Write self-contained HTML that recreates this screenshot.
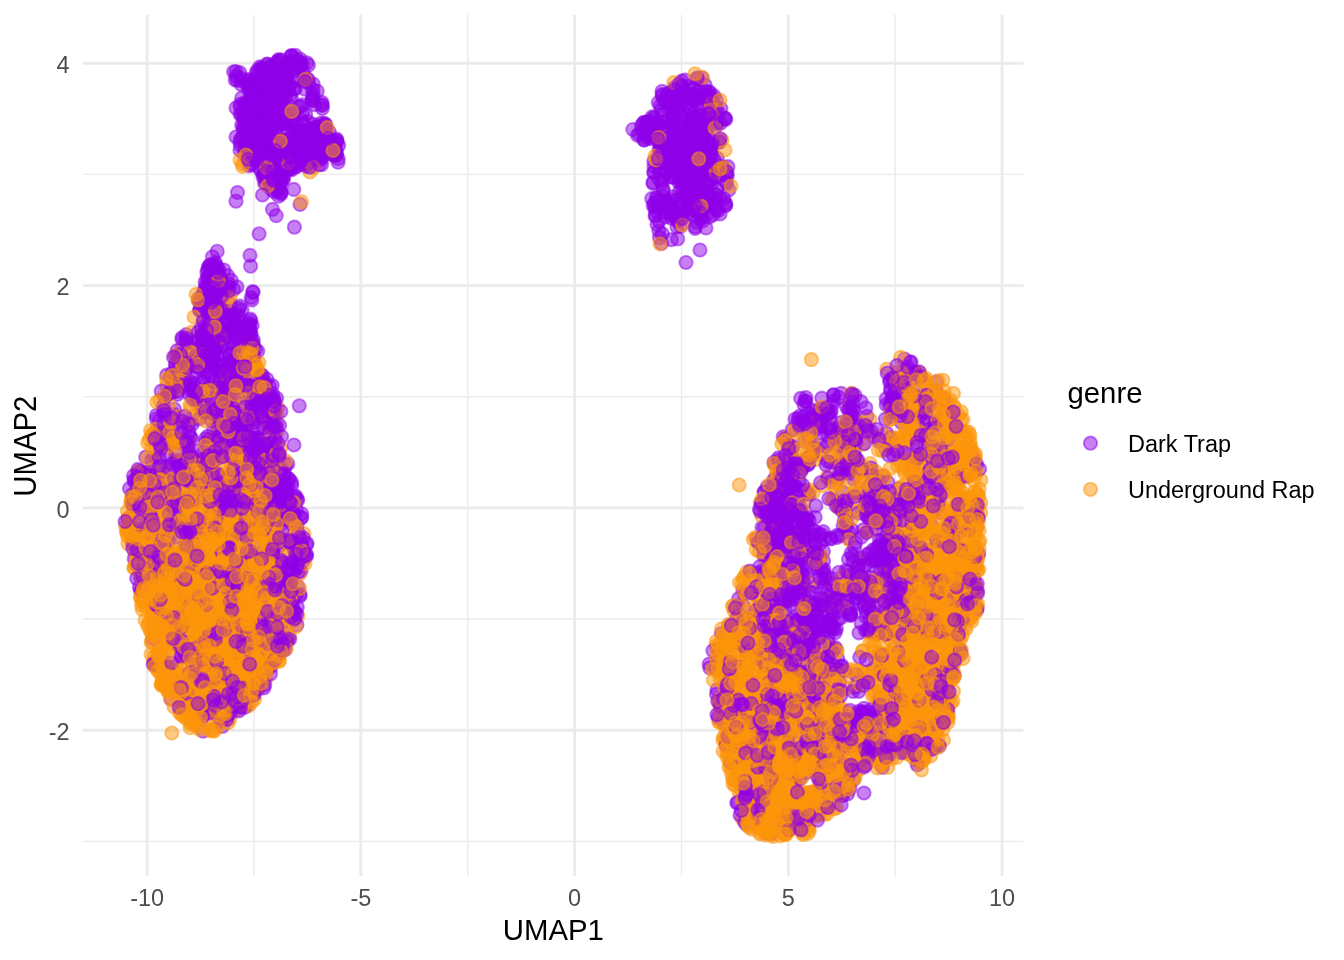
<!DOCTYPE html>
<html lang="en"><head><meta charset="utf-8"><title>UMAP genre</title>
<style>
html,body{margin:0;padding:0;background:#fff;}
body{width:1344px;height:960px;overflow:hidden;}
svg{display:block;}
text{font-family:"Liberation Sans",sans-serif;}
.tk{font-size:23.47px;fill:#4d4d4d;}
.tt{font-size:29.33px;fill:#000;}
.lg{font-size:23.47px;fill:#000;}
.mj{stroke:#ebebeb;stroke-width:2.85;}
.mn{stroke:#ebebeb;stroke-width:1.42;}
circle{stroke-width:1.9px;fill-opacity:.5;stroke-opacity:.5;}
#p{fill:#9000ea;stroke:#9000ea;}
#o{fill:#fe9609;stroke:#fe9609;}
</style></head><body>
<svg width="1344" height="960" viewBox="0 0 1344 960">
<defs><circle id="p" r="6.65"/><circle id="o" r="6.65"/></defs>
<rect width="1344" height="960" fill="#fff"/>
<g class="mn">
<line x1="83.1" x2="1023.45" y1="841.41" y2="841.41"/>
<line x1="83.1" x2="1023.45" y1="619.07" y2="619.07"/>
<line x1="83.1" x2="1023.45" y1="396.73" y2="396.73"/>
<line x1="83.1" x2="1023.45" y1="174.39" y2="174.39"/>
<line y1="14.85" y2="875.9" x1="253.98" x2="253.98"/>
<line y1="14.85" y2="875.9" x1="467.73" x2="467.73"/>
<line y1="14.85" y2="875.9" x1="681.48" x2="681.48"/>
<line y1="14.85" y2="875.9" x1="895.23" x2="895.23"/>
</g>
<g class="mj">
<line x1="83.1" x2="1023.45" y1="730.24" y2="730.24"/>
<line x1="83.1" x2="1023.45" y1="507.90" y2="507.90"/>
<line x1="83.1" x2="1023.45" y1="285.56" y2="285.56"/>
<line x1="83.1" x2="1023.45" y1="63.22" y2="63.22"/>
<line y1="14.85" y2="875.9" x1="147.10" x2="147.10"/>
<line y1="14.85" y2="875.9" x1="360.85" x2="360.85"/>
<line y1="14.85" y2="875.9" x1="574.60" x2="574.60"/>
<line y1="14.85" y2="875.9" x1="788.35" x2="788.35"/>
<line y1="14.85" y2="875.9" x1="1002.10" x2="1002.10"/>
</g>
<g id="pts">
<use href="#p" x="207.7" y="312.7"/><use href="#p" x="226.7" y="672.5"/><use href="#p" x="252.9" y="432.2"/><use href="#p" x="214.9" y="497.4"/><use href="#o" x="296.9" y="554.5"/><use href="#p" x="253.9" y="106.8"/><use href="#o" x="217.6" y="551.6"/><use href="#o" x="771.2" y="803.9"/>
<use href="#p" x="297.1" y="131.6"/><use href="#p" x="314.7" y="133.5"/><use href="#p" x="211.6" y="308.7"/><use href="#o" x="952.8" y="461.4"/><use href="#p" x="869.6" y="602.9"/><use href="#o" x="769.6" y="673.3"/><use href="#o" x="216.7" y="528.7"/><use href="#o" x="812.1" y="806.4"/>
<use href="#p" x="180.9" y="604.6"/><use href="#o" x="933.6" y="578.1"/><use href="#p" x="864.0" y="713.6"/><use href="#o" x="803.2" y="727.4"/><use href="#o" x="199.5" y="416.7"/><use href="#p" x="258.3" y="95.2"/><use href="#o" x="220.8" y="534.4"/><use href="#p" x="237.8" y="654.1"/>
<use href="#o" x="148.1" y="581.6"/><use href="#o" x="198.7" y="481.7"/><use href="#o" x="737.4" y="605.5"/><use href="#o" x="198.8" y="527.4"/><use href="#o" x="200.4" y="644.4"/><use href="#o" x="837.8" y="763.2"/><use href="#p" x="853.3" y="779.7"/><use href="#p" x="297.7" y="500.3"/>
<use href="#o" x="212.9" y="540.1"/><use href="#o" x="237.8" y="690.3"/><use href="#p" x="748.0" y="709.4"/><use href="#p" x="867.9" y="755.4"/><use href="#p" x="296.1" y="166.1"/><use href="#p" x="920.2" y="415.4"/><use href="#p" x="325.0" y="128.1"/><use href="#p" x="828.6" y="623.0"/>
<use href="#o" x="810.9" y="758.2"/><use href="#o" x="163.1" y="645.7"/><use href="#o" x="206.7" y="608.4"/><use href="#o" x="217.6" y="616.1"/><use href="#o" x="960.2" y="448.6"/><use href="#p" x="229.0" y="641.7"/><use href="#p" x="263.9" y="624.4"/><use href="#o" x="282.9" y="576.2"/>
<use href="#o" x="974.8" y="552.3"/><use href="#p" x="936.0" y="424.4"/><use href="#o" x="164.5" y="582.8"/><use href="#o" x="891.0" y="628.5"/><use href="#p" x="803.2" y="528.1"/><use href="#o" x="726.7" y="750.8"/><use href="#o" x="937.0" y="725.1"/><use href="#o" x="839.2" y="437.3"/>
<use href="#p" x="719.4" y="142.1"/><use href="#p" x="872.3" y="613.0"/><use href="#p" x="282.0" y="622.0"/><use href="#p" x="241.9" y="375.4"/><use href="#p" x="728.8" y="189.9"/><use href="#o" x="269.3" y="585.7"/><use href="#o" x="932.6" y="506.2"/><use href="#o" x="955.2" y="466.9"/>
<use href="#p" x="255.9" y="114.1"/><use href="#p" x="783.2" y="436.9"/><use href="#p" x="257.9" y="470.0"/><use href="#o" x="151.1" y="654.2"/><use href="#p" x="209.3" y="439.9"/><use href="#o" x="277.4" y="563.7"/><use href="#o" x="973.5" y="558.2"/><use href="#o" x="183.2" y="693.3"/>
<use href="#p" x="232.4" y="458.3"/><use href="#p" x="950.5" y="593.2"/><use href="#o" x="267.3" y="666.5"/><use href="#p" x="756.5" y="538.8"/><use href="#o" x="735.1" y="690.3"/><use href="#o" x="906.5" y="656.7"/><use href="#o" x="910.2" y="715.5"/><use href="#p" x="772.2" y="624.4"/>
<use href="#o" x="817.1" y="669.5"/><use href="#p" x="794.2" y="506.7"/><use href="#o" x="911.8" y="569.4"/><use href="#p" x="797.1" y="731.5"/><use href="#o" x="963.3" y="452.4"/><use href="#p" x="793.1" y="491.2"/><use href="#p" x="290.1" y="615.1"/><use href="#p" x="255.1" y="123.2"/>
<use href="#p" x="297.7" y="66.7"/><use href="#p" x="677.0" y="227.0"/><use href="#p" x="214.9" y="685.5"/><use href="#p" x="701.7" y="173.9"/><use href="#o" x="194.7" y="652.9"/><use href="#p" x="771.9" y="486.5"/><use href="#o" x="940.1" y="500.5"/><use href="#p" x="203.1" y="731.1"/>
<use href="#p" x="736.6" y="618.2"/><use href="#o" x="176.8" y="438.2"/><use href="#p" x="912.8" y="466.3"/><use href="#o" x="920.0" y="563.9"/><use href="#o" x="854.6" y="511.1"/><use href="#p" x="764.8" y="620.9"/><use href="#p" x="332.0" y="140.7"/><use href="#p" x="940.5" y="458.1"/>
<use href="#p" x="812.5" y="726.2"/><use href="#o" x="808.4" y="751.9"/><use href="#o" x="923.5" y="419.2"/><use href="#o" x="215.5" y="713.6"/><use href="#p" x="727.5" y="663.1"/><use href="#p" x="856.1" y="442.6"/><use href="#p" x="289.5" y="479.5"/><use href="#p" x="290.2" y="94.7"/>
<use href="#p" x="671.7" y="218.3"/><use href="#p" x="269.3" y="462.5"/><use href="#p" x="863.1" y="529.9"/><use href="#o" x="855.9" y="476.3"/><use href="#p" x="918.0" y="396.5"/><use href="#o" x="931.8" y="687.2"/><use href="#p" x="761.9" y="698.9"/><use href="#p" x="196.9" y="355.2"/>
<use href="#o" x="929.4" y="658.7"/><use href="#p" x="215.9" y="670.0"/><use href="#p" x="309.5" y="129.2"/><use href="#p" x="262.3" y="71.4"/><use href="#o" x="131.7" y="499.9"/><use href="#o" x="893.3" y="585.2"/><use href="#p" x="746.7" y="709.7"/><use href="#o" x="241.2" y="567.3"/>
<use href="#o" x="754.1" y="663.1"/><use href="#o" x="245.9" y="620.0"/><use href="#o" x="912.4" y="525.2"/><use href="#o" x="196.0" y="669.9"/><use href="#p" x="251.6" y="150.8"/><use href="#o" x="951.4" y="418.5"/><use href="#p" x="295.8" y="143.6"/><use href="#p" x="282.3" y="564.2"/>
<use href="#o" x="240.6" y="457.4"/><use href="#o" x="153.5" y="661.6"/><use href="#p" x="838.7" y="763.2"/><use href="#p" x="691.4" y="125.3"/><use href="#o" x="886.3" y="662.6"/><use href="#o" x="207.5" y="680.0"/><use href="#o" x="824.0" y="679.2"/><use href="#o" x="268.3" y="639.8"/>
<use href="#o" x="936.1" y="488.8"/><use href="#p" x="895.9" y="703.2"/><use href="#p" x="742.9" y="590.1"/><use href="#o" x="781.2" y="797.9"/><use href="#o" x="138.5" y="471.4"/><use href="#o" x="912.3" y="703.8"/><use href="#p" x="167.6" y="480.3"/><use href="#o" x="766.1" y="555.4"/>
<use href="#p" x="872.5" y="669.5"/><use href="#p" x="823.6" y="803.0"/><use href="#o" x="913.2" y="413.4"/><use href="#o" x="887.2" y="519.8"/><use href="#p" x="249.6" y="444.2"/><use href="#p" x="679.1" y="159.1"/><use href="#p" x="175.3" y="461.0"/><use href="#o" x="782.6" y="712.1"/>
<use href="#o" x="777.4" y="756.8"/><use href="#o" x="955.2" y="431.2"/><use href="#o" x="908.7" y="751.3"/><use href="#o" x="296.3" y="594.4"/><use href="#p" x="278.2" y="60.6"/><use href="#p" x="771.4" y="605.5"/><use href="#p" x="165.0" y="466.7"/><use href="#p" x="172.4" y="383.7"/>
<use href="#p" x="885.5" y="710.6"/><use href="#p" x="224.0" y="370.6"/><use href="#o" x="815.7" y="770.5"/><use href="#o" x="963.7" y="505.0"/><use href="#o" x="769.2" y="785.8"/><use href="#p" x="649.2" y="131.4"/><use href="#p" x="195.1" y="684.5"/><use href="#o" x="129.4" y="527.8"/>
<use href="#p" x="936.6" y="457.2"/><use href="#o" x="198.8" y="560.3"/><use href="#p" x="252.8" y="110.3"/><use href="#p" x="934.1" y="683.5"/><use href="#p" x="641.4" y="125.6"/><use href="#o" x="974.8" y="460.3"/><use href="#p" x="252.6" y="484.6"/><use href="#p" x="843.9" y="740.3"/>
<use href="#p" x="775.3" y="547.3"/><use href="#p" x="777.7" y="594.8"/><use href="#p" x="272.7" y="581.2"/><use href="#p" x="862.0" y="711.5"/><use href="#p" x="747.9" y="736.4"/><use href="#p" x="864.4" y="604.3"/><use href="#p" x="841.1" y="762.7"/><use href="#p" x="302.9" y="136.5"/>
<use href="#o" x="825.9" y="762.2"/><use href="#p" x="945.0" y="412.3"/><use href="#p" x="766.6" y="720.3"/><use href="#p" x="273.7" y="398.9"/><use href="#p" x="913.7" y="618.0"/><use href="#o" x="261.3" y="668.3"/><use href="#p" x="707.2" y="135.3"/><use href="#p" x="217.9" y="458.7"/>
<use href="#p" x="725.7" y="119.5"/><use href="#o" x="265.6" y="678.8"/><use href="#p" x="255.1" y="460.0"/><use href="#p" x="797.1" y="615.4"/><use href="#o" x="758.0" y="822.5"/><use href="#o" x="734.0" y="781.0"/><use href="#p" x="801.3" y="829.8"/><use href="#o" x="936.8" y="616.4"/>
<use href="#o" x="241.7" y="419.8"/><use href="#o" x="192.9" y="637.2"/><use href="#p" x="937.1" y="674.8"/><use href="#o" x="192.1" y="540.7"/><use href="#o" x="955.1" y="489.0"/><use href="#o" x="291.8" y="614.3"/><use href="#p" x="174.6" y="537.4"/><use href="#p" x="329.4" y="132.2"/>
<use href="#o" x="187.4" y="587.5"/><use href="#p" x="675.0" y="93.1"/><use href="#o" x="222.3" y="465.3"/><use href="#o" x="223.6" y="626.6"/><use href="#p" x="229.8" y="572.7"/><use href="#o" x="980.7" y="512.8"/><use href="#o" x="134.7" y="552.6"/><use href="#p" x="260.3" y="145.7"/>
<use href="#o" x="180.0" y="605.4"/><use href="#o" x="800.7" y="811.0"/><use href="#p" x="205.4" y="438.9"/><use href="#p" x="942.2" y="474.1"/><use href="#o" x="774.4" y="465.0"/><use href="#p" x="203.6" y="335.5"/><use href="#p" x="309.4" y="134.9"/><use href="#o" x="906.3" y="738.8"/>
<use href="#o" x="223.7" y="496.6"/><use href="#o" x="246.5" y="639.5"/><use href="#o" x="953.4" y="638.9"/><use href="#o" x="245.4" y="674.2"/><use href="#o" x="826.8" y="690.2"/><use href="#p" x="777.3" y="629.5"/><use href="#p" x="913.4" y="576.5"/><use href="#p" x="938.4" y="420.1"/>
<use href="#p" x="860.2" y="743.4"/><use href="#p" x="216.8" y="274.6"/><use href="#p" x="272.5" y="402.9"/><use href="#o" x="955.1" y="458.4"/><use href="#p" x="293.9" y="513.1"/><use href="#o" x="918.3" y="762.4"/><use href="#p" x="840.6" y="429.1"/><use href="#p" x="287.7" y="105.7"/>
<use href="#o" x="858.1" y="751.0"/><use href="#p" x="698.7" y="95.7"/><use href="#o" x="185.8" y="541.8"/><use href="#o" x="725.9" y="636.3"/><use href="#p" x="246.5" y="351.5"/><use href="#p" x="712.8" y="144.0"/><use href="#o" x="933.4" y="578.3"/><use href="#o" x="733.1" y="738.5"/>
<use href="#p" x="215.5" y="274.5"/><use href="#o" x="966.7" y="595.1"/><use href="#p" x="280.9" y="472.5"/><use href="#p" x="145.4" y="590.1"/><use href="#o" x="798.3" y="799.7"/><use href="#p" x="901.4" y="559.5"/><use href="#o" x="271.9" y="616.1"/><use href="#o" x="766.1" y="766.5"/>
<use href="#p" x="264.6" y="69.9"/><use href="#p" x="165.2" y="682.0"/><use href="#o" x="948.8" y="470.6"/><use href="#o" x="758.2" y="677.4"/><use href="#p" x="778.7" y="459.8"/><use href="#o" x="917.3" y="459.5"/><use href="#p" x="761.1" y="571.3"/><use href="#p" x="793.5" y="486.6"/>
<use href="#o" x="829.5" y="808.2"/><use href="#p" x="898.1" y="638.4"/><use href="#o" x="904.6" y="658.5"/><use href="#p" x="177.8" y="357.0"/><use href="#o" x="153.9" y="580.4"/><use href="#p" x="146.7" y="472.4"/><use href="#o" x="273.8" y="582.8"/><use href="#o" x="907.8" y="677.9"/>
<use href="#o" x="163.6" y="478.6"/><use href="#p" x="211.1" y="292.4"/><use href="#p" x="219.9" y="556.8"/><use href="#o" x="750.9" y="623.8"/><use href="#p" x="245.2" y="623.1"/><use href="#o" x="245.7" y="529.7"/><use href="#o" x="918.2" y="415.8"/><use href="#p" x="906.0" y="739.4"/>
<use href="#o" x="233.4" y="586.2"/><use href="#p" x="332.6" y="142.5"/><use href="#p" x="938.2" y="503.0"/><use href="#o" x="249.4" y="653.0"/><use href="#o" x="240.3" y="652.8"/><use href="#o" x="881.3" y="620.2"/><use href="#o" x="790.2" y="789.1"/><use href="#p" x="724.4" y="118.4"/>
<use href="#p" x="292.3" y="606.2"/><use href="#p" x="908.9" y="566.8"/><use href="#o" x="770.2" y="795.5"/><use href="#o" x="199.9" y="550.3"/><use href="#o" x="182.0" y="440.3"/><use href="#o" x="934.1" y="510.3"/><use href="#o" x="728.9" y="732.5"/><use href="#p" x="894.4" y="682.3"/>
<use href="#o" x="219.4" y="637.9"/><use href="#p" x="777.9" y="618.5"/><use href="#p" x="846.6" y="407.0"/><use href="#p" x="231.4" y="314.2"/><use href="#o" x="769.6" y="775.1"/><use href="#p" x="232.1" y="387.1"/><use href="#p" x="269.0" y="144.5"/><use href="#p" x="787.7" y="516.9"/>
<use href="#o" x="892.3" y="745.8"/><use href="#p" x="155.4" y="638.0"/><use href="#p" x="850.0" y="612.9"/><use href="#p" x="797.9" y="564.7"/><use href="#o" x="276.3" y="594.9"/><use href="#p" x="710.4" y="170.4"/><use href="#p" x="974.2" y="548.3"/><use href="#p" x="294.7" y="496.8"/>
<use href="#p" x="844.9" y="724.6"/><use href="#o" x="959.2" y="498.2"/><use href="#p" x="855.7" y="721.3"/><use href="#p" x="213.7" y="368.3"/><use href="#o" x="294.6" y="528.2"/><use href="#p" x="283.5" y="114.3"/><use href="#o" x="270.8" y="529.6"/><use href="#o" x="756.5" y="778.1"/>
<use href="#p" x="172.3" y="373.0"/><use href="#o" x="245.5" y="609.4"/><use href="#o" x="970.1" y="583.1"/><use href="#o" x="787.1" y="798.7"/><use href="#p" x="200.2" y="486.3"/><use href="#p" x="336.5" y="139.2"/><use href="#p" x="831.5" y="601.0"/><use href="#p" x="667.2" y="94.1"/>
<use href="#p" x="780.0" y="570.4"/><use href="#o" x="732.5" y="606.3"/><use href="#p" x="670.1" y="199.6"/><use href="#o" x="747.0" y="662.9"/><use href="#p" x="289.9" y="138.6"/><use href="#p" x="199.2" y="418.9"/><use href="#p" x="211.0" y="287.2"/><use href="#o" x="219.2" y="655.8"/>
<use href="#o" x="181.1" y="631.2"/><use href="#p" x="785.0" y="524.8"/><use href="#p" x="216.7" y="356.2"/><use href="#p" x="176.5" y="690.8"/><use href="#p" x="174.4" y="409.1"/><use href="#p" x="874.5" y="596.2"/><use href="#o" x="239.9" y="656.8"/><use href="#o" x="758.7" y="740.2"/>
<use href="#o" x="789.3" y="599.3"/><use href="#p" x="684.3" y="94.9"/><use href="#p" x="668.3" y="158.2"/><use href="#o" x="956.4" y="496.9"/><use href="#o" x="835.5" y="746.6"/><use href="#p" x="855.1" y="574.2"/><use href="#p" x="259.5" y="126.3"/><use href="#p" x="891.9" y="416.3"/>
<use href="#p" x="780.8" y="631.1"/><use href="#p" x="318.1" y="136.2"/><use href="#o" x="184.5" y="595.7"/><use href="#p" x="808.1" y="413.3"/><use href="#p" x="286.6" y="80.9"/><use href="#p" x="655.7" y="210.6"/><use href="#o" x="954.4" y="602.1"/><use href="#p" x="238.2" y="370.8"/>
<use href="#o" x="761.7" y="766.2"/><use href="#o" x="204.1" y="347.1"/><use href="#p" x="891.5" y="599.7"/><use href="#o" x="918.2" y="634.8"/><use href="#p" x="322.1" y="104.8"/><use href="#p" x="196.1" y="467.1"/><use href="#o" x="797.3" y="796.0"/><use href="#p" x="716.5" y="694.2"/>
<use href="#p" x="743.7" y="745.4"/><use href="#o" x="258.8" y="556.8"/><use href="#o" x="948.4" y="609.1"/><use href="#p" x="649.8" y="132.6"/><use href="#o" x="922.7" y="656.7"/><use href="#p" x="230.0" y="314.3"/><use href="#o" x="215.2" y="577.3"/><use href="#o" x="149.4" y="529.6"/>
<use href="#o" x="156.2" y="622.9"/><use href="#p" x="914.4" y="550.8"/><use href="#o" x="947.9" y="583.8"/><use href="#p" x="689.6" y="86.0"/><use href="#p" x="268.4" y="443.5"/><use href="#p" x="205.0" y="399.0"/><use href="#o" x="253.8" y="581.9"/><use href="#p" x="931.8" y="699.0"/>
<use href="#o" x="767.2" y="823.3"/><use href="#p" x="174.1" y="414.5"/><use href="#o" x="756.2" y="704.6"/><use href="#p" x="170.8" y="698.8"/><use href="#o" x="767.9" y="644.8"/><use href="#p" x="168.2" y="597.1"/><use href="#o" x="132.0" y="537.1"/><use href="#p" x="218.1" y="699.9"/>
<use href="#p" x="800.1" y="510.0"/><use href="#p" x="270.7" y="165.1"/><use href="#o" x="841.7" y="714.4"/><use href="#o" x="794.7" y="782.5"/><use href="#o" x="775.0" y="777.8"/><use href="#o" x="764.8" y="558.5"/><use href="#p" x="177.9" y="441.7"/><use href="#p" x="297.2" y="498.8"/>
<use href="#o" x="917.4" y="583.1"/><use href="#o" x="256.8" y="589.9"/><use href="#o" x="799.1" y="816.4"/><use href="#p" x="288.3" y="144.3"/><use href="#o" x="184.7" y="504.7"/><use href="#p" x="944.6" y="410.5"/><use href="#o" x="242.1" y="483.5"/><use href="#p" x="938.9" y="395.7"/>
<use href="#p" x="940.2" y="593.7"/><use href="#p" x="287.8" y="463.9"/><use href="#o" x="156.1" y="510.7"/><use href="#p" x="321.9" y="158.3"/><use href="#o" x="959.3" y="589.1"/><use href="#p" x="269.0" y="164.6"/><use href="#o" x="235.8" y="639.2"/><use href="#p" x="896.5" y="595.7"/>
<use href="#o" x="794.5" y="759.2"/><use href="#o" x="949.6" y="458.1"/><use href="#p" x="851.6" y="433.5"/><use href="#o" x="724.4" y="724.9"/><use href="#p" x="675.7" y="173.9"/><use href="#o" x="780.7" y="742.5"/><use href="#p" x="753.8" y="809.2"/><use href="#p" x="256.8" y="97.0"/>
<use href="#o" x="273.6" y="546.4"/><use href="#p" x="905.9" y="593.8"/><use href="#o" x="170.8" y="699.4"/><use href="#p" x="257.1" y="161.0"/><use href="#p" x="213.7" y="709.5"/><use href="#p" x="926.4" y="735.9"/><use href="#p" x="828.4" y="635.0"/><use href="#p" x="251.3" y="93.1"/>
<use href="#o" x="258.6" y="642.7"/><use href="#p" x="278.5" y="459.8"/><use href="#p" x="786.1" y="662.9"/><use href="#o" x="959.3" y="582.5"/><use href="#o" x="200.7" y="461.7"/><use href="#o" x="968.7" y="432.0"/><use href="#p" x="940.0" y="491.9"/><use href="#p" x="291.8" y="122.0"/>
<use href="#o" x="805.6" y="549.8"/><use href="#o" x="925.8" y="411.6"/><use href="#p" x="258.7" y="73.1"/><use href="#o" x="830.3" y="696.1"/><use href="#o" x="782.2" y="660.9"/><use href="#o" x="220.3" y="383.2"/><use href="#p" x="226.4" y="586.7"/><use href="#o" x="782.8" y="652.2"/>
<use href="#o" x="193.9" y="390.8"/><use href="#p" x="849.3" y="609.1"/><use href="#o" x="159.7" y="578.0"/><use href="#o" x="161.6" y="440.1"/><use href="#o" x="854.9" y="418.5"/><use href="#o" x="251.7" y="529.2"/><use href="#p" x="206.0" y="363.2"/><use href="#p" x="231.4" y="329.9"/>
<use href="#p" x="230.0" y="319.1"/><use href="#o" x="204.9" y="458.7"/><use href="#p" x="212.4" y="273.6"/><use href="#p" x="155.0" y="436.4"/><use href="#p" x="956.6" y="525.7"/><use href="#o" x="871.8" y="471.5"/><use href="#p" x="915.5" y="674.6"/><use href="#p" x="976.8" y="526.3"/>
<use href="#p" x="955.8" y="534.8"/><use href="#o" x="266.1" y="659.9"/><use href="#o" x="777.3" y="806.8"/><use href="#o" x="763.1" y="796.2"/><use href="#p" x="686.8" y="182.1"/><use href="#o" x="945.5" y="598.3"/><use href="#o" x="238.4" y="478.2"/><use href="#p" x="657.5" y="123.8"/>
<use href="#o" x="231.9" y="553.1"/><use href="#p" x="893.8" y="397.2"/><use href="#p" x="753.4" y="616.3"/><use href="#p" x="266.9" y="463.4"/><use href="#o" x="259.3" y="452.1"/><use href="#p" x="247.0" y="509.2"/><use href="#o" x="216.8" y="456.8"/><use href="#p" x="261.7" y="153.1"/>
<use href="#o" x="813.4" y="796.3"/><use href="#p" x="913.7" y="412.1"/><use href="#p" x="658.8" y="169.2"/><use href="#o" x="892.1" y="688.9"/><use href="#p" x="727.2" y="664.7"/><use href="#p" x="904.5" y="359.0"/><use href="#o" x="974.3" y="537.3"/><use href="#p" x="800.7" y="398.3"/>
<use href="#o" x="739.6" y="744.8"/><use href="#o" x="166.0" y="524.1"/><use href="#o" x="881.2" y="748.9"/><use href="#p" x="292.1" y="514.4"/><use href="#p" x="283.0" y="72.5"/><use href="#p" x="771.6" y="510.7"/><use href="#o" x="286.9" y="587.5"/><use href="#o" x="863.6" y="734.5"/>
<use href="#o" x="175.7" y="557.1"/><use href="#p" x="837.8" y="619.1"/><use href="#o" x="972.9" y="473.6"/><use href="#p" x="235.2" y="79.9"/><use href="#o" x="811.2" y="770.0"/><use href="#p" x="654.5" y="122.3"/><use href="#o" x="218.9" y="564.9"/><use href="#p" x="797.0" y="620.9"/>
<use href="#o" x="785.6" y="438.0"/><use href="#p" x="768.3" y="635.5"/><use href="#p" x="266.1" y="178.8"/><use href="#o" x="827.7" y="425.5"/><use href="#p" x="283.4" y="541.7"/><use href="#p" x="249.2" y="149.2"/><use href="#p" x="311.9" y="100.9"/><use href="#o" x="794.3" y="754.8"/>
<use href="#p" x="821.1" y="581.8"/><use href="#p" x="161.9" y="493.4"/><use href="#o" x="923.0" y="604.7"/><use href="#o" x="766.9" y="543.0"/><use href="#o" x="836.5" y="677.8"/><use href="#p" x="263.3" y="174.5"/><use href="#o" x="948.0" y="475.8"/><use href="#p" x="703.4" y="168.4"/>
<use href="#p" x="692.0" y="168.9"/><use href="#o" x="915.9" y="489.4"/><use href="#p" x="192.2" y="702.3"/><use href="#p" x="247.0" y="84.5"/><use href="#p" x="287.3" y="123.1"/><use href="#p" x="940.0" y="494.1"/><use href="#p" x="192.1" y="661.8"/><use href="#p" x="210.2" y="356.4"/>
<use href="#p" x="136.3" y="564.8"/><use href="#p" x="175.5" y="378.2"/><use href="#o" x="741.3" y="790.7"/><use href="#p" x="811.9" y="545.8"/><use href="#p" x="245.0" y="109.8"/><use href="#p" x="219.8" y="669.2"/><use href="#p" x="890.6" y="534.0"/><use href="#p" x="927.7" y="726.7"/>
<use href="#p" x="716.2" y="668.3"/><use href="#o" x="905.6" y="663.5"/><use href="#p" x="250.2" y="411.6"/><use href="#p" x="187.3" y="422.9"/><use href="#p" x="214.6" y="294.0"/><use href="#p" x="183.1" y="688.8"/><use href="#o" x="230.7" y="464.6"/><use href="#p" x="178.5" y="562.3"/>
<use href="#p" x="793.3" y="484.9"/><use href="#p" x="264.8" y="613.5"/><use href="#o" x="949.7" y="622.5"/><use href="#p" x="146.0" y="597.9"/><use href="#o" x="777.3" y="609.7"/><use href="#o" x="182.9" y="588.5"/><use href="#o" x="177.4" y="630.8"/><use href="#o" x="943.5" y="722.7"/>
<use href="#o" x="253.3" y="630.2"/><use href="#p" x="236.7" y="705.1"/><use href="#p" x="290.5" y="169.2"/><use href="#o" x="897.1" y="575.6"/><use href="#p" x="819.3" y="762.4"/><use href="#o" x="814.4" y="796.6"/><use href="#o" x="246.6" y="585.1"/><use href="#o" x="150.9" y="496.0"/>
<use href="#o" x="269.3" y="452.8"/><use href="#p" x="801.0" y="512.0"/><use href="#p" x="787.0" y="622.2"/><use href="#p" x="247.5" y="446.9"/><use href="#p" x="785.2" y="601.9"/><use href="#p" x="890.6" y="596.7"/><use href="#p" x="787.8" y="742.3"/><use href="#o" x="239.8" y="608.2"/>
<use href="#o" x="765.5" y="586.2"/><use href="#p" x="285.4" y="113.4"/><use href="#o" x="785.8" y="773.5"/><use href="#p" x="791.1" y="480.5"/><use href="#o" x="953.6" y="565.6"/><use href="#o" x="763.1" y="729.9"/><use href="#p" x="161.1" y="491.8"/><use href="#o" x="907.9" y="706.5"/>
<use href="#o" x="158.7" y="671.0"/><use href="#p" x="255.1" y="459.7"/><use href="#p" x="781.0" y="775.5"/><use href="#p" x="317.1" y="135.1"/><use href="#o" x="821.0" y="451.7"/><use href="#o" x="217.6" y="518.3"/><use href="#o" x="193.0" y="713.3"/><use href="#p" x="912.4" y="474.1"/>
<use href="#p" x="838.9" y="670.1"/><use href="#o" x="211.4" y="568.9"/><use href="#o" x="975.5" y="454.1"/><use href="#o" x="745.9" y="741.7"/><use href="#p" x="929.2" y="505.8"/><use href="#p" x="265.6" y="153.0"/><use href="#p" x="789.4" y="745.4"/><use href="#p" x="674.8" y="177.5"/>
<use href="#o" x="147.0" y="581.3"/><use href="#o" x="971.0" y="495.9"/><use href="#o" x="291.0" y="595.7"/><use href="#o" x="801.2" y="744.1"/><use href="#o" x="244.2" y="676.9"/><use href="#o" x="234.2" y="642.6"/><use href="#p" x="762.0" y="527.4"/><use href="#p" x="942.3" y="567.9"/>
<use href="#o" x="758.2" y="664.1"/><use href="#p" x="267.2" y="504.3"/><use href="#o" x="859.5" y="761.2"/><use href="#o" x="906.9" y="711.1"/><use href="#p" x="271.1" y="173.6"/><use href="#p" x="185.8" y="608.7"/><use href="#p" x="300.0" y="107.0"/><use href="#o" x="273.4" y="600.1"/>
<use href="#o" x="209.4" y="526.7"/><use href="#p" x="276.4" y="466.2"/><use href="#p" x="232.3" y="576.5"/><use href="#p" x="977.3" y="590.7"/><use href="#p" x="939.3" y="491.7"/><use href="#o" x="222.3" y="707.7"/><use href="#p" x="717.1" y="689.7"/><use href="#p" x="776.6" y="551.1"/>
<use href="#o" x="914.8" y="638.0"/><use href="#o" x="277.4" y="510.8"/><use href="#o" x="197.1" y="564.1"/><use href="#p" x="154.8" y="432.8"/><use href="#p" x="729.3" y="678.4"/><use href="#o" x="953.6" y="445.7"/><use href="#p" x="850.0" y="788.7"/><use href="#o" x="913.4" y="734.7"/>
<use href="#o" x="888.3" y="676.7"/><use href="#o" x="763.9" y="751.7"/><use href="#p" x="936.4" y="391.2"/><use href="#p" x="224.3" y="336.7"/><use href="#p" x="192.3" y="384.6"/><use href="#p" x="843.1" y="525.9"/><use href="#o" x="895.3" y="441.7"/><use href="#p" x="775.4" y="507.4"/>
<use href="#p" x="186.3" y="334.7"/><use href="#o" x="855.0" y="751.4"/><use href="#o" x="184.9" y="681.8"/><use href="#o" x="237.5" y="429.0"/><use href="#o" x="902.0" y="437.9"/><use href="#o" x="852.0" y="738.6"/><use href="#p" x="858.9" y="492.6"/><use href="#o" x="881.2" y="663.5"/>
<use href="#o" x="732.4" y="625.9"/><use href="#o" x="252.4" y="597.8"/><use href="#o" x="233.1" y="577.4"/><use href="#o" x="938.3" y="664.4"/><use href="#o" x="217.1" y="503.1"/><use href="#p" x="307.2" y="140.0"/><use href="#p" x="770.5" y="630.5"/><use href="#p" x="128.3" y="519.1"/>
<use href="#o" x="956.3" y="592.5"/><use href="#p" x="239.3" y="437.4"/><use href="#o" x="980.8" y="502.7"/><use href="#p" x="786.0" y="657.4"/><use href="#o" x="889.9" y="633.8"/><use href="#p" x="813.7" y="613.7"/><use href="#p" x="222.2" y="337.4"/><use href="#o" x="190.2" y="549.1"/>
<use href="#p" x="278.0" y="70.9"/><use href="#o" x="798.1" y="775.2"/><use href="#o" x="229.0" y="685.9"/><use href="#o" x="247.3" y="413.7"/><use href="#p" x="940.8" y="537.6"/><use href="#o" x="215.7" y="693.2"/><use href="#o" x="769.6" y="526.2"/><use href="#o" x="166.3" y="638.4"/>
<use href="#o" x="918.3" y="527.1"/><use href="#o" x="203.5" y="468.3"/><use href="#p" x="198.8" y="301.2"/><use href="#o" x="940.5" y="661.5"/><use href="#o" x="910.6" y="429.6"/><use href="#o" x="194.7" y="682.5"/><use href="#o" x="973.4" y="542.9"/><use href="#o" x="948.5" y="568.8"/>
<use href="#p" x="688.5" y="152.3"/><use href="#o" x="936.5" y="682.4"/><use href="#p" x="261.4" y="677.8"/><use href="#o" x="939.8" y="680.6"/><use href="#p" x="155.1" y="600.9"/><use href="#o" x="751.3" y="712.5"/><use href="#p" x="783.9" y="476.9"/><use href="#p" x="840.1" y="475.6"/>
<use href="#p" x="296.5" y="166.7"/><use href="#p" x="755.4" y="785.1"/><use href="#o" x="239.6" y="575.8"/><use href="#o" x="956.4" y="615.6"/><use href="#o" x="182.3" y="521.3"/><use href="#p" x="225.6" y="707.8"/><use href="#p" x="230.1" y="512.2"/><use href="#p" x="850.7" y="731.6"/>
<use href="#p" x="228.0" y="330.3"/><use href="#p" x="150.3" y="493.6"/><use href="#o" x="747.8" y="780.7"/><use href="#o" x="174.7" y="570.3"/><use href="#o" x="921.5" y="586.8"/><use href="#p" x="776.8" y="704.5"/><use href="#o" x="158.1" y="595.5"/><use href="#o" x="762.8" y="820.2"/>
<use href="#o" x="212.7" y="411.2"/><use href="#p" x="267.0" y="152.2"/><use href="#p" x="704.2" y="207.8"/><use href="#p" x="719.3" y="141.9"/><use href="#o" x="179.8" y="360.2"/><use href="#p" x="277.3" y="585.0"/><use href="#p" x="199.1" y="491.0"/><use href="#o" x="964.7" y="504.7"/>
<use href="#p" x="674.5" y="102.1"/><use href="#o" x="953.2" y="586.7"/><use href="#p" x="893.9" y="741.4"/><use href="#o" x="886.8" y="369.0"/><use href="#p" x="838.7" y="725.7"/><use href="#o" x="275.8" y="555.7"/><use href="#o" x="733.9" y="640.6"/><use href="#p" x="254.5" y="542.8"/>
<use href="#o" x="834.9" y="666.5"/><use href="#p" x="923.6" y="411.4"/><use href="#p" x="237.4" y="393.1"/><use href="#p" x="790.7" y="533.2"/><use href="#o" x="889.5" y="638.4"/><use href="#p" x="193.2" y="349.2"/><use href="#o" x="142.4" y="540.9"/><use href="#p" x="752.2" y="815.7"/>
<use href="#o" x="145.5" y="496.9"/><use href="#o" x="211.1" y="664.1"/><use href="#o" x="957.5" y="620.0"/><use href="#p" x="801.6" y="582.5"/><use href="#o" x="752.8" y="717.0"/><use href="#p" x="198.9" y="366.7"/><use href="#p" x="893.9" y="616.7"/><use href="#p" x="244.8" y="150.0"/>
<use href="#o" x="263.3" y="660.3"/><use href="#o" x="978.6" y="541.8"/><use href="#p" x="237.5" y="705.8"/><use href="#o" x="882.6" y="717.8"/><use href="#p" x="689.3" y="197.0"/><use href="#o" x="940.1" y="456.9"/><use href="#p" x="282.9" y="72.6"/><use href="#o" x="953.5" y="405.9"/>
<use href="#o" x="954.7" y="466.3"/><use href="#p" x="806.8" y="519.1"/><use href="#o" x="904.2" y="731.9"/><use href="#p" x="279.7" y="484.9"/><use href="#o" x="910.5" y="636.7"/><use href="#p" x="270.9" y="185.6"/><use href="#p" x="787.1" y="723.4"/><use href="#o" x="730.8" y="664.3"/>
<use href="#o" x="195.5" y="703.8"/><use href="#p" x="694.0" y="148.0"/><use href="#p" x="682.1" y="91.0"/><use href="#o" x="760.3" y="502.3"/><use href="#p" x="871.9" y="709.1"/><use href="#o" x="904.7" y="644.5"/><use href="#p" x="651.7" y="137.3"/><use href="#o" x="780.2" y="835.8"/>
<use href="#o" x="831.0" y="582.6"/><use href="#p" x="867.1" y="426.8"/><use href="#p" x="756.8" y="682.8"/><use href="#o" x="250.1" y="681.0"/><use href="#p" x="250.3" y="148.4"/><use href="#p" x="682.2" y="213.8"/><use href="#o" x="926.4" y="550.4"/><use href="#o" x="953.0" y="700.9"/>
<use href="#p" x="292.8" y="56.7"/><use href="#o" x="252.3" y="343.7"/><use href="#p" x="292.5" y="546.2"/><use href="#p" x="215.9" y="265.0"/><use href="#p" x="248.6" y="421.5"/><use href="#p" x="268.9" y="101.2"/><use href="#p" x="882.2" y="763.9"/><use href="#o" x="738.9" y="765.7"/>
<use href="#p" x="902.8" y="614.5"/><use href="#p" x="252.6" y="136.2"/><use href="#p" x="254.5" y="149.3"/><use href="#o" x="185.9" y="446.6"/><use href="#p" x="271.6" y="81.1"/><use href="#p" x="798.6" y="524.9"/><use href="#p" x="247.9" y="418.0"/><use href="#p" x="890.0" y="380.1"/>
<use href="#p" x="247.9" y="648.3"/><use href="#p" x="249.4" y="671.2"/><use href="#o" x="954.9" y="479.1"/><use href="#o" x="158.7" y="659.1"/><use href="#o" x="952.0" y="560.9"/><use href="#o" x="757.6" y="824.2"/><use href="#p" x="680.5" y="113.4"/><use href="#p" x="762.7" y="574.0"/>
<use href="#o" x="720.6" y="674.5"/><use href="#p" x="287.8" y="600.3"/><use href="#o" x="223.7" y="582.8"/><use href="#p" x="182.1" y="337.7"/><use href="#o" x="210.4" y="644.7"/><use href="#p" x="961.2" y="653.6"/><use href="#o" x="794.6" y="676.7"/><use href="#o" x="935.5" y="676.7"/>
<use href="#o" x="735.2" y="663.3"/><use href="#o" x="796.4" y="780.0"/><use href="#p" x="785.2" y="719.3"/><use href="#p" x="186.7" y="601.8"/><use href="#p" x="249.8" y="328.7"/><use href="#p" x="820.0" y="690.2"/><use href="#o" x="910.9" y="629.4"/><use href="#p" x="773.5" y="778.1"/>
<use href="#p" x="321.9" y="145.4"/><use href="#o" x="140.8" y="597.6"/><use href="#p" x="643.9" y="122.5"/><use href="#o" x="277.9" y="598.8"/><use href="#o" x="255.7" y="494.8"/><use href="#p" x="815.5" y="632.0"/><use href="#p" x="271.4" y="166.3"/><use href="#o" x="240.6" y="653.1"/>
<use href="#o" x="198.2" y="707.7"/><use href="#o" x="956.0" y="613.8"/><use href="#o" x="201.4" y="598.6"/><use href="#o" x="197.5" y="670.3"/><use href="#o" x="160.2" y="647.7"/><use href="#o" x="152.7" y="488.5"/><use href="#p" x="285.5" y="582.4"/><use href="#o" x="961.1" y="495.9"/>
<use href="#p" x="762.2" y="630.7"/><use href="#p" x="157.3" y="488.4"/><use href="#p" x="761.0" y="811.4"/><use href="#o" x="185.2" y="557.8"/><use href="#o" x="760.8" y="719.1"/><use href="#p" x="789.0" y="495.3"/><use href="#p" x="935.1" y="423.8"/><use href="#p" x="262.3" y="93.8"/>
<use href="#p" x="871.6" y="558.9"/><use href="#o" x="783.3" y="812.4"/><use href="#p" x="245.9" y="107.3"/><use href="#p" x="204.9" y="676.0"/><use href="#o" x="791.8" y="458.6"/><use href="#o" x="230.8" y="691.5"/><use href="#p" x="218.3" y="388.2"/><use href="#p" x="264.4" y="421.2"/>
<use href="#o" x="725.8" y="729.4"/><use href="#o" x="868.7" y="432.8"/><use href="#o" x="919.7" y="467.3"/><use href="#p" x="848.8" y="532.0"/><use href="#o" x="868.2" y="762.0"/><use href="#o" x="262.4" y="680.8"/><use href="#o" x="250.9" y="608.3"/><use href="#o" x="181.3" y="387.0"/>
<use href="#o" x="903.6" y="412.6"/><use href="#p" x="778.1" y="585.3"/><use href="#p" x="801.0" y="599.2"/><use href="#p" x="270.9" y="416.7"/><use href="#p" x="318.6" y="126.9"/><use href="#p" x="203.0" y="668.3"/><use href="#p" x="134.3" y="558.9"/><use href="#p" x="881.8" y="552.9"/>
<use href="#p" x="134.4" y="509.7"/><use href="#p" x="194.4" y="654.8"/><use href="#p" x="149.1" y="474.2"/><use href="#o" x="797.2" y="713.1"/><use href="#o" x="267.8" y="426.3"/><use href="#p" x="856.7" y="720.6"/><use href="#p" x="271.7" y="427.8"/><use href="#o" x="243.9" y="592.0"/>
<use href="#o" x="182.3" y="583.4"/><use href="#o" x="764.4" y="682.7"/><use href="#o" x="235.0" y="406.4"/><use href="#o" x="774.2" y="814.4"/><use href="#o" x="218.3" y="700.6"/><use href="#o" x="927.6" y="498.5"/><use href="#p" x="276.4" y="156.7"/><use href="#o" x="757.6" y="595.3"/>
<use href="#p" x="904.3" y="386.6"/><use href="#o" x="780.4" y="786.7"/><use href="#p" x="255.2" y="110.5"/><use href="#p" x="780.6" y="820.5"/><use href="#o" x="260.8" y="387.8"/><use href="#p" x="312.6" y="136.2"/><use href="#o" x="215.8" y="677.1"/><use href="#p" x="771.3" y="704.8"/>
<use href="#p" x="264.5" y="82.0"/><use href="#o" x="224.9" y="506.9"/><use href="#p" x="872.0" y="741.8"/><use href="#p" x="807.4" y="633.0"/><use href="#p" x="851.2" y="553.2"/><use href="#p" x="683.2" y="101.4"/><use href="#o" x="872.2" y="640.0"/><use href="#o" x="862.0" y="559.4"/>
<use href="#p" x="917.9" y="608.7"/><use href="#p" x="238.6" y="486.8"/><use href="#o" x="243.4" y="588.1"/><use href="#p" x="901.5" y="422.6"/><use href="#p" x="951.3" y="640.6"/><use href="#o" x="886.8" y="634.7"/><use href="#o" x="958.4" y="611.2"/><use href="#o" x="275.2" y="431.1"/>
<use href="#p" x="660.6" y="162.1"/><use href="#p" x="301.7" y="144.9"/><use href="#o" x="212.8" y="650.8"/><use href="#o" x="192.7" y="500.7"/><use href="#p" x="921.5" y="505.1"/><use href="#o" x="301.5" y="539.8"/><use href="#p" x="246.3" y="385.8"/><use href="#o" x="243.1" y="597.7"/>
<use href="#o" x="243.0" y="671.6"/><use href="#p" x="898.8" y="488.7"/><use href="#o" x="769.0" y="739.3"/><use href="#o" x="737.7" y="765.9"/><use href="#p" x="221.9" y="690.7"/><use href="#o" x="244.8" y="689.8"/><use href="#p" x="239.8" y="141.4"/><use href="#o" x="831.7" y="714.4"/>
<use href="#o" x="141.3" y="548.4"/><use href="#p" x="169.3" y="540.6"/><use href="#p" x="746.0" y="797.0"/><use href="#o" x="182.8" y="703.8"/><use href="#p" x="249.7" y="488.5"/><use href="#o" x="729.0" y="743.4"/><use href="#o" x="923.6" y="594.4"/><use href="#p" x="312.1" y="157.7"/>
<use href="#o" x="917.7" y="406.8"/><use href="#p" x="186.7" y="557.0"/><use href="#o" x="958.3" y="636.6"/><use href="#o" x="182.8" y="504.4"/><use href="#o" x="837.9" y="463.4"/><use href="#o" x="253.1" y="693.1"/><use href="#p" x="278.0" y="169.4"/><use href="#o" x="231.4" y="473.4"/>
<use href="#p" x="872.3" y="718.7"/><use href="#p" x="914.4" y="602.6"/><use href="#p" x="272.1" y="97.5"/><use href="#o" x="196.4" y="567.2"/><use href="#o" x="188.6" y="441.3"/><use href="#p" x="686.1" y="188.5"/><use href="#p" x="632.9" y="129.5"/><use href="#p" x="229.2" y="440.7"/>
<use href="#o" x="216.7" y="563.1"/><use href="#o" x="206.4" y="585.5"/><use href="#o" x="236.3" y="654.3"/><use href="#o" x="911.7" y="662.1"/><use href="#o" x="228.6" y="486.8"/><use href="#o" x="948.0" y="722.3"/><use href="#p" x="243.4" y="481.9"/><use href="#p" x="298.0" y="586.6"/>
<use href="#o" x="918.9" y="713.1"/><use href="#o" x="848.4" y="764.7"/><use href="#o" x="964.2" y="475.1"/><use href="#p" x="214.8" y="322.7"/><use href="#o" x="845.8" y="452.7"/><use href="#o" x="152.3" y="437.3"/><use href="#p" x="767.6" y="732.8"/><use href="#p" x="284.7" y="74.3"/>
<use href="#p" x="257.6" y="152.6"/><use href="#o" x="918.4" y="718.1"/><use href="#o" x="752.2" y="626.9"/><use href="#o" x="148.7" y="605.3"/><use href="#o" x="789.9" y="445.5"/><use href="#o" x="758.5" y="599.5"/><use href="#o" x="849.2" y="773.0"/><use href="#p" x="808.5" y="747.8"/>
<use href="#o" x="962.4" y="635.4"/><use href="#o" x="783.1" y="806.5"/><use href="#p" x="937.8" y="744.3"/><use href="#p" x="161.0" y="530.6"/><use href="#o" x="255.3" y="527.3"/><use href="#o" x="920.1" y="454.0"/><use href="#o" x="896.8" y="548.2"/><use href="#p" x="287.7" y="638.6"/>
<use href="#p" x="776.1" y="793.7"/><use href="#p" x="815.9" y="421.5"/><use href="#o" x="211.0" y="517.3"/><use href="#o" x="719.0" y="722.2"/><use href="#p" x="842.4" y="741.6"/><use href="#o" x="795.4" y="783.4"/><use href="#p" x="900.0" y="512.6"/><use href="#o" x="193.7" y="713.4"/>
<use href="#p" x="889.7" y="553.7"/><use href="#p" x="935.8" y="692.6"/><use href="#o" x="159.7" y="400.6"/><use href="#o" x="213.1" y="719.1"/><use href="#o" x="231.3" y="458.6"/><use href="#o" x="202.4" y="552.9"/><use href="#p" x="252.0" y="400.2"/><use href="#o" x="934.8" y="678.2"/>
<use href="#p" x="801.2" y="751.8"/><use href="#o" x="954.9" y="605.6"/><use href="#o" x="736.8" y="763.4"/><use href="#p" x="270.1" y="459.3"/><use href="#p" x="698.4" y="202.8"/><use href="#o" x="230.0" y="536.8"/><use href="#o" x="202.4" y="626.0"/><use href="#p" x="215.0" y="273.2"/>
<use href="#p" x="660.4" y="147.3"/><use href="#p" x="781.8" y="522.7"/><use href="#p" x="171.9" y="392.9"/><use href="#p" x="291.5" y="482.1"/><use href="#p" x="738.7" y="598.7"/><use href="#p" x="226.5" y="493.8"/><use href="#o" x="793.2" y="758.9"/><use href="#p" x="284.4" y="84.5"/>
<use href="#o" x="928.6" y="668.3"/><use href="#p" x="751.6" y="799.3"/><use href="#p" x="644.4" y="140.1"/><use href="#o" x="755.3" y="630.0"/><use href="#o" x="767.0" y="603.2"/><use href="#p" x="709.7" y="165.4"/><use href="#p" x="805.5" y="490.4"/><use href="#p" x="163.9" y="472.8"/>
<use href="#o" x="912.1" y="701.7"/><use href="#p" x="254.0" y="115.2"/><use href="#p" x="255.5" y="97.1"/><use href="#o" x="806.1" y="805.3"/><use href="#o" x="716.0" y="661.4"/><use href="#p" x="208.6" y="471.0"/><use href="#o" x="757.3" y="713.2"/><use href="#o" x="242.1" y="570.4"/>
<use href="#o" x="747.4" y="717.8"/><use href="#p" x="282.8" y="630.8"/><use href="#o" x="884.6" y="610.9"/><use href="#o" x="260.5" y="612.9"/><use href="#p" x="926.2" y="529.2"/><use href="#o" x="288.4" y="554.7"/><use href="#p" x="846.0" y="749.0"/><use href="#o" x="808.8" y="754.2"/>
<use href="#p" x="233.6" y="289.5"/><use href="#p" x="318.5" y="128.4"/><use href="#o" x="808.3" y="825.6"/><use href="#p" x="677.8" y="220.8"/><use href="#p" x="179.9" y="463.5"/><use href="#p" x="838.0" y="758.3"/><use href="#p" x="877.1" y="501.9"/><use href="#p" x="890.9" y="672.0"/>
<use href="#p" x="882.6" y="628.0"/><use href="#o" x="272.6" y="654.7"/><use href="#o" x="276.7" y="540.6"/><use href="#o" x="848.8" y="444.8"/><use href="#p" x="743.0" y="750.7"/><use href="#p" x="238.8" y="353.9"/><use href="#o" x="951.4" y="480.8"/><use href="#p" x="209.2" y="662.5"/>
<use href="#o" x="949.1" y="647.3"/><use href="#p" x="797.4" y="592.5"/><use href="#o" x="130.6" y="502.8"/><use href="#p" x="222.2" y="296.4"/><use href="#p" x="255.7" y="79.4"/><use href="#p" x="749.6" y="804.9"/><use href="#o" x="203.6" y="559.7"/><use href="#p" x="146.9" y="578.6"/>
<use href="#o" x="889.6" y="633.7"/><use href="#o" x="209.2" y="562.1"/><use href="#o" x="820.0" y="814.3"/><use href="#o" x="788.6" y="759.0"/><use href="#p" x="812.4" y="647.5"/><use href="#p" x="786.2" y="804.1"/><use href="#p" x="262.6" y="402.6"/><use href="#o" x="977.7" y="603.9"/>
<use href="#p" x="317.3" y="144.3"/><use href="#p" x="302.6" y="157.3"/><use href="#o" x="226.3" y="537.9"/><use href="#p" x="931.5" y="404.9"/><use href="#o" x="202.7" y="588.2"/><use href="#p" x="792.9" y="477.1"/><use href="#o" x="872.5" y="695.8"/><use href="#p" x="682.5" y="188.1"/>
<use href="#p" x="232.0" y="415.8"/><use href="#o" x="785.2" y="729.4"/><use href="#o" x="959.0" y="580.4"/><use href="#p" x="755.7" y="698.1"/><use href="#p" x="250.9" y="86.9"/><use href="#p" x="817.9" y="793.5"/><use href="#o" x="807.6" y="536.5"/><use href="#o" x="149.5" y="549.8"/>
<use href="#o" x="740.6" y="662.9"/><use href="#o" x="186.1" y="690.4"/><use href="#p" x="654.1" y="117.3"/><use href="#o" x="168.9" y="684.5"/><use href="#o" x="243.4" y="327.8"/><use href="#p" x="850.0" y="575.2"/><use href="#p" x="263.3" y="121.4"/><use href="#o" x="196.5" y="534.5"/>
<use href="#p" x="209.9" y="290.9"/><use href="#o" x="895.3" y="701.2"/><use href="#o" x="877.2" y="617.3"/><use href="#o" x="786.0" y="541.1"/><use href="#o" x="151.9" y="595.8"/><use href="#p" x="268.8" y="418.7"/><use href="#p" x="746.7" y="763.1"/><use href="#p" x="845.7" y="429.8"/>
<use href="#o" x="262.1" y="574.0"/><use href="#o" x="961.3" y="477.3"/><use href="#p" x="868.3" y="505.7"/><use href="#o" x="219.5" y="536.1"/><use href="#o" x="732.9" y="783.8"/><use href="#o" x="949.4" y="507.3"/><use href="#o" x="833.3" y="500.0"/><use href="#o" x="949.7" y="454.6"/>
<use href="#p" x="695.1" y="228.3"/><use href="#p" x="872.9" y="737.5"/><use href="#p" x="205.2" y="297.1"/><use href="#o" x="764.5" y="540.3"/><use href="#o" x="209.7" y="417.9"/><use href="#p" x="304.1" y="163.7"/><use href="#p" x="293.0" y="112.6"/><use href="#p" x="239.3" y="495.6"/>
<use href="#o" x="246.0" y="688.3"/><use href="#p" x="226.9" y="331.8"/><use href="#p" x="685.3" y="152.0"/><use href="#o" x="208.2" y="533.8"/><use href="#p" x="829.7" y="620.3"/><use href="#p" x="266.6" y="410.1"/><use href="#o" x="232.4" y="531.8"/><use href="#p" x="659.2" y="149.6"/>
<use href="#o" x="170.6" y="584.0"/><use href="#p" x="960.2" y="603.0"/><use href="#o" x="908.4" y="389.9"/><use href="#o" x="256.8" y="639.8"/><use href="#o" x="782.8" y="772.5"/><use href="#p" x="284.3" y="475.7"/><use href="#o" x="227.5" y="647.3"/><use href="#o" x="918.8" y="497.1"/>
<use href="#o" x="954.6" y="662.7"/><use href="#o" x="912.9" y="397.6"/><use href="#o" x="935.9" y="578.7"/><use href="#p" x="282.5" y="152.2"/><use href="#o" x="759.9" y="729.9"/><use href="#o" x="906.0" y="685.7"/><use href="#p" x="937.8" y="601.7"/><use href="#p" x="281.3" y="192.4"/>
<use href="#p" x="746.8" y="824.7"/><use href="#o" x="804.2" y="761.6"/><use href="#p" x="287.3" y="540.0"/><use href="#o" x="817.8" y="776.2"/><use href="#o" x="252.1" y="379.4"/><use href="#p" x="839.7" y="682.5"/><use href="#o" x="879.4" y="675.0"/><use href="#o" x="169.4" y="648.2"/>
<use href="#p" x="281.5" y="513.9"/><use href="#o" x="242.2" y="668.4"/><use href="#o" x="289.6" y="635.9"/><use href="#p" x="280.0" y="590.5"/><use href="#o" x="930.6" y="679.7"/><use href="#o" x="799.3" y="768.7"/><use href="#p" x="249.6" y="394.2"/><use href="#o" x="905.9" y="727.0"/>
<use href="#p" x="894.0" y="537.3"/><use href="#o" x="947.1" y="647.2"/><use href="#p" x="688.7" y="155.2"/><use href="#o" x="205.9" y="485.2"/><use href="#p" x="770.1" y="736.9"/><use href="#o" x="754.8" y="807.5"/><use href="#o" x="181.8" y="605.4"/><use href="#o" x="948.4" y="715.0"/>
<use href="#p" x="278.9" y="500.5"/><use href="#p" x="196.3" y="357.8"/><use href="#p" x="213.7" y="500.7"/><use href="#p" x="257.8" y="351.1"/><use href="#p" x="264.7" y="603.0"/><use href="#p" x="236.4" y="359.6"/><use href="#o" x="221.9" y="280.3"/><use href="#o" x="900.4" y="680.2"/>
<use href="#o" x="945.4" y="594.8"/><use href="#o" x="137.5" y="555.1"/><use href="#o" x="250.4" y="579.7"/><use href="#o" x="254.5" y="677.6"/><use href="#o" x="928.8" y="569.7"/><use href="#o" x="236.6" y="562.8"/><use href="#p" x="267.7" y="136.5"/><use href="#p" x="780.1" y="583.6"/>
<use href="#p" x="195.1" y="501.0"/><use href="#o" x="830.5" y="760.0"/><use href="#p" x="278.9" y="545.7"/><use href="#o" x="945.9" y="529.6"/><use href="#o" x="831.8" y="499.2"/><use href="#o" x="927.0" y="529.9"/><use href="#o" x="808.7" y="603.5"/><use href="#o" x="200.1" y="460.0"/>
<use href="#p" x="776.1" y="699.7"/><use href="#o" x="929.0" y="562.6"/><use href="#o" x="813.5" y="743.6"/><use href="#p" x="918.5" y="426.3"/><use href="#o" x="210.9" y="590.2"/><use href="#p" x="234.3" y="372.4"/><use href="#o" x="866.8" y="678.3"/><use href="#p" x="718.8" y="648.5"/>
<use href="#p" x="157.0" y="472.6"/><use href="#o" x="925.2" y="594.5"/><use href="#p" x="840.8" y="422.5"/><use href="#o" x="838.1" y="604.7"/><use href="#p" x="200.6" y="481.0"/><use href="#p" x="814.4" y="553.9"/><use href="#o" x="843.2" y="780.1"/><use href="#p" x="827.8" y="436.4"/>
<use href="#p" x="216.0" y="408.5"/><use href="#p" x="760.1" y="544.0"/><use href="#p" x="263.9" y="173.9"/><use href="#p" x="299.0" y="159.4"/><use href="#p" x="721.3" y="633.6"/><use href="#p" x="229.6" y="382.9"/><use href="#o" x="248.1" y="631.6"/><use href="#p" x="275.1" y="407.9"/>
<use href="#o" x="153.0" y="470.3"/><use href="#p" x="265.9" y="160.0"/><use href="#p" x="665.8" y="202.2"/><use href="#o" x="226.4" y="565.5"/><use href="#p" x="858.5" y="726.8"/><use href="#o" x="867.6" y="495.7"/><use href="#p" x="240.4" y="107.0"/><use href="#p" x="235.8" y="359.2"/>
<use href="#p" x="718.5" y="210.5"/><use href="#o" x="874.1" y="437.0"/><use href="#p" x="817.2" y="611.5"/><use href="#p" x="769.1" y="627.1"/><use href="#o" x="235.1" y="484.1"/><use href="#o" x="869.0" y="604.2"/><use href="#p" x="144.9" y="571.2"/><use href="#p" x="249.0" y="584.4"/>
<use href="#o" x="940.8" y="693.9"/><use href="#p" x="203.0" y="486.0"/><use href="#o" x="147.8" y="625.9"/><use href="#p" x="270.1" y="463.9"/><use href="#o" x="929.9" y="614.1"/><use href="#p" x="246.8" y="549.2"/><use href="#p" x="291.3" y="61.5"/><use href="#p" x="271.1" y="566.9"/>
<use href="#p" x="290.9" y="503.1"/><use href="#o" x="828.1" y="768.4"/><use href="#p" x="880.2" y="567.8"/><use href="#p" x="255.4" y="117.1"/><use href="#o" x="961.4" y="592.5"/><use href="#o" x="141.5" y="605.1"/><use href="#o" x="744.8" y="648.6"/><use href="#p" x="785.2" y="438.5"/>
<use href="#p" x="141.1" y="471.2"/><use href="#o" x="223.4" y="407.8"/><use href="#p" x="245.5" y="114.7"/><use href="#o" x="216.7" y="433.8"/><use href="#o" x="948.8" y="459.2"/><use href="#p" x="178.4" y="495.9"/><use href="#p" x="699.4" y="124.6"/><use href="#p" x="227.8" y="371.5"/>
<use href="#o" x="181.2" y="690.7"/><use href="#p" x="239.3" y="418.3"/><use href="#p" x="817.4" y="702.2"/><use href="#p" x="677.9" y="220.8"/><use href="#p" x="164.0" y="567.3"/><use href="#o" x="156.8" y="547.4"/><use href="#o" x="850.0" y="405.4"/><use href="#p" x="272.8" y="552.9"/>
<use href="#o" x="769.6" y="827.3"/><use href="#p" x="864.0" y="708.3"/><use href="#p" x="867.0" y="416.4"/><use href="#o" x="730.3" y="629.5"/><use href="#o" x="224.0" y="392.2"/><use href="#o" x="226.1" y="626.6"/><use href="#o" x="148.6" y="493.1"/><use href="#p" x="308.1" y="143.2"/>
<use href="#o" x="241.1" y="608.7"/><use href="#p" x="245.3" y="144.3"/><use href="#p" x="935.1" y="578.8"/><use href="#o" x="910.5" y="408.4"/><use href="#o" x="906.1" y="550.6"/><use href="#p" x="928.6" y="442.3"/><use href="#o" x="954.6" y="407.7"/><use href="#o" x="753.3" y="539.5"/>
<use href="#p" x="178.8" y="583.9"/><use href="#o" x="938.3" y="636.1"/><use href="#o" x="941.4" y="571.1"/><use href="#p" x="332.1" y="149.5"/><use href="#p" x="254.8" y="125.6"/><use href="#o" x="853.3" y="732.3"/><use href="#p" x="213.1" y="307.4"/><use href="#o" x="961.1" y="467.1"/>
<use href="#o" x="152.2" y="596.0"/><use href="#p" x="967.5" y="576.2"/><use href="#p" x="671.4" y="239.7"/><use href="#p" x="817.8" y="603.8"/><use href="#p" x="897.3" y="498.3"/><use href="#p" x="726.7" y="183.6"/><use href="#o" x="183.1" y="611.5"/><use href="#o" x="838.8" y="709.0"/>
<use href="#p" x="247.7" y="147.0"/><use href="#o" x="161.3" y="685.3"/><use href="#p" x="219.1" y="498.9"/><use href="#o" x="881.9" y="653.7"/><use href="#p" x="856.3" y="591.7"/><use href="#p" x="798.3" y="537.3"/><use href="#o" x="927.1" y="454.8"/><use href="#o" x="727.6" y="697.1"/>
<use href="#o" x="948.4" y="673.9"/><use href="#o" x="773.9" y="733.3"/><use href="#p" x="224.4" y="445.8"/><use href="#o" x="948.7" y="701.1"/><use href="#o" x="766.1" y="761.3"/><use href="#p" x="893.5" y="394.7"/><use href="#o" x="156.5" y="565.9"/><use href="#o" x="191.0" y="407.6"/>
<use href="#o" x="945.5" y="558.1"/><use href="#o" x="224.2" y="546.6"/><use href="#p" x="767.1" y="614.2"/><use href="#o" x="790.5" y="665.5"/><use href="#p" x="285.1" y="170.8"/><use href="#p" x="767.8" y="595.9"/><use href="#p" x="815.9" y="429.2"/><use href="#p" x="971.3" y="568.1"/>
<use href="#p" x="658.9" y="230.8"/><use href="#p" x="261.4" y="413.8"/><use href="#o" x="215.9" y="507.3"/><use href="#p" x="869.6" y="598.7"/><use href="#p" x="262.8" y="131.7"/><use href="#p" x="693.0" y="139.6"/><use href="#p" x="694.8" y="185.1"/><use href="#o" x="216.1" y="686.1"/>
<use href="#o" x="865.5" y="738.0"/><use href="#p" x="912.0" y="746.5"/><use href="#o" x="180.0" y="691.8"/><use href="#p" x="178.7" y="460.2"/><use href="#o" x="230.0" y="502.7"/><use href="#o" x="174.2" y="593.3"/><use href="#p" x="851.3" y="413.3"/><use href="#p" x="278.8" y="196.1"/>
<use href="#p" x="702.8" y="220.8"/><use href="#p" x="325.3" y="123.8"/><use href="#o" x="181.6" y="602.9"/><use href="#o" x="942.2" y="681.7"/><use href="#o" x="205.1" y="601.3"/><use href="#p" x="694.8" y="195.3"/><use href="#p" x="759.6" y="606.6"/><use href="#o" x="938.7" y="659.1"/>
<use href="#o" x="835.3" y="439.3"/><use href="#p" x="254.7" y="86.3"/><use href="#p" x="259.8" y="636.1"/><use href="#o" x="772.1" y="760.6"/><use href="#p" x="175.8" y="424.2"/><use href="#o" x="735.3" y="688.1"/><use href="#o" x="249.0" y="495.5"/><use href="#p" x="163.4" y="406.0"/>
<use href="#p" x="752.0" y="645.2"/><use href="#p" x="747.2" y="817.4"/><use href="#o" x="909.6" y="534.4"/><use href="#o" x="206.5" y="389.7"/><use href="#p" x="890.6" y="388.7"/><use href="#o" x="763.0" y="672.5"/><use href="#o" x="912.4" y="521.9"/><use href="#p" x="261.1" y="473.1"/>
<use href="#p" x="854.0" y="452.1"/><use href="#p" x="885.2" y="506.8"/><use href="#o" x="872.2" y="585.4"/><use href="#p" x="707.8" y="100.2"/><use href="#p" x="870.3" y="598.4"/><use href="#p" x="813.4" y="645.0"/><use href="#o" x="813.8" y="804.9"/><use href="#o" x="794.0" y="676.3"/>
<use href="#p" x="675.7" y="213.0"/><use href="#o" x="792.7" y="676.6"/><use href="#o" x="233.1" y="606.4"/><use href="#o" x="194.0" y="644.8"/><use href="#p" x="867.9" y="754.9"/><use href="#o" x="812.2" y="689.7"/><use href="#o" x="209.7" y="729.8"/><use href="#o" x="248.8" y="464.8"/>
<use href="#o" x="795.3" y="686.8"/><use href="#o" x="947.3" y="489.7"/><use href="#o" x="199.1" y="584.3"/><use href="#p" x="697.3" y="202.3"/><use href="#p" x="228.6" y="311.3"/><use href="#o" x="957.3" y="463.1"/><use href="#o" x="800.5" y="753.0"/><use href="#o" x="160.5" y="569.0"/>
<use href="#p" x="242.1" y="367.9"/><use href="#o" x="767.7" y="778.5"/><use href="#o" x="228.9" y="604.6"/><use href="#p" x="863.1" y="744.5"/><use href="#o" x="151.0" y="563.3"/><use href="#o" x="297.9" y="616.1"/><use href="#o" x="933.3" y="723.3"/><use href="#p" x="255.3" y="80.2"/>
<use href="#o" x="784.1" y="716.6"/><use href="#o" x="884.1" y="672.1"/><use href="#o" x="821.1" y="696.5"/><use href="#o" x="186.1" y="386.3"/><use href="#p" x="154.7" y="474.8"/><use href="#p" x="257.9" y="139.7"/><use href="#o" x="268.7" y="535.0"/><use href="#p" x="834.9" y="751.1"/>
<use href="#p" x="850.0" y="615.4"/><use href="#p" x="786.6" y="501.3"/><use href="#p" x="699.6" y="197.5"/><use href="#p" x="263.0" y="176.8"/><use href="#p" x="266.4" y="625.4"/><use href="#o" x="742.2" y="583.0"/><use href="#o" x="174.6" y="523.5"/><use href="#p" x="861.3" y="728.2"/>
<use href="#o" x="717.8" y="671.5"/><use href="#o" x="170.9" y="579.5"/><use href="#p" x="243.5" y="115.1"/><use href="#o" x="165.7" y="581.0"/><use href="#p" x="837.7" y="658.4"/><use href="#p" x="210.6" y="268.0"/><use href="#p" x="688.8" y="94.5"/><use href="#o" x="948.1" y="403.0"/>
<use href="#o" x="736.5" y="679.1"/><use href="#o" x="210.9" y="699.8"/><use href="#o" x="947.3" y="630.6"/><use href="#p" x="214.3" y="312.8"/><use href="#o" x="781.1" y="589.3"/><use href="#p" x="200.6" y="404.9"/><use href="#p" x="969.0" y="560.9"/><use href="#o" x="890.4" y="653.4"/>
<use href="#p" x="954.0" y="623.3"/><use href="#p" x="301.1" y="151.9"/><use href="#o" x="246.5" y="577.2"/><use href="#o" x="276.9" y="431.8"/><use href="#o" x="756.3" y="549.6"/><use href="#p" x="281.0" y="91.4"/><use href="#p" x="271.1" y="653.0"/><use href="#p" x="845.3" y="433.7"/>
<use href="#p" x="851.2" y="408.4"/><use href="#o" x="937.4" y="586.5"/><use href="#p" x="649.5" y="121.4"/><use href="#p" x="673.3" y="118.4"/><use href="#p" x="175.7" y="501.1"/><use href="#p" x="898.1" y="631.3"/><use href="#p" x="854.7" y="687.2"/><use href="#p" x="260.4" y="145.3"/>
<use href="#o" x="150.5" y="594.4"/><use href="#p" x="270.6" y="134.4"/><use href="#o" x="743.5" y="676.1"/><use href="#p" x="800.4" y="548.5"/><use href="#o" x="903.1" y="726.2"/><use href="#o" x="756.5" y="804.5"/><use href="#p" x="820.9" y="652.8"/><use href="#o" x="951.2" y="703.0"/>
<use href="#o" x="810.2" y="749.5"/><use href="#o" x="916.0" y="608.8"/><use href="#p" x="313.7" y="148.7"/><use href="#o" x="252.2" y="638.1"/><use href="#p" x="151.9" y="460.0"/><use href="#o" x="159.8" y="659.7"/><use href="#o" x="266.9" y="666.7"/><use href="#o" x="883.6" y="721.0"/>
<use href="#p" x="787.7" y="546.5"/><use href="#o" x="918.3" y="720.9"/><use href="#o" x="143.7" y="602.7"/><use href="#p" x="823.4" y="551.4"/><use href="#p" x="261.1" y="68.1"/><use href="#p" x="258.5" y="578.5"/><use href="#p" x="932.4" y="443.4"/><use href="#o" x="777.8" y="760.4"/>
<use href="#o" x="143.5" y="493.3"/><use href="#p" x="754.6" y="823.8"/><use href="#p" x="240.6" y="534.0"/><use href="#o" x="718.5" y="651.5"/><use href="#o" x="904.5" y="511.2"/><use href="#p" x="273.0" y="426.5"/><use href="#o" x="886.8" y="495.6"/><use href="#p" x="291.4" y="139.3"/>
<use href="#p" x="866.3" y="611.6"/><use href="#p" x="700.4" y="219.2"/><use href="#p" x="784.7" y="462.3"/><use href="#p" x="320.5" y="141.7"/><use href="#p" x="803.8" y="522.9"/><use href="#p" x="219.0" y="291.9"/><use href="#p" x="693.4" y="115.0"/><use href="#p" x="270.5" y="120.8"/>
<use href="#o" x="862.6" y="444.5"/><use href="#o" x="754.3" y="759.3"/><use href="#p" x="283.5" y="118.9"/><use href="#p" x="698.9" y="192.2"/><use href="#p" x="278.0" y="120.2"/><use href="#o" x="192.2" y="516.0"/><use href="#p" x="166.1" y="548.1"/><use href="#p" x="847.8" y="606.9"/>
<use href="#o" x="235.6" y="562.2"/><use href="#o" x="237.0" y="680.9"/><use href="#o" x="145.2" y="571.6"/><use href="#o" x="286.2" y="612.9"/><use href="#p" x="157.0" y="434.3"/><use href="#o" x="923.0" y="738.1"/><use href="#o" x="800.9" y="460.4"/><use href="#p" x="249.3" y="99.8"/>
<use href="#p" x="157.8" y="478.9"/><use href="#o" x="873.8" y="693.8"/><use href="#o" x="862.3" y="651.4"/><use href="#o" x="249.8" y="672.3"/><use href="#p" x="930.0" y="456.1"/><use href="#p" x="809.4" y="439.3"/><use href="#p" x="721.1" y="170.4"/><use href="#p" x="768.6" y="714.7"/>
<use href="#o" x="833.7" y="446.7"/><use href="#o" x="262.4" y="448.1"/><use href="#p" x="900.2" y="546.4"/><use href="#o" x="184.0" y="577.9"/><use href="#p" x="283.5" y="143.2"/><use href="#o" x="854.5" y="779.0"/><use href="#p" x="215.3" y="262.4"/><use href="#p" x="723.9" y="198.7"/>
<use href="#p" x="807.5" y="458.3"/><use href="#o" x="161.4" y="563.5"/><use href="#o" x="251.7" y="590.8"/><use href="#p" x="229.1" y="671.4"/><use href="#o" x="862.0" y="422.5"/><use href="#p" x="277.5" y="509.8"/><use href="#o" x="976.0" y="474.3"/><use href="#o" x="744.5" y="576.5"/>
<use href="#p" x="272.0" y="499.3"/><use href="#o" x="253.3" y="688.4"/><use href="#o" x="837.7" y="702.6"/><use href="#o" x="129.7" y="524.2"/><use href="#p" x="907.5" y="591.5"/><use href="#p" x="768.3" y="514.9"/><use href="#p" x="253.1" y="354.8"/><use href="#p" x="693.8" y="177.2"/>
<use href="#p" x="770.6" y="610.4"/><use href="#o" x="973.7" y="588.6"/><use href="#p" x="731.0" y="717.2"/><use href="#o" x="772.7" y="561.3"/><use href="#p" x="152.6" y="638.9"/><use href="#p" x="765.6" y="573.2"/><use href="#o" x="150.2" y="630.5"/><use href="#p" x="703.9" y="148.3"/>
<use href="#p" x="215.3" y="497.6"/><use href="#p" x="256.3" y="153.3"/><use href="#p" x="720.9" y="706.4"/><use href="#p" x="276.6" y="128.3"/><use href="#o" x="976.7" y="568.5"/><use href="#o" x="955.2" y="552.8"/><use href="#p" x="242.0" y="310.1"/><use href="#p" x="683.0" y="200.5"/>
<use href="#o" x="834.6" y="767.6"/><use href="#o" x="923.2" y="583.2"/><use href="#o" x="828.3" y="723.3"/><use href="#p" x="168.3" y="623.0"/><use href="#o" x="928.9" y="576.5"/><use href="#o" x="764.2" y="822.5"/><use href="#o" x="740.9" y="745.2"/><use href="#p" x="936.4" y="731.9"/>
<use href="#o" x="229.8" y="424.8"/><use href="#p" x="704.8" y="141.8"/><use href="#o" x="940.1" y="647.2"/><use href="#o" x="205.5" y="606.3"/><use href="#o" x="204.6" y="349.6"/><use href="#o" x="268.9" y="546.7"/><use href="#p" x="255.6" y="135.1"/><use href="#p" x="699.6" y="213.5"/>
<use href="#o" x="720.1" y="678.5"/><use href="#o" x="200.8" y="704.0"/><use href="#o" x="802.5" y="695.6"/><use href="#p" x="899.1" y="599.3"/><use href="#o" x="892.9" y="549.1"/><use href="#p" x="876.2" y="557.9"/><use href="#o" x="195.0" y="577.1"/><use href="#p" x="939.7" y="684.6"/>
<use href="#p" x="668.3" y="138.2"/><use href="#o" x="136.3" y="542.9"/><use href="#o" x="222.9" y="525.0"/><use href="#o" x="843.8" y="454.5"/><use href="#p" x="259.9" y="133.6"/><use href="#p" x="718.4" y="112.9"/><use href="#o" x="804.8" y="818.8"/><use href="#o" x="795.0" y="749.5"/>
<use href="#o" x="937.3" y="505.3"/><use href="#p" x="918.6" y="591.9"/><use href="#o" x="953.8" y="476.6"/><use href="#p" x="800.6" y="506.9"/><use href="#o" x="959.5" y="656.2"/><use href="#o" x="831.0" y="647.1"/><use href="#p" x="296.3" y="509.6"/><use href="#p" x="230.5" y="304.3"/>
<use href="#p" x="936.4" y="381.9"/><use href="#p" x="799.5" y="496.5"/><use href="#o" x="136.9" y="555.4"/><use href="#p" x="711.7" y="154.5"/><use href="#p" x="281.3" y="582.0"/><use href="#o" x="873.2" y="651.8"/><use href="#o" x="973.7" y="480.8"/><use href="#p" x="269.5" y="142.0"/>
<use href="#o" x="918.2" y="602.3"/><use href="#p" x="838.8" y="428.0"/><use href="#o" x="210.1" y="356.7"/><use href="#o" x="918.5" y="467.6"/><use href="#o" x="264.6" y="588.5"/><use href="#o" x="956.6" y="432.1"/><use href="#p" x="294.3" y="611.8"/><use href="#o" x="202.4" y="529.6"/>
<use href="#p" x="232.2" y="569.0"/><use href="#p" x="755.8" y="689.8"/><use href="#o" x="768.7" y="826.7"/><use href="#o" x="939.6" y="405.2"/><use href="#o" x="878.8" y="652.3"/><use href="#p" x="825.5" y="578.6"/><use href="#p" x="715.4" y="177.1"/><use href="#o" x="819.5" y="454.1"/>
<use href="#p" x="702.0" y="77.9"/><use href="#p" x="810.7" y="742.7"/><use href="#p" x="300.9" y="571.2"/><use href="#p" x="235.4" y="631.5"/><use href="#o" x="898.6" y="531.9"/><use href="#p" x="185.9" y="690.3"/><use href="#o" x="910.3" y="428.1"/><use href="#o" x="980.9" y="480.2"/>
<use href="#p" x="674.3" y="130.6"/><use href="#p" x="815.9" y="411.4"/><use href="#o" x="884.2" y="689.3"/><use href="#p" x="767.8" y="577.0"/><use href="#p" x="689.1" y="203.0"/><use href="#o" x="145.0" y="478.0"/><use href="#o" x="753.4" y="759.0"/><use href="#p" x="173.4" y="483.1"/>
<use href="#o" x="221.7" y="675.2"/><use href="#p" x="226.6" y="550.7"/><use href="#p" x="829.7" y="619.1"/><use href="#o" x="809.2" y="816.9"/><use href="#p" x="663.7" y="196.6"/><use href="#o" x="752.5" y="809.0"/><use href="#p" x="833.5" y="401.0"/><use href="#p" x="880.1" y="698.1"/>
<use href="#p" x="821.4" y="715.3"/><use href="#o" x="947.1" y="682.7"/><use href="#p" x="764.2" y="726.7"/><use href="#p" x="789.6" y="734.5"/><use href="#o" x="751.6" y="622.7"/><use href="#o" x="755.3" y="785.0"/><use href="#p" x="817.6" y="676.6"/><use href="#o" x="238.6" y="519.8"/>
<use href="#p" x="664.3" y="150.3"/><use href="#p" x="136.2" y="564.6"/><use href="#p" x="257.0" y="378.6"/><use href="#p" x="128.1" y="519.1"/><use href="#o" x="916.7" y="559.9"/><use href="#o" x="827.3" y="476.7"/><use href="#p" x="188.0" y="587.5"/><use href="#p" x="178.0" y="461.8"/>
<use href="#o" x="897.5" y="696.2"/><use href="#p" x="919.2" y="417.2"/><use href="#o" x="229.8" y="719.3"/><use href="#o" x="955.5" y="565.1"/><use href="#o" x="943.5" y="740.0"/><use href="#o" x="838.3" y="765.1"/><use href="#p" x="243.7" y="372.4"/><use href="#p" x="796.9" y="564.0"/>
<use href="#o" x="749.4" y="749.9"/><use href="#o" x="916.4" y="714.0"/><use href="#p" x="294.9" y="551.5"/><use href="#p" x="282.7" y="89.1"/><use href="#o" x="229.4" y="476.9"/><use href="#p" x="294.0" y="618.1"/><use href="#o" x="184.6" y="685.8"/><use href="#p" x="332.2" y="143.7"/>
<use href="#o" x="230.4" y="390.0"/><use href="#p" x="831.7" y="578.5"/><use href="#o" x="734.8" y="733.5"/><use href="#o" x="200.1" y="556.2"/><use href="#o" x="198.8" y="514.2"/><use href="#o" x="812.1" y="635.6"/><use href="#p" x="936.5" y="678.9"/><use href="#o" x="950.6" y="532.8"/>
<use href="#o" x="930.7" y="494.3"/><use href="#p" x="281.5" y="109.1"/><use href="#p" x="686.4" y="162.2"/><use href="#o" x="945.1" y="422.7"/><use href="#p" x="201.0" y="460.8"/><use href="#p" x="237.2" y="376.2"/><use href="#p" x="665.8" y="161.1"/><use href="#p" x="170.7" y="506.7"/>
<use href="#p" x="207.4" y="456.5"/><use href="#p" x="666.0" y="132.0"/><use href="#p" x="678.4" y="172.3"/><use href="#o" x="859.8" y="760.6"/><use href="#o" x="789.0" y="823.0"/><use href="#o" x="920.3" y="571.9"/><use href="#p" x="656.6" y="197.3"/><use href="#p" x="809.7" y="694.3"/>
<use href="#o" x="796.4" y="758.1"/><use href="#o" x="944.3" y="451.6"/><use href="#o" x="827.8" y="605.3"/><use href="#o" x="181.9" y="587.4"/><use href="#p" x="946.8" y="687.8"/><use href="#o" x="740.4" y="675.2"/><use href="#o" x="758.4" y="633.4"/><use href="#p" x="214.4" y="341.5"/>
<use href="#p" x="945.7" y="686.8"/><use href="#o" x="730.3" y="655.9"/><use href="#p" x="770.1" y="507.6"/><use href="#p" x="240.1" y="114.3"/><use href="#o" x="779.9" y="796.3"/><use href="#p" x="799.1" y="634.8"/><use href="#o" x="279.7" y="584.6"/><use href="#p" x="654.2" y="203.3"/>
<use href="#p" x="684.4" y="128.8"/><use href="#p" x="302.4" y="104.8"/><use href="#o" x="933.8" y="629.7"/><use href="#o" x="750.5" y="822.6"/><use href="#p" x="810.4" y="735.6"/><use href="#p" x="313.3" y="124.3"/><use href="#o" x="784.8" y="643.9"/><use href="#p" x="300.0" y="596.2"/>
<use href="#p" x="854.3" y="460.3"/><use href="#o" x="807.4" y="812.5"/><use href="#p" x="190.7" y="365.9"/><use href="#o" x="948.2" y="472.8"/><use href="#p" x="791.6" y="457.0"/><use href="#o" x="193.4" y="616.7"/><use href="#o" x="212.8" y="511.1"/><use href="#p" x="925.6" y="435.4"/>
<use href="#o" x="931.2" y="393.1"/><use href="#p" x="846.3" y="431.1"/><use href="#p" x="279.9" y="495.1"/><use href="#p" x="767.2" y="705.4"/><use href="#p" x="338.1" y="162.2"/><use href="#p" x="173.3" y="638.6"/><use href="#o" x="201.2" y="710.0"/><use href="#p" x="259.6" y="391.7"/>
<use href="#p" x="286.1" y="506.8"/><use href="#p" x="710.3" y="181.2"/><use href="#p" x="271.9" y="189.9"/><use href="#o" x="150.5" y="430.6"/><use href="#o" x="236.1" y="710.2"/><use href="#o" x="218.7" y="645.5"/><use href="#o" x="168.8" y="606.8"/><use href="#o" x="860.9" y="739.7"/>
<use href="#p" x="267.9" y="140.3"/><use href="#p" x="848.1" y="726.8"/><use href="#p" x="325.6" y="131.5"/><use href="#p" x="668.4" y="146.4"/><use href="#o" x="891.9" y="748.4"/><use href="#o" x="253.4" y="533.6"/><use href="#p" x="186.3" y="516.8"/><use href="#p" x="852.2" y="394.9"/>
<use href="#p" x="859.8" y="657.2"/><use href="#o" x="957.1" y="596.2"/><use href="#o" x="958.9" y="414.9"/><use href="#p" x="976.5" y="609.9"/><use href="#o" x="949.6" y="426.3"/><use href="#o" x="900.6" y="657.0"/><use href="#o" x="871.5" y="530.4"/><use href="#o" x="182.6" y="503.2"/>
<use href="#o" x="147.4" y="550.1"/><use href="#o" x="192.2" y="689.3"/><use href="#p" x="695.6" y="87.0"/><use href="#p" x="192.6" y="499.9"/><use href="#p" x="286.9" y="596.3"/><use href="#o" x="914.8" y="698.1"/><use href="#o" x="752.7" y="739.1"/><use href="#p" x="891.6" y="399.6"/>
<use href="#p" x="231.9" y="449.0"/><use href="#o" x="845.2" y="740.8"/><use href="#o" x="795.0" y="657.2"/><use href="#o" x="774.4" y="711.5"/><use href="#p" x="321.6" y="164.6"/><use href="#p" x="905.6" y="383.3"/><use href="#p" x="156.4" y="415.4"/><use href="#o" x="847.7" y="676.5"/>
<use href="#o" x="859.2" y="463.3"/><use href="#p" x="170.7" y="416.1"/><use href="#o" x="912.8" y="735.4"/><use href="#o" x="953.8" y="568.0"/><use href="#o" x="919.7" y="603.6"/><use href="#p" x="819.1" y="627.0"/><use href="#o" x="823.0" y="724.4"/><use href="#p" x="843.1" y="790.5"/>
<use href="#p" x="793.1" y="719.3"/><use href="#o" x="967.7" y="477.2"/><use href="#o" x="743.0" y="679.9"/><use href="#p" x="218.7" y="596.7"/><use href="#o" x="165.1" y="507.1"/><use href="#p" x="889.7" y="381.7"/><use href="#o" x="189.1" y="563.8"/><use href="#p" x="211.0" y="296.2"/>
<use href="#p" x="841.2" y="605.1"/><use href="#o" x="800.2" y="806.9"/><use href="#o" x="816.3" y="723.4"/><use href="#p" x="228.3" y="363.1"/><use href="#o" x="926.7" y="582.3"/><use href="#o" x="252.9" y="363.0"/><use href="#p" x="696.7" y="180.4"/><use href="#p" x="193.2" y="341.8"/>
<use href="#o" x="888.7" y="620.2"/><use href="#o" x="803.4" y="794.0"/><use href="#o" x="904.9" y="435.0"/><use href="#p" x="672.5" y="166.2"/><use href="#p" x="254.2" y="142.9"/><use href="#p" x="682.7" y="146.0"/><use href="#o" x="219.0" y="633.1"/><use href="#p" x="235.4" y="703.8"/>
<use href="#p" x="315.7" y="130.0"/><use href="#p" x="268.8" y="171.7"/><use href="#p" x="258.8" y="637.3"/><use href="#p" x="837.7" y="479.1"/><use href="#o" x="885.8" y="677.4"/><use href="#p" x="181.2" y="516.8"/><use href="#p" x="802.9" y="624.8"/><use href="#p" x="727.4" y="689.5"/>
<use href="#o" x="934.4" y="735.2"/><use href="#p" x="951.9" y="456.5"/><use href="#o" x="852.0" y="735.3"/><use href="#p" x="900.9" y="600.3"/><use href="#p" x="889.8" y="574.2"/><use href="#p" x="822.4" y="571.7"/><use href="#o" x="205.0" y="637.3"/><use href="#p" x="294.9" y="160.1"/>
<use href="#p" x="758.5" y="720.3"/><use href="#p" x="232.8" y="590.4"/><use href="#o" x="834.8" y="761.6"/><use href="#p" x="242.4" y="137.4"/><use href="#o" x="233.9" y="679.9"/><use href="#p" x="970.8" y="522.1"/><use href="#o" x="747.6" y="767.2"/><use href="#p" x="679.8" y="191.1"/>
<use href="#o" x="750.0" y="619.1"/><use href="#p" x="925.4" y="422.6"/><use href="#o" x="786.3" y="579.5"/><use href="#p" x="265.5" y="489.8"/><use href="#p" x="670.3" y="206.2"/><use href="#p" x="257.5" y="115.7"/><use href="#o" x="941.8" y="472.2"/><use href="#p" x="895.1" y="541.4"/>
<use href="#o" x="816.6" y="665.0"/><use href="#o" x="914.5" y="667.0"/><use href="#p" x="228.0" y="319.1"/><use href="#p" x="650.3" y="129.5"/><use href="#o" x="169.2" y="570.6"/><use href="#p" x="922.3" y="724.1"/><use href="#p" x="222.1" y="388.8"/><use href="#o" x="925.7" y="708.1"/>
<use href="#p" x="211.5" y="280.0"/><use href="#p" x="813.3" y="535.1"/><use href="#p" x="881.3" y="549.0"/><use href="#p" x="250.1" y="87.3"/><use href="#o" x="935.0" y="583.0"/><use href="#p" x="262.0" y="159.2"/><use href="#p" x="821.1" y="422.6"/><use href="#o" x="912.6" y="755.4"/>
<use href="#p" x="185.9" y="383.6"/><use href="#p" x="267.0" y="64.2"/><use href="#o" x="204.9" y="520.2"/><use href="#o" x="771.1" y="712.2"/><use href="#o" x="160.5" y="662.8"/><use href="#p" x="149.9" y="581.1"/><use href="#p" x="965.4" y="583.1"/><use href="#p" x="299.1" y="131.0"/>
<use href="#p" x="251.8" y="579.6"/><use href="#o" x="217.1" y="672.4"/><use href="#o" x="888.8" y="570.8"/><use href="#o" x="264.8" y="562.2"/><use href="#p" x="238.3" y="572.4"/><use href="#o" x="299.5" y="574.2"/><use href="#p" x="217.9" y="338.9"/><use href="#p" x="853.5" y="478.8"/>
<use href="#o" x="725.0" y="682.7"/><use href="#p" x="675.8" y="140.4"/><use href="#p" x="907.1" y="619.4"/><use href="#p" x="258.7" y="383.8"/><use href="#o" x="248.3" y="423.6"/><use href="#p" x="882.4" y="767.3"/><use href="#o" x="934.1" y="670.5"/><use href="#p" x="229.3" y="370.5"/>
<use href="#o" x="821.3" y="723.6"/><use href="#p" x="225.1" y="702.8"/><use href="#p" x="315.5" y="127.0"/><use href="#p" x="246.5" y="398.6"/><use href="#p" x="783.0" y="667.3"/><use href="#o" x="208.4" y="709.6"/><use href="#o" x="902.5" y="682.5"/><use href="#p" x="296.5" y="594.4"/>
<use href="#p" x="327.2" y="150.8"/><use href="#o" x="251.9" y="488.6"/><use href="#o" x="740.9" y="716.9"/><use href="#p" x="695.0" y="117.5"/><use href="#p" x="152.9" y="571.6"/><use href="#o" x="187.6" y="582.9"/><use href="#p" x="690.2" y="196.4"/><use href="#p" x="254.9" y="411.8"/>
<use href="#o" x="971.9" y="526.9"/><use href="#p" x="269.2" y="153.4"/><use href="#o" x="960.6" y="618.0"/><use href="#p" x="754.6" y="803.4"/><use href="#p" x="842.2" y="665.9"/><use href="#p" x="202.9" y="531.0"/><use href="#o" x="897.6" y="465.7"/><use href="#o" x="139.4" y="545.9"/>
<use href="#p" x="811.5" y="701.8"/><use href="#p" x="666.6" y="104.0"/><use href="#p" x="858.8" y="691.3"/><use href="#o" x="157.9" y="510.6"/><use href="#p" x="808.9" y="746.6"/><use href="#p" x="912.5" y="598.4"/><use href="#o" x="892.7" y="624.1"/><use href="#o" x="262.9" y="581.8"/>
<use href="#o" x="742.0" y="818.3"/><use href="#o" x="806.2" y="553.9"/><use href="#p" x="764.2" y="770.6"/><use href="#o" x="736.8" y="642.3"/><use href="#p" x="788.2" y="560.8"/><use href="#p" x="756.6" y="819.9"/><use href="#o" x="863.4" y="753.6"/><use href="#o" x="218.6" y="585.3"/>
<use href="#p" x="247.6" y="134.2"/><use href="#o" x="850.6" y="755.1"/><use href="#o" x="161.0" y="528.0"/><use href="#p" x="721.6" y="656.7"/><use href="#o" x="832.7" y="673.2"/><use href="#p" x="161.2" y="658.6"/><use href="#p" x="933.6" y="510.3"/><use href="#p" x="212.7" y="359.2"/>
<use href="#p" x="859.0" y="632.8"/><use href="#o" x="949.6" y="616.8"/><use href="#p" x="672.9" y="109.9"/><use href="#p" x="221.7" y="367.6"/><use href="#p" x="772.6" y="550.1"/><use href="#p" x="893.9" y="601.8"/><use href="#p" x="183.6" y="550.4"/><use href="#o" x="274.2" y="520.5"/>
<use href="#p" x="275.8" y="451.2"/><use href="#p" x="934.0" y="424.9"/><use href="#o" x="802.9" y="795.9"/><use href="#o" x="265.9" y="542.5"/><use href="#o" x="957.5" y="652.0"/><use href="#o" x="147.6" y="529.4"/><use href="#p" x="682.8" y="138.9"/><use href="#p" x="699.6" y="195.3"/>
<use href="#o" x="212.7" y="438.6"/><use href="#o" x="915.0" y="567.0"/><use href="#p" x="229.7" y="493.6"/><use href="#o" x="957.4" y="557.2"/><use href="#o" x="756.6" y="820.9"/><use href="#p" x="140.0" y="509.2"/><use href="#o" x="742.8" y="690.2"/><use href="#p" x="224.2" y="363.9"/>
<use href="#o" x="836.7" y="807.8"/><use href="#p" x="843.7" y="590.5"/><use href="#p" x="847.3" y="462.7"/><use href="#o" x="968.4" y="566.3"/><use href="#p" x="783.5" y="519.1"/><use href="#p" x="785.6" y="489.1"/><use href="#o" x="164.5" y="587.7"/><use href="#p" x="285.6" y="163.4"/>
<use href="#p" x="185.6" y="531.5"/><use href="#o" x="858.8" y="565.3"/><use href="#p" x="275.4" y="498.9"/><use href="#p" x="311.4" y="146.3"/><use href="#p" x="300.4" y="59.3"/><use href="#p" x="172.6" y="389.9"/><use href="#o" x="921.3" y="556.2"/><use href="#p" x="810.3" y="430.8"/>
<use href="#p" x="736.8" y="802.8"/><use href="#o" x="274.5" y="567.8"/><use href="#o" x="962.5" y="453.8"/><use href="#o" x="910.1" y="646.5"/><use href="#o" x="171.9" y="504.8"/><use href="#o" x="258.1" y="528.7"/><use href="#p" x="222.8" y="308.9"/><use href="#o" x="778.6" y="617.0"/>
<use href="#o" x="139.8" y="554.7"/><use href="#o" x="947.2" y="640.8"/><use href="#p" x="726.2" y="175.3"/><use href="#o" x="919.3" y="482.6"/><use href="#p" x="876.5" y="511.9"/><use href="#o" x="928.4" y="481.3"/><use href="#o" x="153.4" y="629.7"/><use href="#o" x="183.8" y="680.6"/>
<use href="#p" x="281.0" y="524.6"/><use href="#o" x="843.0" y="606.5"/><use href="#o" x="890.2" y="580.6"/><use href="#o" x="856.8" y="501.3"/><use href="#p" x="283.2" y="578.4"/><use href="#o" x="219.9" y="431.2"/><use href="#p" x="801.5" y="428.7"/><use href="#o" x="849.4" y="712.8"/>
<use href="#p" x="939.9" y="512.5"/><use href="#o" x="930.3" y="399.1"/><use href="#p" x="276.7" y="425.7"/><use href="#o" x="265.3" y="541.8"/><use href="#p" x="171.8" y="619.0"/><use href="#p" x="188.1" y="469.7"/><use href="#p" x="277.0" y="148.7"/><use href="#o" x="220.2" y="475.6"/>
<use href="#p" x="305.7" y="114.4"/><use href="#o" x="192.4" y="352.9"/><use href="#o" x="802.9" y="629.2"/><use href="#o" x="967.5" y="577.9"/><use href="#p" x="274.9" y="540.2"/><use href="#p" x="285.2" y="114.7"/><use href="#o" x="182.9" y="646.6"/><use href="#p" x="864.0" y="681.6"/>
<use href="#p" x="760.6" y="608.1"/><use href="#p" x="260.3" y="96.1"/><use href="#p" x="287.7" y="487.1"/><use href="#p" x="265.0" y="176.4"/><use href="#o" x="161.0" y="570.9"/><use href="#o" x="945.0" y="616.0"/><use href="#o" x="183.6" y="700.8"/><use href="#o" x="808.5" y="828.9"/>
<use href="#p" x="287.1" y="114.7"/><use href="#o" x="931.2" y="699.4"/><use href="#p" x="908.8" y="579.6"/><use href="#o" x="915.9" y="536.0"/><use href="#p" x="825.2" y="699.2"/><use href="#o" x="161.6" y="664.7"/><use href="#p" x="893.9" y="398.3"/><use href="#o" x="191.8" y="613.1"/>
<use href="#p" x="918.4" y="621.8"/><use href="#p" x="917.0" y="728.0"/><use href="#o" x="951.5" y="461.7"/><use href="#p" x="297.0" y="146.3"/><use href="#o" x="254.1" y="616.7"/><use href="#o" x="175.8" y="384.1"/><use href="#o" x="885.6" y="736.8"/><use href="#p" x="200.8" y="668.3"/>
<use href="#o" x="768.7" y="690.0"/><use href="#p" x="788.0" y="510.1"/><use href="#o" x="157.1" y="539.1"/><use href="#o" x="938.0" y="546.4"/><use href="#o" x="938.6" y="675.7"/><use href="#p" x="297.9" y="141.8"/><use href="#o" x="247.7" y="660.9"/><use href="#o" x="129.2" y="529.5"/>
<use href="#o" x="242.3" y="406.4"/><use href="#p" x="782.0" y="825.3"/><use href="#p" x="178.7" y="378.4"/><use href="#o" x="918.1" y="588.6"/><use href="#o" x="127.4" y="511.3"/><use href="#p" x="325.5" y="125.2"/><use href="#p" x="267.7" y="75.6"/><use href="#o" x="165.8" y="680.8"/>
<use href="#p" x="194.0" y="702.6"/><use href="#p" x="828.5" y="413.7"/><use href="#p" x="972.7" y="456.8"/><use href="#o" x="900.5" y="543.3"/><use href="#o" x="952.5" y="564.2"/><use href="#o" x="218.9" y="679.3"/><use href="#o" x="216.9" y="722.2"/><use href="#p" x="780.1" y="514.8"/>
<use href="#p" x="876.5" y="744.6"/><use href="#o" x="252.5" y="562.6"/><use href="#p" x="744.8" y="742.8"/><use href="#o" x="932.0" y="602.0"/><use href="#o" x="794.1" y="701.4"/><use href="#p" x="908.4" y="454.2"/><use href="#o" x="845.2" y="730.6"/><use href="#p" x="236.7" y="617.8"/>
<use href="#p" x="893.1" y="379.8"/><use href="#o" x="786.9" y="795.8"/><use href="#o" x="165.9" y="647.8"/><use href="#p" x="785.1" y="757.5"/><use href="#o" x="234.6" y="594.7"/><use href="#o" x="211.2" y="482.8"/><use href="#o" x="750.3" y="761.5"/><use href="#o" x="198.5" y="604.9"/>
<use href="#o" x="940.2" y="535.9"/><use href="#p" x="302.6" y="120.9"/><use href="#p" x="777.7" y="578.9"/><use href="#o" x="764.4" y="689.5"/><use href="#p" x="222.2" y="395.1"/><use href="#p" x="793.7" y="607.8"/><use href="#p" x="190.1" y="517.7"/><use href="#p" x="842.4" y="793.0"/>
<use href="#p" x="213.6" y="266.3"/><use href="#o" x="940.0" y="616.3"/><use href="#p" x="820.7" y="418.5"/><use href="#p" x="817.4" y="735.8"/><use href="#o" x="953.9" y="510.2"/><use href="#o" x="971.0" y="447.0"/><use href="#p" x="216.6" y="409.0"/><use href="#o" x="902.1" y="614.7"/>
<use href="#p" x="279.5" y="495.1"/><use href="#o" x="915.8" y="372.3"/><use href="#o" x="742.8" y="630.5"/><use href="#p" x="180.2" y="500.9"/><use href="#p" x="771.8" y="555.8"/><use href="#o" x="780.9" y="787.4"/><use href="#p" x="321.9" y="102.3"/><use href="#o" x="921.3" y="661.1"/>
<use href="#o" x="739.0" y="770.6"/><use href="#o" x="947.7" y="418.7"/><use href="#o" x="190.8" y="512.0"/><use href="#p" x="225.1" y="337.7"/><use href="#p" x="705.0" y="153.7"/><use href="#o" x="889.1" y="445.9"/><use href="#p" x="768.4" y="704.3"/><use href="#o" x="206.0" y="487.2"/>
<use href="#o" x="946.9" y="672.7"/><use href="#p" x="797.7" y="649.5"/><use href="#p" x="285.2" y="123.3"/><use href="#p" x="879.7" y="631.4"/><use href="#o" x="232.2" y="682.8"/><use href="#o" x="766.1" y="722.0"/><use href="#o" x="787.1" y="780.2"/><use href="#o" x="226.5" y="718.9"/>
<use href="#o" x="791.8" y="744.7"/><use href="#p" x="306.4" y="556.5"/><use href="#p" x="702.5" y="126.3"/><use href="#p" x="842.2" y="792.9"/><use href="#o" x="899.3" y="538.5"/><use href="#o" x="781.2" y="761.8"/><use href="#o" x="910.5" y="654.5"/><use href="#o" x="732.8" y="706.7"/>
<use href="#o" x="924.5" y="627.3"/><use href="#o" x="913.5" y="624.7"/><use href="#p" x="311.3" y="134.4"/><use href="#o" x="937.5" y="714.9"/><use href="#o" x="268.6" y="617.7"/><use href="#o" x="185.0" y="366.6"/><use href="#o" x="835.4" y="671.0"/><use href="#o" x="912.7" y="726.6"/>
<use href="#p" x="776.7" y="634.3"/><use href="#o" x="217.2" y="424.4"/><use href="#p" x="752.5" y="763.0"/><use href="#o" x="188.1" y="550.3"/><use href="#o" x="251.8" y="587.0"/><use href="#p" x="259.0" y="81.0"/><use href="#o" x="922.4" y="504.3"/><use href="#o" x="736.8" y="752.2"/>
<use href="#p" x="947.3" y="627.8"/><use href="#o" x="802.0" y="695.6"/><use href="#p" x="675.4" y="156.9"/><use href="#p" x="838.4" y="743.6"/><use href="#p" x="279.6" y="569.8"/><use href="#p" x="266.1" y="554.5"/><use href="#o" x="796.0" y="826.9"/><use href="#p" x="297.7" y="130.0"/>
<use href="#p" x="279.8" y="82.5"/><use href="#o" x="903.1" y="407.5"/><use href="#p" x="317.2" y="91.2"/><use href="#o" x="160.9" y="608.7"/><use href="#p" x="260.0" y="554.1"/><use href="#p" x="764.2" y="716.6"/><use href="#p" x="907.7" y="541.2"/><use href="#o" x="271.2" y="536.4"/>
<use href="#o" x="936.2" y="678.3"/><use href="#p" x="203.4" y="393.3"/><use href="#p" x="666.4" y="173.2"/><use href="#o" x="918.6" y="711.8"/><use href="#o" x="948.3" y="667.2"/><use href="#o" x="258.5" y="659.6"/><use href="#p" x="694.0" y="207.4"/><use href="#p" x="250.9" y="333.5"/>
<use href="#p" x="284.3" y="80.0"/><use href="#o" x="862.0" y="674.1"/><use href="#p" x="300.5" y="558.5"/><use href="#o" x="194.9" y="625.8"/><use href="#o" x="223.7" y="493.1"/><use href="#o" x="202.1" y="572.5"/><use href="#p" x="291.1" y="603.3"/><use href="#o" x="209.6" y="509.8"/>
<use href="#p" x="246.8" y="435.9"/><use href="#p" x="263.2" y="444.7"/><use href="#p" x="962.4" y="505.8"/><use href="#o" x="920.1" y="623.9"/><use href="#o" x="179.3" y="561.8"/><use href="#p" x="205.5" y="698.4"/><use href="#p" x="660.3" y="105.7"/><use href="#p" x="270.6" y="465.2"/>
<use href="#p" x="714.4" y="160.3"/><use href="#o" x="212.2" y="619.7"/><use href="#o" x="183.9" y="567.6"/><use href="#p" x="767.0" y="833.1"/><use href="#p" x="296.4" y="124.5"/><use href="#p" x="821.9" y="672.7"/><use href="#p" x="777.7" y="500.6"/><use href="#o" x="966.2" y="575.5"/>
<use href="#p" x="763.6" y="705.4"/><use href="#p" x="685.7" y="210.3"/><use href="#p" x="166.7" y="375.2"/><use href="#p" x="205.9" y="365.1"/><use href="#p" x="794.6" y="484.8"/><use href="#o" x="952.1" y="548.7"/><use href="#p" x="178.5" y="359.1"/><use href="#p" x="671.2" y="103.8"/>
<use href="#p" x="276.1" y="84.1"/><use href="#o" x="197.2" y="541.3"/><use href="#o" x="159.0" y="500.2"/><use href="#p" x="202.7" y="647.9"/><use href="#o" x="250.2" y="341.0"/><use href="#p" x="285.4" y="97.3"/><use href="#p" x="229.6" y="375.4"/><use href="#p" x="162.4" y="442.9"/>
<use href="#p" x="794.5" y="822.9"/><use href="#p" x="881.6" y="508.0"/><use href="#o" x="252.5" y="638.5"/><use href="#p" x="257.5" y="440.8"/><use href="#p" x="269.6" y="104.9"/><use href="#p" x="229.3" y="353.9"/><use href="#o" x="155.0" y="568.4"/><use href="#p" x="792.9" y="718.2"/>
<use href="#p" x="882.7" y="476.1"/><use href="#o" x="199.5" y="624.7"/><use href="#o" x="266.8" y="627.1"/><use href="#p" x="821.8" y="433.0"/><use href="#o" x="916.9" y="517.7"/><use href="#p" x="783.5" y="561.2"/><use href="#p" x="241.5" y="84.7"/><use href="#o" x="977.9" y="554.9"/>
<use href="#p" x="203.1" y="381.8"/><use href="#o" x="921.2" y="678.4"/><use href="#o" x="801.8" y="832.7"/><use href="#p" x="165.5" y="671.9"/><use href="#p" x="290.5" y="152.0"/><use href="#p" x="206.5" y="532.7"/><use href="#o" x="891.1" y="610.7"/><use href="#o" x="133.5" y="495.4"/>
<use href="#o" x="935.3" y="698.7"/><use href="#o" x="781.8" y="793.6"/><use href="#p" x="229.0" y="284.0"/><use href="#p" x="833.6" y="394.6"/><use href="#p" x="175.0" y="624.2"/><use href="#p" x="220.9" y="721.1"/><use href="#p" x="166.9" y="538.8"/><use href="#p" x="811.3" y="712.0"/>
<use href="#p" x="849.1" y="538.4"/><use href="#p" x="273.7" y="164.0"/><use href="#o" x="786.9" y="700.0"/><use href="#p" x="262.0" y="375.3"/><use href="#p" x="235.5" y="576.0"/><use href="#p" x="864.8" y="508.0"/><use href="#p" x="197.3" y="396.0"/><use href="#p" x="881.4" y="622.9"/>
<use href="#o" x="850.9" y="446.1"/><use href="#p" x="923.8" y="551.0"/><use href="#o" x="973.8" y="526.5"/><use href="#p" x="269.5" y="386.4"/><use href="#o" x="209.3" y="596.0"/><use href="#o" x="975.5" y="503.3"/><use href="#o" x="245.9" y="507.0"/><use href="#o" x="928.7" y="399.2"/>
<use href="#o" x="743.0" y="775.2"/><use href="#o" x="277.8" y="407.4"/><use href="#p" x="963.1" y="616.3"/><use href="#o" x="932.3" y="551.2"/><use href="#o" x="943.1" y="493.9"/><use href="#p" x="820.3" y="772.2"/><use href="#o" x="957.6" y="475.4"/><use href="#p" x="831.6" y="713.9"/>
<use href="#p" x="670.5" y="211.9"/><use href="#o" x="215.3" y="498.1"/><use href="#p" x="194.5" y="572.5"/><use href="#o" x="162.5" y="683.6"/><use href="#p" x="841.1" y="393.4"/><use href="#o" x="905.2" y="673.4"/><use href="#p" x="850.2" y="459.4"/><use href="#o" x="229.5" y="677.2"/>
<use href="#p" x="267.7" y="64.4"/><use href="#p" x="879.9" y="523.2"/><use href="#p" x="261.5" y="141.9"/><use href="#o" x="281.7" y="574.7"/><use href="#o" x="745.6" y="675.4"/><use href="#o" x="218.8" y="417.8"/><use href="#p" x="333.8" y="155.5"/><use href="#p" x="681.0" y="116.1"/>
<use href="#p" x="700.9" y="142.5"/><use href="#o" x="292.7" y="621.1"/><use href="#o" x="803.1" y="587.5"/><use href="#o" x="189.0" y="651.8"/><use href="#p" x="168.7" y="582.6"/><use href="#p" x="313.0" y="93.5"/><use href="#p" x="214.0" y="289.0"/><use href="#p" x="643.8" y="139.7"/>
<use href="#o" x="746.8" y="670.9"/><use href="#o" x="251.9" y="645.5"/><use href="#p" x="890.0" y="738.5"/><use href="#o" x="193.3" y="612.9"/><use href="#o" x="189.1" y="583.4"/><use href="#p" x="890.2" y="437.7"/><use href="#p" x="269.3" y="139.9"/><use href="#p" x="220.4" y="280.7"/>
<use href="#p" x="211.8" y="271.3"/><use href="#o" x="781.2" y="779.6"/><use href="#o" x="246.8" y="501.9"/><use href="#p" x="704.9" y="97.7"/><use href="#o" x="231.8" y="662.2"/><use href="#o" x="222.6" y="542.9"/><use href="#o" x="976.2" y="592.8"/><use href="#o" x="769.1" y="616.3"/>
<use href="#p" x="213.8" y="344.2"/><use href="#p" x="818.4" y="426.8"/><use href="#p" x="205.1" y="329.1"/><use href="#p" x="799.7" y="587.1"/><use href="#p" x="228.8" y="483.8"/><use href="#p" x="194.5" y="712.0"/><use href="#p" x="240.3" y="145.0"/><use href="#p" x="246.5" y="459.2"/>
<use href="#o" x="140.4" y="591.4"/><use href="#o" x="857.8" y="746.4"/><use href="#p" x="912.4" y="616.4"/><use href="#p" x="200.5" y="309.6"/><use href="#o" x="763.0" y="813.1"/><use href="#o" x="968.9" y="574.5"/><use href="#p" x="258.2" y="397.1"/><use href="#p" x="891.4" y="672.1"/>
<use href="#o" x="245.1" y="657.3"/><use href="#o" x="803.3" y="834.7"/><use href="#o" x="903.1" y="671.9"/><use href="#p" x="302.3" y="64.5"/><use href="#p" x="851.1" y="746.1"/><use href="#o" x="761.0" y="699.0"/><use href="#o" x="918.0" y="572.9"/><use href="#o" x="211.4" y="617.3"/>
<use href="#p" x="868.6" y="605.9"/><use href="#p" x="250.1" y="635.0"/><use href="#o" x="777.3" y="790.2"/><use href="#o" x="809.5" y="749.9"/><use href="#p" x="218.7" y="566.7"/><use href="#o" x="937.2" y="542.3"/><use href="#p" x="282.5" y="140.7"/><use href="#p" x="813.4" y="704.6"/>
<use href="#o" x="732.8" y="686.5"/><use href="#o" x="961.1" y="465.4"/><use href="#o" x="233.7" y="516.2"/><use href="#o" x="252.6" y="696.2"/><use href="#p" x="803.7" y="593.7"/><use href="#o" x="198.8" y="689.9"/><use href="#p" x="677.3" y="108.9"/><use href="#p" x="687.9" y="175.3"/>
<use href="#o" x="155.1" y="533.5"/><use href="#o" x="947.9" y="420.5"/><use href="#p" x="772.6" y="525.3"/><use href="#o" x="778.8" y="652.5"/><use href="#o" x="260.1" y="645.4"/><use href="#o" x="971.3" y="449.5"/><use href="#p" x="266.3" y="88.4"/><use href="#o" x="970.3" y="583.1"/>
<use href="#o" x="200.2" y="507.1"/><use href="#p" x="806.7" y="772.5"/><use href="#p" x="939.4" y="745.8"/><use href="#p" x="235.5" y="377.4"/><use href="#o" x="890.6" y="652.5"/><use href="#p" x="813.3" y="732.2"/><use href="#o" x="215.3" y="564.1"/><use href="#p" x="953.5" y="627.0"/>
<use href="#p" x="243.3" y="479.4"/><use href="#p" x="220.2" y="371.2"/><use href="#p" x="271.9" y="453.2"/><use href="#o" x="146.7" y="571.1"/><use href="#p" x="270.1" y="138.4"/><use href="#o" x="160.6" y="620.4"/><use href="#p" x="219.0" y="282.9"/><use href="#o" x="223.1" y="479.4"/>
<use href="#p" x="684.0" y="148.2"/><use href="#p" x="135.0" y="528.6"/><use href="#o" x="978.8" y="496.3"/><use href="#o" x="165.6" y="593.2"/><use href="#o" x="961.5" y="515.5"/><use href="#p" x="227.7" y="493.3"/><use href="#o" x="913.0" y="409.9"/><use href="#o" x="791.7" y="778.7"/>
<use href="#o" x="720.2" y="665.2"/><use href="#o" x="947.0" y="684.5"/><use href="#p" x="196.0" y="355.7"/><use href="#o" x="241.3" y="530.1"/><use href="#o" x="921.9" y="712.1"/><use href="#p" x="819.0" y="682.3"/><use href="#p" x="692.2" y="175.3"/><use href="#o" x="901.5" y="665.0"/>
<use href="#p" x="281.9" y="99.4"/><use href="#p" x="264.2" y="99.2"/><use href="#o" x="154.7" y="661.9"/><use href="#p" x="915.7" y="635.5"/><use href="#o" x="744.2" y="644.1"/><use href="#p" x="263.6" y="483.3"/><use href="#o" x="865.3" y="734.9"/><use href="#p" x="289.4" y="520.3"/>
<use href="#o" x="838.7" y="773.6"/><use href="#p" x="204.4" y="412.3"/><use href="#p" x="220.0" y="592.2"/><use href="#p" x="280.5" y="469.0"/><use href="#o" x="248.5" y="623.9"/><use href="#o" x="182.4" y="707.1"/><use href="#p" x="750.1" y="751.8"/><use href="#o" x="958.3" y="601.7"/>
<use href="#o" x="275.3" y="560.1"/><use href="#o" x="813.2" y="760.2"/><use href="#p" x="828.0" y="478.2"/><use href="#o" x="184.2" y="376.3"/><use href="#o" x="786.5" y="713.4"/><use href="#o" x="827.8" y="706.9"/><use href="#o" x="252.9" y="447.1"/><use href="#o" x="729.2" y="762.1"/>
<use href="#p" x="910.7" y="551.1"/><use href="#o" x="190.6" y="717.6"/><use href="#o" x="905.5" y="641.7"/><use href="#p" x="184.2" y="547.1"/><use href="#o" x="197.7" y="512.3"/><use href="#o" x="213.9" y="730.4"/><use href="#o" x="897.1" y="678.8"/><use href="#p" x="861.4" y="537.1"/>
<use href="#p" x="914.1" y="609.4"/><use href="#p" x="178.6" y="363.4"/><use href="#o" x="219.0" y="456.9"/><use href="#p" x="223.9" y="570.6"/><use href="#o" x="839.3" y="714.1"/><use href="#o" x="226.5" y="623.9"/><use href="#o" x="769.3" y="614.2"/><use href="#o" x="188.1" y="678.1"/>
<use href="#p" x="919.6" y="561.2"/><use href="#o" x="764.6" y="663.6"/><use href="#o" x="971.0" y="617.5"/><use href="#o" x="760.3" y="717.2"/><use href="#o" x="924.0" y="631.2"/><use href="#o" x="785.1" y="554.7"/><use href="#o" x="208.1" y="651.7"/><use href="#o" x="954.1" y="507.5"/>
<use href="#o" x="172.9" y="629.1"/><use href="#p" x="834.4" y="737.6"/><use href="#p" x="836.4" y="628.9"/><use href="#p" x="887.3" y="552.6"/><use href="#p" x="298.2" y="548.7"/><use href="#o" x="178.3" y="696.0"/><use href="#o" x="287.5" y="553.4"/><use href="#o" x="827.3" y="708.2"/>
<use href="#p" x="278.8" y="188.8"/><use href="#o" x="925.4" y="755.2"/><use href="#p" x="830.0" y="538.2"/><use href="#o" x="728.6" y="624.4"/><use href="#p" x="277.3" y="630.5"/><use href="#p" x="917.9" y="550.2"/><use href="#o" x="873.0" y="624.8"/><use href="#p" x="725.4" y="203.0"/>
<use href="#o" x="259.4" y="667.9"/><use href="#o" x="208.9" y="352.4"/><use href="#o" x="158.2" y="585.0"/><use href="#o" x="238.1" y="589.6"/><use href="#p" x="743.9" y="805.7"/><use href="#p" x="785.2" y="630.6"/><use href="#p" x="216.9" y="279.4"/><use href="#p" x="705.7" y="131.6"/>
<use href="#p" x="804.3" y="606.4"/><use href="#p" x="781.1" y="759.8"/><use href="#p" x="839.1" y="508.0"/><use href="#p" x="275.3" y="445.1"/><use href="#o" x="946.9" y="659.0"/><use href="#o" x="212.5" y="442.6"/><use href="#p" x="279.0" y="485.3"/><use href="#p" x="938.5" y="505.5"/>
<use href="#o" x="794.2" y="719.4"/><use href="#o" x="930.1" y="638.8"/><use href="#o" x="933.4" y="716.6"/><use href="#p" x="823.0" y="634.8"/><use href="#o" x="187.1" y="645.9"/><use href="#o" x="194.5" y="645.7"/><use href="#o" x="793.9" y="780.4"/><use href="#p" x="900.6" y="586.9"/>
<use href="#p" x="740.3" y="666.9"/><use href="#o" x="236.7" y="656.1"/><use href="#o" x="171.1" y="594.4"/><use href="#o" x="730.3" y="677.8"/><use href="#p" x="785.5" y="542.9"/><use href="#o" x="243.3" y="675.7"/><use href="#p" x="833.6" y="733.0"/><use href="#p" x="686.6" y="136.0"/>
<use href="#p" x="246.7" y="126.8"/><use href="#p" x="681.2" y="156.3"/><use href="#p" x="229.3" y="391.0"/><use href="#p" x="224.7" y="394.0"/><use href="#o" x="775.1" y="762.8"/><use href="#o" x="783.0" y="748.1"/><use href="#o" x="209.3" y="327.1"/><use href="#p" x="886.2" y="404.7"/>
<use href="#p" x="907.8" y="370.8"/><use href="#p" x="967.2" y="572.3"/><use href="#o" x="793.4" y="728.4"/><use href="#p" x="912.6" y="565.3"/><use href="#o" x="938.9" y="472.0"/><use href="#o" x="793.0" y="801.3"/><use href="#o" x="207.1" y="411.4"/><use href="#o" x="733.8" y="695.3"/>
<use href="#o" x="255.4" y="477.2"/><use href="#p" x="685.9" y="194.4"/><use href="#o" x="182.0" y="347.8"/><use href="#o" x="914.6" y="707.6"/><use href="#p" x="218.5" y="587.3"/><use href="#p" x="845.6" y="745.0"/><use href="#p" x="183.6" y="613.4"/><use href="#o" x="765.0" y="684.0"/>
<use href="#o" x="870.1" y="419.5"/><use href="#p" x="870.7" y="577.5"/><use href="#p" x="690.6" y="129.9"/><use href="#o" x="217.0" y="489.3"/><use href="#o" x="755.5" y="766.7"/><use href="#p" x="785.3" y="717.5"/><use href="#o" x="209.2" y="592.7"/><use href="#p" x="905.5" y="600.2"/>
<use href="#p" x="801.3" y="552.5"/><use href="#p" x="209.2" y="318.7"/><use href="#p" x="688.2" y="165.3"/><use href="#p" x="267.2" y="166.8"/><use href="#o" x="145.0" y="564.9"/><use href="#o" x="225.2" y="417.0"/><use href="#o" x="183.2" y="663.0"/><use href="#o" x="927.6" y="519.4"/>
<use href="#p" x="212.8" y="352.9"/><use href="#o" x="945.4" y="644.3"/><use href="#p" x="302.5" y="149.9"/><use href="#o" x="219.0" y="560.3"/><use href="#p" x="290.8" y="149.4"/><use href="#o" x="943.5" y="521.8"/><use href="#o" x="951.4" y="518.9"/><use href="#o" x="755.5" y="754.0"/>
<use href="#p" x="320.6" y="140.1"/><use href="#p" x="239.3" y="521.4"/><use href="#o" x="923.9" y="595.5"/><use href="#o" x="280.2" y="608.8"/><use href="#p" x="248.7" y="385.4"/><use href="#p" x="878.7" y="441.5"/><use href="#o" x="868.3" y="731.9"/><use href="#p" x="690.1" y="177.4"/>
<use href="#o" x="815.8" y="716.7"/><use href="#p" x="727.8" y="646.2"/><use href="#p" x="703.9" y="171.2"/><use href="#o" x="150.9" y="581.3"/><use href="#p" x="159.6" y="534.8"/><use href="#p" x="663.0" y="162.1"/><use href="#o" x="808.8" y="814.1"/><use href="#p" x="225.6" y="443.3"/>
<use href="#p" x="702.0" y="121.8"/><use href="#o" x="819.7" y="605.8"/><use href="#p" x="217.2" y="251.3"/><use href="#p" x="730.9" y="763.3"/><use href="#o" x="738.7" y="617.7"/><use href="#o" x="851.4" y="393.2"/><use href="#o" x="214.4" y="562.7"/><use href="#o" x="267.2" y="551.3"/>
<use href="#p" x="279.0" y="91.7"/><use href="#o" x="168.3" y="692.3"/><use href="#p" x="191.3" y="476.6"/><use href="#p" x="879.4" y="540.1"/><use href="#o" x="263.2" y="536.7"/><use href="#p" x="667.3" y="142.8"/><use href="#p" x="168.9" y="424.0"/><use href="#p" x="262.4" y="580.6"/>
<use href="#p" x="286.8" y="86.5"/><use href="#p" x="184.7" y="373.9"/><use href="#p" x="894.2" y="556.7"/><use href="#p" x="208.2" y="354.2"/><use href="#p" x="727.9" y="166.7"/><use href="#o" x="757.4" y="685.5"/><use href="#p" x="213.5" y="357.6"/><use href="#p" x="695.4" y="144.7"/>
<use href="#o" x="927.0" y="645.9"/><use href="#p" x="243.7" y="103.2"/><use href="#p" x="780.2" y="641.1"/><use href="#o" x="927.5" y="557.0"/><use href="#o" x="260.1" y="374.1"/><use href="#o" x="787.3" y="669.9"/><use href="#o" x="760.0" y="834.0"/><use href="#o" x="201.2" y="708.7"/>
<use href="#o" x="802.2" y="704.7"/><use href="#o" x="930.7" y="756.0"/><use href="#o" x="252.5" y="558.2"/><use href="#p" x="164.1" y="527.9"/><use href="#o" x="242.3" y="650.9"/><use href="#p" x="223.7" y="600.5"/><use href="#p" x="904.6" y="743.4"/><use href="#o" x="912.3" y="400.3"/>
<use href="#o" x="855.5" y="763.6"/><use href="#o" x="126.6" y="532.0"/><use href="#o" x="793.1" y="433.5"/><use href="#o" x="844.4" y="770.1"/><use href="#p" x="221.4" y="287.1"/><use href="#o" x="851.8" y="471.0"/><use href="#p" x="649.0" y="133.7"/><use href="#p" x="710.8" y="149.4"/>
<use href="#o" x="918.2" y="730.5"/><use href="#o" x="927.5" y="707.7"/><use href="#o" x="257.8" y="477.1"/><use href="#o" x="755.1" y="655.1"/><use href="#p" x="251.9" y="117.0"/><use href="#p" x="267.1" y="126.2"/><use href="#p" x="148.9" y="508.8"/><use href="#p" x="744.3" y="593.8"/>
<use href="#o" x="258.5" y="500.8"/><use href="#o" x="913.6" y="552.0"/><use href="#p" x="792.3" y="429.6"/><use href="#p" x="825.7" y="805.9"/><use href="#o" x="744.0" y="690.6"/><use href="#o" x="182.9" y="657.0"/><use href="#o" x="898.6" y="692.2"/><use href="#p" x="267.2" y="604.5"/>
<use href="#o" x="202.5" y="625.6"/><use href="#p" x="265.7" y="528.8"/><use href="#p" x="274.3" y="498.6"/><use href="#p" x="810.2" y="675.2"/><use href="#p" x="174.8" y="508.1"/><use href="#o" x="256.3" y="676.3"/><use href="#p" x="834.1" y="628.8"/><use href="#o" x="927.5" y="580.3"/>
<use href="#o" x="810.5" y="707.2"/><use href="#p" x="844.1" y="724.4"/><use href="#p" x="846.8" y="521.9"/><use href="#o" x="231.0" y="703.3"/><use href="#o" x="905.8" y="513.7"/><use href="#p" x="774.2" y="615.1"/><use href="#p" x="763.9" y="554.7"/><use href="#o" x="239.6" y="566.6"/>
<use href="#p" x="757.7" y="714.4"/><use href="#p" x="269.3" y="162.6"/><use href="#p" x="743.7" y="606.4"/><use href="#o" x="272.9" y="600.4"/><use href="#o" x="148.8" y="575.9"/><use href="#p" x="924.0" y="723.2"/><use href="#p" x="256.0" y="499.8"/><use href="#p" x="274.5" y="146.0"/>
<use href="#p" x="677.5" y="124.1"/><use href="#o" x="758.4" y="709.9"/><use href="#o" x="951.1" y="619.6"/><use href="#p" x="278.4" y="170.0"/><use href="#p" x="299.6" y="106.0"/><use href="#p" x="716.9" y="189.6"/><use href="#o" x="766.9" y="785.6"/><use href="#p" x="190.7" y="488.3"/>
<use href="#p" x="652.2" y="116.9"/><use href="#o" x="151.2" y="600.4"/><use href="#o" x="949.9" y="605.7"/><use href="#o" x="855.9" y="754.7"/><use href="#p" x="155.0" y="557.0"/><use href="#o" x="773.6" y="812.9"/><use href="#p" x="271.1" y="180.1"/><use href="#o" x="723.7" y="737.1"/>
<use href="#o" x="839.5" y="792.5"/><use href="#p" x="136.7" y="481.9"/><use href="#p" x="915.0" y="501.8"/><use href="#p" x="295.3" y="542.8"/><use href="#o" x="248.0" y="636.5"/><use href="#p" x="917.9" y="627.2"/><use href="#p" x="298.6" y="68.0"/><use href="#p" x="176.2" y="454.8"/>
<use href="#o" x="761.7" y="585.7"/><use href="#p" x="726.1" y="181.9"/><use href="#o" x="125.5" y="526.1"/><use href="#o" x="749.1" y="645.6"/><use href="#p" x="761.6" y="640.8"/><use href="#p" x="871.6" y="510.8"/><use href="#p" x="948.1" y="439.4"/><use href="#p" x="234.3" y="320.0"/>
<use href="#o" x="180.6" y="630.2"/><use href="#p" x="823.5" y="560.9"/><use href="#p" x="674.0" y="87.8"/><use href="#o" x="923.3" y="535.1"/><use href="#o" x="958.8" y="429.8"/><use href="#p" x="800.1" y="778.8"/><use href="#p" x="809.0" y="494.7"/><use href="#p" x="767.8" y="593.1"/>
<use href="#p" x="179.6" y="478.2"/><use href="#o" x="763.2" y="815.1"/><use href="#o" x="770.4" y="629.2"/><use href="#p" x="207.8" y="457.8"/><use href="#o" x="750.2" y="713.4"/><use href="#o" x="958.3" y="582.6"/><use href="#o" x="905.5" y="458.6"/><use href="#p" x="672.9" y="165.2"/>
<use href="#o" x="718.5" y="649.9"/><use href="#o" x="169.0" y="666.8"/><use href="#p" x="231.9" y="702.2"/><use href="#o" x="238.6" y="521.5"/><use href="#p" x="889.5" y="537.1"/><use href="#o" x="884.1" y="760.0"/><use href="#p" x="841.7" y="747.6"/><use href="#p" x="212.1" y="474.0"/>
<use href="#p" x="779.6" y="660.0"/><use href="#o" x="756.1" y="801.0"/><use href="#o" x="188.4" y="569.7"/><use href="#p" x="915.7" y="372.1"/><use href="#o" x="948.3" y="683.6"/><use href="#p" x="704.5" y="154.7"/><use href="#o" x="953.2" y="675.5"/><use href="#p" x="704.3" y="191.2"/>
<use href="#o" x="283.4" y="514.5"/><use href="#o" x="229.6" y="625.4"/><use href="#p" x="227.8" y="562.1"/><use href="#p" x="236.8" y="600.5"/><use href="#p" x="750.7" y="732.0"/><use href="#p" x="305.1" y="158.2"/><use href="#p" x="257.5" y="438.2"/><use href="#p" x="181.4" y="356.7"/>
<use href="#p" x="172.4" y="385.3"/><use href="#p" x="263.9" y="687.8"/><use href="#p" x="681.7" y="87.0"/><use href="#p" x="259.5" y="404.3"/><use href="#p" x="845.7" y="512.7"/><use href="#p" x="256.6" y="88.3"/><use href="#o" x="823.3" y="757.1"/><use href="#p" x="247.1" y="123.7"/>
<use href="#o" x="966.5" y="552.7"/><use href="#o" x="219.7" y="574.0"/><use href="#o" x="846.8" y="500.1"/><use href="#p" x="264.4" y="597.5"/><use href="#p" x="217.1" y="347.2"/><use href="#p" x="863.6" y="606.7"/><use href="#p" x="960.1" y="574.5"/><use href="#o" x="194.4" y="654.5"/>
<use href="#o" x="137.9" y="488.8"/><use href="#o" x="907.5" y="650.3"/><use href="#o" x="760.5" y="732.3"/><use href="#p" x="201.7" y="300.8"/><use href="#o" x="813.2" y="751.5"/><use href="#o" x="841.6" y="708.5"/><use href="#p" x="256.5" y="519.3"/><use href="#o" x="788.8" y="683.8"/>
<use href="#p" x="845.1" y="728.5"/><use href="#p" x="289.7" y="593.4"/><use href="#p" x="911.9" y="599.9"/><use href="#p" x="276.9" y="455.1"/><use href="#o" x="787.2" y="831.9"/><use href="#p" x="825.1" y="574.6"/><use href="#o" x="220.7" y="521.5"/><use href="#o" x="828.4" y="598.6"/>
<use href="#o" x="772.8" y="801.6"/><use href="#p" x="292.6" y="600.8"/><use href="#p" x="898.6" y="593.7"/><use href="#o" x="758.8" y="722.8"/><use href="#p" x="802.7" y="575.2"/><use href="#o" x="896.3" y="666.6"/><use href="#p" x="709.7" y="667.8"/><use href="#o" x="269.7" y="415.1"/>
<use href="#o" x="896.3" y="501.0"/><use href="#p" x="709.2" y="104.9"/><use href="#p" x="820.7" y="556.2"/><use href="#o" x="927.8" y="717.1"/><use href="#o" x="216.0" y="606.1"/><use href="#p" x="843.2" y="724.3"/><use href="#p" x="159.3" y="420.4"/><use href="#o" x="256.1" y="366.8"/>
<use href="#o" x="240.7" y="598.7"/><use href="#o" x="237.1" y="663.4"/><use href="#p" x="232.5" y="361.4"/><use href="#p" x="283.4" y="84.8"/><use href="#p" x="826.6" y="610.8"/><use href="#o" x="188.9" y="691.1"/><use href="#p" x="637.4" y="135.1"/><use href="#p" x="814.3" y="698.6"/>
<use href="#p" x="779.3" y="477.8"/><use href="#o" x="203.1" y="605.9"/><use href="#o" x="780.7" y="680.0"/><use href="#o" x="186.1" y="577.3"/><use href="#p" x="926.3" y="395.6"/><use href="#p" x="863.0" y="714.4"/><use href="#o" x="736.0" y="629.0"/><use href="#p" x="300.0" y="594.5"/>
<use href="#p" x="865.4" y="630.4"/><use href="#p" x="289.0" y="111.1"/><use href="#p" x="926.8" y="721.5"/><use href="#o" x="875.4" y="668.2"/><use href="#p" x="731.5" y="747.6"/><use href="#o" x="903.0" y="531.2"/><use href="#o" x="856.6" y="670.5"/><use href="#p" x="246.1" y="613.8"/>
<use href="#o" x="239.7" y="535.6"/><use href="#o" x="745.1" y="674.6"/><use href="#p" x="806.9" y="652.0"/><use href="#o" x="225.8" y="706.1"/><use href="#p" x="788.0" y="540.6"/><use href="#p" x="849.5" y="407.1"/><use href="#o" x="187.3" y="654.1"/><use href="#o" x="212.9" y="611.0"/>
<use href="#p" x="168.0" y="569.2"/><use href="#o" x="970.0" y="618.9"/><use href="#p" x="311.9" y="156.2"/><use href="#o" x="745.7" y="715.8"/><use href="#o" x="822.1" y="722.1"/><use href="#o" x="811.5" y="456.7"/><use href="#p" x="322.3" y="108.5"/><use href="#o" x="177.1" y="565.5"/>
<use href="#p" x="189.3" y="386.8"/><use href="#o" x="252.0" y="633.3"/><use href="#o" x="779.4" y="783.4"/><use href="#p" x="870.7" y="632.0"/><use href="#o" x="198.5" y="563.3"/><use href="#o" x="817.9" y="815.9"/><use href="#p" x="160.8" y="546.7"/><use href="#p" x="678.1" y="216.5"/>
<use href="#o" x="145.6" y="606.7"/><use href="#p" x="893.5" y="588.5"/><use href="#p" x="824.4" y="539.3"/><use href="#o" x="815.6" y="676.1"/><use href="#p" x="769.6" y="551.6"/><use href="#o" x="791.6" y="690.7"/><use href="#o" x="745.3" y="645.0"/><use href="#o" x="732.0" y="666.5"/>
<use href="#p" x="245.0" y="426.6"/><use href="#o" x="160.8" y="632.4"/><use href="#p" x="253.2" y="457.1"/><use href="#p" x="264.3" y="111.2"/><use href="#o" x="889.4" y="756.7"/><use href="#p" x="868.5" y="517.6"/><use href="#p" x="805.8" y="401.2"/><use href="#p" x="222.4" y="726.4"/>
<use href="#o" x="963.6" y="475.4"/><use href="#p" x="312.0" y="129.2"/><use href="#p" x="686.0" y="140.1"/><use href="#p" x="139.5" y="495.2"/><use href="#o" x="216.1" y="552.4"/><use href="#p" x="654.9" y="207.2"/><use href="#o" x="970.4" y="502.2"/><use href="#o" x="949.3" y="643.6"/>
<use href="#p" x="255.5" y="404.5"/><use href="#p" x="200.0" y="554.2"/><use href="#o" x="200.5" y="581.0"/><use href="#o" x="764.4" y="703.9"/><use href="#o" x="267.2" y="592.9"/><use href="#p" x="759.3" y="806.3"/><use href="#o" x="884.0" y="571.4"/><use href="#p" x="729.1" y="717.5"/>
<use href="#o" x="918.4" y="568.9"/><use href="#o" x="958.2" y="500.3"/><use href="#o" x="804.9" y="679.8"/><use href="#p" x="815.0" y="725.2"/><use href="#o" x="935.4" y="397.8"/><use href="#p" x="758.2" y="542.3"/><use href="#o" x="927.6" y="663.8"/><use href="#p" x="814.5" y="664.6"/>
<use href="#p" x="758.0" y="772.6"/><use href="#p" x="245.9" y="335.0"/><use href="#p" x="288.8" y="541.4"/><use href="#o" x="912.6" y="725.3"/><use href="#p" x="814.9" y="802.6"/><use href="#o" x="899.6" y="745.0"/><use href="#p" x="190.8" y="362.3"/><use href="#p" x="261.8" y="148.4"/>
<use href="#o" x="283.7" y="619.0"/><use href="#p" x="772.6" y="529.5"/><use href="#p" x="218.1" y="274.4"/><use href="#p" x="916.7" y="389.8"/><use href="#o" x="208.8" y="547.2"/><use href="#p" x="154.6" y="456.8"/><use href="#o" x="743.0" y="790.9"/><use href="#p" x="154.8" y="568.4"/>
<use href="#p" x="926.2" y="406.4"/><use href="#p" x="289.5" y="168.4"/><use href="#p" x="824.2" y="413.6"/><use href="#p" x="710.7" y="115.2"/><use href="#p" x="249.2" y="125.8"/><use href="#o" x="299.6" y="588.5"/><use href="#p" x="770.8" y="727.5"/><use href="#o" x="817.5" y="814.5"/>
<use href="#p" x="242.5" y="470.9"/><use href="#o" x="917.6" y="524.8"/><use href="#p" x="335.5" y="141.8"/><use href="#o" x="916.2" y="669.3"/><use href="#o" x="752.1" y="829.2"/><use href="#p" x="698.0" y="182.6"/><use href="#o" x="128.0" y="529.0"/><use href="#p" x="690.6" y="185.1"/>
<use href="#p" x="285.6" y="138.8"/><use href="#p" x="163.3" y="410.6"/><use href="#p" x="801.8" y="573.7"/><use href="#p" x="280.4" y="108.4"/><use href="#p" x="807.8" y="527.7"/><use href="#o" x="946.4" y="401.6"/><use href="#p" x="819.5" y="638.1"/><use href="#o" x="942.6" y="574.4"/>
<use href="#o" x="237.4" y="506.0"/><use href="#o" x="249.5" y="502.6"/><use href="#o" x="197.1" y="486.8"/><use href="#o" x="174.1" y="706.9"/><use href="#p" x="764.2" y="649.0"/><use href="#o" x="921.0" y="456.9"/><use href="#p" x="657.0" y="198.4"/><use href="#p" x="297.0" y="160.8"/>
<use href="#o" x="261.4" y="417.9"/><use href="#p" x="290.4" y="542.6"/><use href="#p" x="913.7" y="373.4"/><use href="#p" x="171.2" y="610.2"/><use href="#p" x="219.0" y="307.8"/><use href="#o" x="772.4" y="751.2"/><use href="#o" x="774.4" y="820.3"/><use href="#p" x="147.0" y="591.8"/>
<use href="#p" x="892.7" y="412.5"/><use href="#p" x="662.0" y="152.6"/><use href="#p" x="830.0" y="412.7"/><use href="#o" x="903.5" y="469.5"/><use href="#p" x="912.6" y="467.1"/><use href="#o" x="252.6" y="494.4"/><use href="#o" x="875.2" y="631.3"/><use href="#o" x="151.0" y="514.7"/>
<use href="#o" x="971.2" y="506.1"/><use href="#o" x="138.6" y="532.5"/><use href="#o" x="235.7" y="463.1"/><use href="#o" x="943.6" y="683.0"/><use href="#o" x="906.5" y="483.1"/><use href="#o" x="919.9" y="604.9"/><use href="#p" x="222.8" y="512.4"/><use href="#o" x="228.3" y="568.4"/>
<use href="#o" x="724.4" y="668.2"/><use href="#o" x="271.4" y="545.9"/><use href="#p" x="294.1" y="153.9"/><use href="#o" x="223.4" y="687.7"/><use href="#p" x="251.0" y="88.8"/><use href="#o" x="799.4" y="712.2"/><use href="#p" x="164.8" y="489.2"/><use href="#p" x="825.8" y="678.2"/>
<use href="#o" x="734.0" y="677.2"/><use href="#p" x="225.4" y="509.4"/><use href="#o" x="247.6" y="341.9"/><use href="#o" x="724.3" y="713.4"/><use href="#p" x="699.6" y="197.6"/><use href="#p" x="770.8" y="514.6"/><use href="#o" x="975.6" y="584.9"/><use href="#o" x="199.3" y="481.6"/>
<use href="#p" x="675.0" y="211.9"/><use href="#o" x="801.1" y="769.1"/><use href="#o" x="957.4" y="564.6"/><use href="#p" x="277.7" y="77.5"/><use href="#p" x="746.6" y="651.5"/><use href="#p" x="199.6" y="559.0"/><use href="#o" x="955.9" y="484.7"/><use href="#o" x="218.4" y="441.1"/>
<use href="#p" x="880.8" y="671.7"/><use href="#p" x="173.6" y="526.2"/><use href="#o" x="781.5" y="750.4"/><use href="#p" x="252.7" y="108.3"/><use href="#o" x="233.1" y="546.8"/><use href="#p" x="281.6" y="80.4"/><use href="#o" x="245.2" y="478.1"/><use href="#o" x="761.9" y="821.9"/>
<use href="#p" x="789.2" y="487.9"/><use href="#p" x="225.1" y="313.1"/><use href="#p" x="243.9" y="126.7"/><use href="#o" x="889.8" y="569.5"/><use href="#p" x="670.9" y="215.4"/><use href="#p" x="134.4" y="479.6"/><use href="#p" x="915.8" y="621.2"/><use href="#o" x="175.8" y="625.4"/>
<use href="#o" x="946.4" y="695.2"/><use href="#p" x="685.8" y="177.0"/><use href="#p" x="243.3" y="596.1"/><use href="#o" x="795.5" y="648.5"/><use href="#o" x="950.9" y="627.9"/><use href="#p" x="661.7" y="183.4"/><use href="#p" x="841.8" y="471.8"/><use href="#p" x="886.1" y="536.7"/>
<use href="#p" x="223.4" y="521.1"/><use href="#p" x="789.3" y="461.5"/><use href="#o" x="776.1" y="657.7"/><use href="#p" x="296.9" y="624.8"/><use href="#o" x="163.8" y="469.5"/><use href="#o" x="881.0" y="592.9"/><use href="#o" x="912.7" y="714.2"/><use href="#p" x="257.8" y="87.6"/>
<use href="#p" x="762.4" y="607.7"/><use href="#p" x="680.5" y="226.4"/><use href="#o" x="934.4" y="399.9"/><use href="#o" x="148.4" y="624.0"/><use href="#p" x="770.1" y="630.2"/><use href="#p" x="263.1" y="416.5"/><use href="#o" x="185.1" y="634.4"/><use href="#o" x="134.0" y="567.9"/>
<use href="#p" x="842.9" y="795.6"/><use href="#o" x="953.5" y="393.3"/><use href="#o" x="197.7" y="541.1"/><use href="#o" x="845.3" y="772.5"/><use href="#o" x="950.6" y="664.9"/><use href="#p" x="912.1" y="494.0"/><use href="#o" x="791.3" y="577.5"/><use href="#p" x="246.4" y="705.9"/>
<use href="#o" x="818.4" y="801.2"/><use href="#o" x="788.1" y="755.1"/><use href="#p" x="244.4" y="707.4"/><use href="#p" x="185.5" y="655.2"/><use href="#o" x="130.9" y="537.6"/><use href="#o" x="912.7" y="438.7"/><use href="#p" x="791.9" y="719.1"/><use href="#o" x="171.8" y="556.2"/>
<use href="#o" x="866.0" y="532.2"/><use href="#p" x="779.0" y="671.7"/><use href="#p" x="930.3" y="524.0"/><use href="#p" x="243.9" y="362.6"/><use href="#p" x="955.6" y="515.1"/><use href="#o" x="189.3" y="506.2"/><use href="#o" x="761.7" y="806.4"/><use href="#p" x="740.6" y="747.4"/>
<use href="#p" x="928.4" y="429.1"/><use href="#p" x="256.5" y="673.7"/><use href="#p" x="246.5" y="569.3"/><use href="#p" x="895.9" y="378.6"/><use href="#p" x="848.8" y="594.6"/><use href="#o" x="824.5" y="813.8"/><use href="#p" x="816.7" y="586.9"/><use href="#o" x="234.8" y="604.8"/>
<use href="#o" x="170.6" y="421.3"/><use href="#p" x="294.3" y="145.7"/><use href="#p" x="856.3" y="430.5"/><use href="#p" x="908.4" y="496.5"/><use href="#o" x="925.2" y="657.9"/><use href="#o" x="206.1" y="470.9"/><use href="#o" x="877.9" y="686.6"/><use href="#o" x="810.5" y="742.6"/>
<use href="#p" x="279.0" y="170.9"/><use href="#o" x="770.5" y="615.9"/><use href="#o" x="923.6" y="598.9"/><use href="#p" x="267.9" y="476.0"/><use href="#o" x="151.7" y="617.4"/><use href="#o" x="236.5" y="489.8"/><use href="#o" x="195.6" y="533.9"/><use href="#o" x="776.2" y="476.1"/>
<use href="#o" x="781.0" y="750.1"/><use href="#p" x="283.6" y="584.2"/><use href="#o" x="916.4" y="457.0"/><use href="#p" x="306.4" y="544.7"/><use href="#p" x="810.4" y="625.6"/><use href="#o" x="919.1" y="511.4"/><use href="#p" x="657.9" y="156.4"/><use href="#p" x="704.5" y="139.5"/>
<use href="#p" x="756.4" y="738.7"/><use href="#p" x="842.0" y="765.0"/><use href="#o" x="280.2" y="618.7"/><use href="#p" x="273.3" y="77.1"/><use href="#p" x="712.2" y="182.9"/><use href="#o" x="247.7" y="388.7"/><use href="#o" x="146.6" y="483.7"/><use href="#o" x="802.3" y="686.0"/>
<use href="#p" x="778.5" y="682.3"/><use href="#p" x="741.6" y="737.8"/><use href="#o" x="961.5" y="470.5"/><use href="#o" x="954.2" y="593.3"/><use href="#p" x="237.1" y="80.1"/><use href="#o" x="953.3" y="423.2"/><use href="#p" x="865.3" y="588.8"/><use href="#p" x="241.7" y="98.0"/>
<use href="#o" x="778.6" y="751.9"/><use href="#p" x="848.2" y="720.2"/><use href="#o" x="778.0" y="683.5"/><use href="#o" x="766.6" y="654.7"/><use href="#o" x="907.7" y="617.0"/><use href="#o" x="162.8" y="682.3"/><use href="#p" x="748.9" y="809.2"/><use href="#p" x="708.8" y="212.9"/>
<use href="#p" x="245.9" y="584.1"/><use href="#o" x="789.7" y="646.6"/><use href="#p" x="321.3" y="147.9"/><use href="#o" x="945.1" y="572.7"/><use href="#p" x="292.3" y="164.7"/><use href="#p" x="925.8" y="481.5"/><use href="#p" x="653.1" y="183.4"/><use href="#o" x="952.7" y="439.1"/>
<use href="#p" x="309.0" y="130.5"/><use href="#o" x="273.3" y="599.5"/><use href="#o" x="727.0" y="645.7"/><use href="#p" x="259.8" y="66.9"/><use href="#o" x="784.2" y="661.3"/><use href="#p" x="778.2" y="514.2"/><use href="#p" x="819.1" y="629.0"/><use href="#o" x="206.0" y="646.2"/>
<use href="#o" x="194.0" y="651.7"/><use href="#p" x="786.6" y="550.9"/><use href="#o" x="196.5" y="709.7"/><use href="#o" x="908.6" y="748.3"/><use href="#p" x="891.8" y="542.2"/><use href="#p" x="680.5" y="141.4"/><use href="#p" x="808.3" y="493.6"/><use href="#p" x="200.2" y="555.2"/>
<use href="#p" x="271.3" y="620.4"/><use href="#p" x="775.4" y="566.9"/><use href="#p" x="968.4" y="515.6"/><use href="#o" x="892.4" y="534.2"/><use href="#p" x="877.4" y="633.7"/><use href="#p" x="659.0" y="221.3"/><use href="#o" x="147.0" y="546.9"/><use href="#o" x="951.5" y="631.1"/>
<use href="#p" x="255.4" y="82.3"/><use href="#o" x="200.5" y="703.0"/><use href="#o" x="816.2" y="459.5"/><use href="#p" x="236.9" y="619.8"/><use href="#o" x="227.8" y="723.0"/><use href="#p" x="226.8" y="719.5"/><use href="#o" x="198.3" y="590.1"/><use href="#p" x="909.4" y="592.5"/>
<use href="#o" x="944.7" y="633.8"/><use href="#o" x="952.4" y="430.5"/><use href="#o" x="174.2" y="551.8"/><use href="#p" x="226.5" y="510.7"/><use href="#o" x="878.9" y="653.5"/><use href="#p" x="748.8" y="808.7"/><use href="#p" x="175.0" y="635.5"/><use href="#p" x="277.9" y="101.2"/>
<use href="#o" x="179.6" y="620.3"/><use href="#p" x="199.7" y="363.4"/><use href="#p" x="281.0" y="194.0"/><use href="#o" x="932.8" y="396.1"/><use href="#o" x="214.7" y="414.3"/><use href="#p" x="231.1" y="682.0"/><use href="#p" x="300.0" y="144.5"/><use href="#o" x="979.2" y="530.4"/>
<use href="#o" x="181.9" y="557.9"/><use href="#o" x="286.9" y="626.9"/><use href="#o" x="931.7" y="644.6"/><use href="#p" x="902.6" y="557.7"/><use href="#p" x="246.0" y="141.5"/><use href="#p" x="774.5" y="531.7"/><use href="#p" x="693.7" y="99.6"/><use href="#o" x="286.2" y="513.7"/>
<use href="#p" x="321.2" y="123.1"/><use href="#p" x="203.8" y="291.9"/><use href="#o" x="877.1" y="627.6"/><use href="#p" x="653.0" y="182.3"/><use href="#o" x="739.8" y="651.6"/><use href="#o" x="248.8" y="674.0"/><use href="#p" x="223.9" y="383.5"/><use href="#o" x="746.0" y="782.5"/>
<use href="#o" x="917.3" y="760.1"/><use href="#o" x="958.4" y="636.8"/><use href="#p" x="899.3" y="511.8"/><use href="#p" x="828.9" y="649.1"/><use href="#p" x="228.1" y="596.1"/><use href="#p" x="285.8" y="155.2"/><use href="#o" x="261.3" y="685.6"/><use href="#o" x="795.7" y="752.3"/>
<use href="#p" x="862.3" y="718.0"/><use href="#o" x="858.3" y="472.8"/><use href="#p" x="288.3" y="576.6"/><use href="#o" x="928.3" y="387.4"/><use href="#o" x="912.6" y="476.7"/><use href="#p" x="705.2" y="195.5"/><use href="#o" x="938.6" y="532.2"/><use href="#o" x="887.8" y="751.8"/>
<use href="#p" x="273.4" y="174.5"/><use href="#o" x="949.1" y="696.8"/><use href="#o" x="210.1" y="557.2"/><use href="#p" x="274.8" y="120.7"/><use href="#p" x="244.2" y="154.5"/><use href="#p" x="853.8" y="583.1"/><use href="#o" x="127.4" y="536.0"/><use href="#o" x="246.0" y="530.6"/>
<use href="#p" x="791.4" y="641.3"/><use href="#o" x="942.7" y="628.7"/><use href="#p" x="173.8" y="386.5"/><use href="#p" x="846.6" y="501.4"/><use href="#p" x="225.6" y="480.8"/><use href="#o" x="186.7" y="557.9"/><use href="#p" x="793.4" y="563.5"/><use href="#p" x="225.8" y="508.6"/>
<use href="#o" x="745.5" y="769.7"/><use href="#p" x="740.6" y="723.8"/><use href="#p" x="137.7" y="496.1"/><use href="#o" x="930.0" y="578.0"/><use href="#p" x="291.8" y="485.1"/><use href="#o" x="134.1" y="567.8"/><use href="#o" x="899.8" y="460.6"/><use href="#o" x="212.4" y="643.4"/>
<use href="#p" x="219.0" y="439.4"/><use href="#o" x="915.9" y="511.0"/><use href="#p" x="274.0" y="483.6"/><use href="#p" x="698.6" y="115.1"/><use href="#p" x="779.1" y="708.5"/><use href="#p" x="244.1" y="446.7"/><use href="#o" x="269.6" y="663.9"/><use href="#o" x="275.9" y="523.4"/>
<use href="#p" x="705.7" y="192.3"/><use href="#o" x="790.0" y="678.7"/><use href="#o" x="920.0" y="674.7"/><use href="#p" x="268.2" y="97.0"/><use href="#p" x="281.1" y="181.3"/><use href="#p" x="158.4" y="485.7"/><use href="#o" x="873.9" y="634.9"/><use href="#p" x="331.9" y="147.4"/>
<use href="#p" x="760.5" y="650.2"/><use href="#o" x="288.4" y="539.0"/><use href="#o" x="959.8" y="450.3"/><use href="#o" x="773.6" y="811.5"/><use href="#o" x="718.5" y="651.5"/><use href="#p" x="842.6" y="492.1"/><use href="#p" x="284.9" y="74.3"/><use href="#o" x="173.4" y="643.9"/>
<use href="#o" x="924.2" y="548.7"/><use href="#o" x="799.6" y="684.1"/><use href="#p" x="239.4" y="525.4"/><use href="#p" x="786.0" y="526.1"/><use href="#p" x="886.9" y="433.4"/><use href="#o" x="945.9" y="482.7"/><use href="#o" x="222.7" y="547.6"/><use href="#o" x="154.3" y="655.8"/>
<use href="#p" x="280.1" y="593.6"/><use href="#o" x="826.9" y="756.1"/><use href="#p" x="698.0" y="120.3"/><use href="#p" x="896.3" y="570.8"/><use href="#p" x="278.7" y="59.7"/><use href="#o" x="808.3" y="643.3"/><use href="#o" x="914.1" y="506.8"/><use href="#p" x="275.8" y="149.2"/>
<use href="#o" x="731.1" y="768.3"/><use href="#p" x="201.5" y="705.1"/><use href="#o" x="745.0" y="657.5"/><use href="#p" x="709.1" y="149.4"/><use href="#o" x="265.4" y="551.3"/><use href="#p" x="262.2" y="381.9"/><use href="#o" x="217.9" y="571.0"/><use href="#o" x="953.6" y="640.6"/>
<use href="#p" x="677.7" y="238.9"/><use href="#p" x="179.1" y="646.0"/><use href="#o" x="272.5" y="641.4"/><use href="#o" x="917.7" y="398.5"/><use href="#p" x="206.9" y="351.8"/><use href="#p" x="662.3" y="233.8"/><use href="#o" x="205.3" y="458.6"/><use href="#p" x="296.6" y="139.1"/>
<use href="#o" x="176.0" y="479.0"/><use href="#p" x="701.2" y="209.8"/><use href="#o" x="168.5" y="632.3"/><use href="#p" x="703.6" y="190.5"/><use href="#p" x="977.2" y="608.7"/><use href="#o" x="805.8" y="685.0"/><use href="#p" x="278.1" y="100.0"/><use href="#o" x="200.1" y="634.3"/>
<use href="#o" x="267.3" y="436.5"/><use href="#p" x="866.6" y="586.0"/><use href="#p" x="814.1" y="444.4"/><use href="#p" x="300.9" y="518.0"/><use href="#p" x="208.3" y="276.2"/><use href="#o" x="736.3" y="721.5"/><use href="#o" x="724.7" y="740.1"/><use href="#p" x="804.3" y="764.2"/>
<use href="#p" x="725.9" y="205.0"/><use href="#o" x="205.9" y="670.8"/><use href="#o" x="793.2" y="730.7"/><use href="#o" x="255.4" y="680.7"/><use href="#p" x="232.6" y="536.2"/><use href="#p" x="839.3" y="789.3"/><use href="#o" x="786.8" y="706.0"/><use href="#p" x="761.7" y="732.5"/>
<use href="#o" x="248.4" y="451.0"/><use href="#p" x="712.3" y="168.0"/><use href="#o" x="728.9" y="767.0"/><use href="#o" x="256.3" y="477.3"/><use href="#o" x="965.4" y="565.9"/><use href="#o" x="792.3" y="687.4"/><use href="#o" x="795.5" y="536.9"/><use href="#p" x="764.7" y="729.2"/>
<use href="#o" x="211.2" y="624.0"/><use href="#p" x="294.6" y="131.3"/><use href="#o" x="203.4" y="554.7"/><use href="#o" x="218.1" y="615.4"/><use href="#p" x="897.6" y="535.4"/><use href="#p" x="257.1" y="70.7"/><use href="#o" x="185.8" y="555.1"/><use href="#p" x="666.6" y="208.2"/>
<use href="#p" x="651.8" y="198.7"/><use href="#p" x="252.1" y="509.3"/><use href="#o" x="772.8" y="675.1"/><use href="#p" x="858.7" y="565.2"/><use href="#p" x="285.1" y="582.8"/><use href="#p" x="249.9" y="458.4"/><use href="#p" x="725.4" y="205.6"/><use href="#o" x="799.0" y="817.1"/>
<use href="#p" x="896.7" y="400.6"/><use href="#p" x="805.9" y="607.5"/><use href="#o" x="156.4" y="632.2"/><use href="#p" x="167.0" y="443.5"/><use href="#p" x="808.0" y="644.7"/><use href="#p" x="301.7" y="513.8"/><use href="#o" x="202.3" y="713.9"/><use href="#o" x="218.2" y="401.1"/>
<use href="#o" x="827.6" y="680.6"/><use href="#o" x="250.4" y="652.3"/><use href="#o" x="791.2" y="760.5"/><use href="#o" x="176.7" y="665.3"/><use href="#p" x="831.6" y="591.3"/><use href="#p" x="299.4" y="137.9"/><use href="#p" x="661.3" y="169.1"/><use href="#p" x="244.8" y="626.4"/>
<use href="#o" x="262.7" y="661.5"/><use href="#p" x="924.0" y="632.0"/><use href="#o" x="245.2" y="676.4"/><use href="#o" x="927.2" y="748.7"/><use href="#p" x="183.2" y="561.4"/><use href="#p" x="264.0" y="136.0"/><use href="#o" x="907.1" y="442.0"/><use href="#o" x="759.6" y="658.7"/>
<use href="#p" x="308.8" y="83.3"/><use href="#p" x="227.0" y="378.4"/><use href="#o" x="183.3" y="701.1"/><use href="#o" x="888.1" y="611.2"/><use href="#p" x="840.7" y="535.1"/><use href="#p" x="289.6" y="517.3"/><use href="#o" x="169.1" y="673.6"/><use href="#p" x="661.4" y="109.6"/>
<use href="#o" x="188.6" y="591.5"/><use href="#p" x="198.9" y="591.6"/><use href="#p" x="682.3" y="88.8"/><use href="#p" x="243.4" y="521.0"/><use href="#p" x="276.1" y="634.8"/><use href="#p" x="283.5" y="124.4"/><use href="#o" x="821.3" y="662.6"/><use href="#p" x="686.6" y="139.4"/>
<use href="#o" x="281.6" y="595.7"/><use href="#o" x="934.7" y="612.9"/><use href="#o" x="781.6" y="589.4"/><use href="#p" x="894.7" y="570.6"/><use href="#o" x="750.8" y="681.1"/><use href="#o" x="209.4" y="520.7"/><use href="#p" x="233.2" y="374.6"/><use href="#o" x="239.2" y="608.8"/>
<use href="#p" x="665.5" y="142.9"/><use href="#o" x="938.5" y="642.1"/><use href="#o" x="266.1" y="661.5"/><use href="#p" x="250.9" y="126.2"/><use href="#o" x="228.6" y="301.0"/><use href="#p" x="788.9" y="447.0"/><use href="#p" x="823.3" y="531.7"/><use href="#p" x="956.4" y="469.1"/>
<use href="#o" x="251.8" y="519.6"/><use href="#p" x="217.0" y="492.0"/><use href="#p" x="210.3" y="321.7"/><use href="#o" x="251.7" y="531.3"/><use href="#o" x="226.7" y="686.0"/><use href="#p" x="781.9" y="815.2"/><use href="#p" x="257.2" y="138.2"/><use href="#o" x="919.6" y="552.1"/>
<use href="#p" x="226.3" y="348.3"/><use href="#o" x="784.0" y="755.6"/><use href="#p" x="268.5" y="153.4"/><use href="#p" x="166.5" y="495.6"/><use href="#o" x="900.3" y="441.0"/><use href="#p" x="697.7" y="178.7"/><use href="#o" x="220.9" y="448.7"/><use href="#p" x="280.1" y="159.0"/>
<use href="#p" x="906.5" y="501.7"/><use href="#o" x="934.4" y="711.9"/><use href="#p" x="268.0" y="172.5"/><use href="#p" x="970.5" y="562.1"/><use href="#p" x="680.2" y="152.1"/><use href="#o" x="766.1" y="605.6"/><use href="#p" x="926.4" y="639.1"/><use href="#p" x="153.1" y="518.8"/>
<use href="#p" x="276.1" y="81.0"/><use href="#p" x="215.7" y="415.5"/><use href="#p" x="243.2" y="130.5"/><use href="#p" x="242.3" y="621.0"/><use href="#p" x="212.5" y="256.9"/><use href="#p" x="173.8" y="593.4"/><use href="#p" x="281.1" y="177.8"/><use href="#o" x="197.3" y="632.9"/>
<use href="#o" x="823.3" y="783.0"/><use href="#o" x="186.4" y="538.7"/><use href="#p" x="810.9" y="628.1"/><use href="#o" x="926.7" y="544.4"/><use href="#o" x="899.0" y="552.1"/><use href="#p" x="211.7" y="376.3"/><use href="#p" x="805.9" y="397.7"/><use href="#o" x="804.8" y="737.2"/>
<use href="#o" x="217.7" y="472.1"/><use href="#p" x="876.1" y="571.2"/><use href="#p" x="831.0" y="481.4"/><use href="#p" x="672.9" y="196.9"/><use href="#o" x="844.1" y="771.7"/><use href="#o" x="749.9" y="737.1"/><use href="#o" x="791.4" y="827.0"/><use href="#p" x="192.7" y="500.9"/>
<use href="#p" x="284.7" y="510.7"/><use href="#p" x="253.6" y="387.1"/><use href="#p" x="712.4" y="141.0"/><use href="#p" x="291.7" y="609.5"/><use href="#o" x="767.6" y="589.2"/><use href="#p" x="187.0" y="473.3"/><use href="#o" x="159.0" y="581.4"/><use href="#o" x="213.1" y="570.7"/>
<use href="#p" x="766.0" y="608.7"/><use href="#p" x="222.4" y="330.3"/><use href="#p" x="840.3" y="506.7"/><use href="#p" x="177.4" y="394.3"/><use href="#p" x="231.5" y="411.4"/><use href="#p" x="254.9" y="106.8"/><use href="#o" x="761.6" y="771.4"/><use href="#o" x="230.1" y="594.9"/>
<use href="#p" x="843.3" y="441.2"/><use href="#o" x="183.3" y="556.8"/><use href="#p" x="861.0" y="712.3"/><use href="#p" x="717.3" y="158.3"/><use href="#p" x="313.6" y="135.9"/><use href="#p" x="268.8" y="162.8"/><use href="#p" x="812.5" y="410.2"/><use href="#p" x="167.7" y="563.8"/>
<use href="#o" x="950.1" y="544.6"/><use href="#o" x="204.3" y="522.7"/><use href="#o" x="155.7" y="605.9"/><use href="#o" x="224.2" y="663.7"/><use href="#o" x="875.9" y="624.7"/><use href="#o" x="167.2" y="689.7"/><use href="#p" x="250.3" y="116.5"/><use href="#p" x="180.0" y="466.8"/>
<use href="#p" x="292.6" y="513.8"/><use href="#o" x="236.9" y="574.5"/><use href="#o" x="155.1" y="588.3"/><use href="#o" x="190.0" y="553.0"/><use href="#o" x="806.5" y="661.3"/><use href="#p" x="822.7" y="708.1"/><use href="#p" x="274.1" y="416.5"/><use href="#o" x="769.5" y="807.2"/>
<use href="#p" x="880.0" y="558.0"/><use href="#p" x="848.5" y="559.0"/><use href="#p" x="249.6" y="116.8"/><use href="#p" x="687.8" y="182.1"/><use href="#o" x="261.6" y="613.4"/><use href="#p" x="873.1" y="549.9"/><use href="#o" x="228.1" y="578.9"/><use href="#o" x="757.2" y="754.6"/>
<use href="#o" x="149.9" y="584.5"/><use href="#p" x="263.7" y="91.5"/><use href="#o" x="155.8" y="512.2"/><use href="#o" x="910.4" y="423.3"/><use href="#p" x="240.6" y="473.9"/><use href="#o" x="846.2" y="688.3"/><use href="#p" x="770.8" y="644.6"/><use href="#p" x="836.9" y="535.4"/>
<use href="#o" x="179.0" y="602.4"/><use href="#p" x="335.4" y="150.6"/><use href="#o" x="870.0" y="473.5"/><use href="#p" x="786.6" y="584.2"/><use href="#p" x="219.1" y="318.1"/><use href="#o" x="131.5" y="515.2"/><use href="#p" x="324.5" y="151.9"/><use href="#o" x="920.1" y="587.5"/>
<use href="#o" x="756.1" y="606.3"/><use href="#o" x="911.9" y="667.1"/><use href="#p" x="827.2" y="793.3"/><use href="#p" x="338.7" y="145.5"/><use href="#o" x="901.2" y="418.5"/><use href="#o" x="836.8" y="682.6"/><use href="#p" x="227.5" y="275.6"/><use href="#p" x="311.5" y="130.5"/>
<use href="#p" x="254.7" y="453.3"/><use href="#o" x="212.2" y="530.2"/><use href="#o" x="239.4" y="682.9"/><use href="#p" x="720.1" y="214.0"/><use href="#p" x="888.7" y="571.9"/><use href="#p" x="854.5" y="547.2"/><use href="#p" x="819.6" y="414.2"/><use href="#o" x="952.2" y="643.9"/>
<use href="#p" x="903.0" y="751.0"/><use href="#p" x="711.5" y="101.3"/><use href="#o" x="909.1" y="396.9"/><use href="#p" x="928.0" y="473.0"/><use href="#p" x="754.9" y="700.9"/><use href="#o" x="781.8" y="689.8"/><use href="#p" x="710.8" y="202.9"/><use href="#p" x="906.9" y="573.9"/>
<use href="#o" x="904.6" y="472.8"/><use href="#o" x="722.8" y="740.0"/><use href="#p" x="206.5" y="372.2"/><use href="#o" x="793.2" y="757.5"/><use href="#p" x="278.3" y="646.6"/><use href="#p" x="837.4" y="434.2"/><use href="#p" x="305.0" y="80.0"/><use href="#p" x="229.7" y="396.6"/>
<use href="#o" x="276.1" y="587.3"/><use href="#o" x="168.5" y="528.6"/><use href="#o" x="954.1" y="459.3"/><use href="#p" x="904.4" y="571.6"/><use href="#o" x="952.7" y="664.6"/><use href="#o" x="248.9" y="705.7"/><use href="#p" x="274.2" y="485.2"/><use href="#p" x="217.1" y="292.9"/>
<use href="#p" x="237.8" y="416.1"/><use href="#p" x="937.0" y="462.3"/><use href="#p" x="657.0" y="224.4"/><use href="#p" x="260.6" y="134.1"/><use href="#o" x="782.2" y="616.7"/><use href="#p" x="782.7" y="627.3"/><use href="#o" x="180.7" y="593.2"/><use href="#o" x="127.9" y="543.6"/>
<use href="#p" x="736.8" y="703.5"/><use href="#p" x="839.4" y="611.0"/><use href="#o" x="808.4" y="749.4"/><use href="#p" x="682.6" y="130.1"/><use href="#p" x="811.2" y="655.8"/><use href="#p" x="239.3" y="448.8"/><use href="#o" x="171.7" y="572.7"/><use href="#o" x="932.2" y="722.4"/>
<use href="#o" x="241.7" y="475.6"/><use href="#p" x="943.1" y="399.0"/><use href="#p" x="231.4" y="654.5"/><use href="#p" x="190.5" y="605.1"/><use href="#o" x="919.4" y="507.3"/><use href="#p" x="210.0" y="350.6"/><use href="#p" x="226.5" y="579.8"/><use href="#o" x="187.3" y="502.6"/>
<use href="#p" x="228.9" y="570.3"/><use href="#p" x="153.2" y="664.2"/><use href="#o" x="255.9" y="663.2"/><use href="#o" x="224.2" y="539.0"/><use href="#o" x="169.4" y="497.7"/><use href="#o" x="171.4" y="612.6"/><use href="#p" x="947.1" y="600.0"/><use href="#p" x="271.2" y="110.3"/>
<use href="#o" x="169.0" y="404.3"/><use href="#p" x="240.8" y="379.3"/><use href="#o" x="802.4" y="641.8"/><use href="#p" x="780.1" y="483.0"/><use href="#p" x="846.5" y="719.7"/><use href="#p" x="258.6" y="144.5"/><use href="#p" x="703.7" y="162.1"/><use href="#p" x="289.7" y="162.9"/>
<use href="#o" x="144.0" y="583.1"/><use href="#o" x="150.2" y="507.4"/><use href="#p" x="776.1" y="488.1"/><use href="#p" x="202.4" y="704.6"/><use href="#p" x="266.7" y="491.7"/><use href="#p" x="257.9" y="118.3"/><use href="#o" x="951.5" y="579.9"/><use href="#o" x="883.6" y="434.4"/>
<use href="#p" x="923.2" y="491.3"/><use href="#p" x="273.1" y="610.1"/><use href="#o" x="194.2" y="586.1"/><use href="#o" x="901.9" y="677.2"/><use href="#o" x="794.3" y="627.8"/><use href="#p" x="304.9" y="89.2"/><use href="#p" x="288.0" y="123.0"/><use href="#o" x="904.6" y="730.0"/>
<use href="#p" x="216.9" y="355.6"/><use href="#o" x="947.4" y="605.1"/><use href="#o" x="969.2" y="547.9"/><use href="#o" x="227.0" y="655.7"/><use href="#p" x="228.3" y="287.0"/><use href="#o" x="825.1" y="709.9"/><use href="#p" x="230.1" y="583.3"/><use href="#p" x="299.9" y="65.8"/>
<use href="#p" x="910.3" y="362.0"/><use href="#o" x="194.6" y="541.5"/><use href="#o" x="964.2" y="627.4"/><use href="#p" x="257.4" y="627.4"/><use href="#p" x="751.7" y="788.5"/><use href="#o" x="962.1" y="550.4"/><use href="#p" x="807.1" y="622.6"/><use href="#o" x="893.7" y="647.0"/>
<use href="#p" x="236.2" y="528.1"/><use href="#p" x="852.9" y="691.4"/><use href="#p" x="227.4" y="715.3"/><use href="#p" x="215.0" y="287.8"/><use href="#o" x="920.2" y="662.3"/><use href="#o" x="203.2" y="627.9"/><use href="#p" x="287.4" y="491.3"/><use href="#o" x="191.9" y="332.1"/>
<use href="#p" x="865.9" y="616.7"/><use href="#p" x="215.7" y="281.3"/><use href="#p" x="308.0" y="79.3"/><use href="#o" x="757.9" y="783.0"/><use href="#o" x="282.3" y="613.3"/><use href="#o" x="250.2" y="650.3"/><use href="#p" x="178.0" y="623.8"/><use href="#o" x="177.5" y="523.9"/>
<use href="#p" x="904.0" y="380.3"/><use href="#o" x="201.9" y="683.9"/><use href="#p" x="225.8" y="403.2"/><use href="#p" x="246.3" y="473.8"/><use href="#o" x="180.3" y="439.6"/><use href="#o" x="971.2" y="527.5"/><use href="#o" x="202.0" y="402.2"/><use href="#o" x="946.1" y="553.4"/>
<use href="#p" x="669.0" y="148.1"/><use href="#o" x="254.9" y="605.6"/><use href="#o" x="740.3" y="781.1"/><use href="#p" x="247.0" y="104.7"/><use href="#p" x="751.3" y="742.2"/><use href="#o" x="195.5" y="607.5"/><use href="#o" x="857.3" y="584.7"/><use href="#o" x="902.5" y="689.0"/>
<use href="#p" x="225.3" y="289.7"/><use href="#p" x="172.8" y="441.6"/><use href="#o" x="810.5" y="751.7"/><use href="#p" x="778.3" y="500.2"/><use href="#p" x="233.0" y="319.9"/><use href="#o" x="946.1" y="531.8"/><use href="#o" x="811.3" y="792.6"/><use href="#p" x="786.3" y="546.6"/>
<use href="#p" x="287.3" y="164.1"/><use href="#p" x="266.5" y="128.9"/><use href="#o" x="943.8" y="425.7"/><use href="#o" x="945.9" y="653.4"/><use href="#p" x="253.4" y="89.2"/><use href="#o" x="743.6" y="729.0"/><use href="#p" x="798.1" y="560.4"/><use href="#p" x="265.8" y="514.5"/>
<use href="#o" x="253.0" y="616.1"/><use href="#o" x="276.2" y="524.9"/><use href="#o" x="910.1" y="416.9"/><use href="#o" x="908.1" y="439.4"/><use href="#o" x="156.4" y="576.8"/><use href="#p" x="145.7" y="457.0"/><use href="#o" x="211.2" y="590.5"/><use href="#o" x="245.6" y="608.5"/>
<use href="#o" x="205.7" y="638.6"/><use href="#p" x="773.0" y="598.6"/><use href="#o" x="919.3" y="608.1"/><use href="#o" x="220.3" y="715.6"/><use href="#p" x="653.8" y="172.7"/><use href="#p" x="791.5" y="522.1"/><use href="#p" x="180.6" y="566.5"/><use href="#p" x="831.1" y="539.0"/>
<use href="#p" x="861.0" y="401.7"/><use href="#o" x="883.7" y="475.3"/><use href="#p" x="671.6" y="177.1"/><use href="#p" x="683.4" y="182.5"/><use href="#o" x="831.0" y="707.8"/><use href="#o" x="917.2" y="551.9"/><use href="#o" x="925.4" y="570.3"/><use href="#o" x="243.9" y="509.0"/>
<use href="#p" x="273.4" y="105.4"/><use href="#o" x="796.9" y="694.0"/><use href="#p" x="823.3" y="688.2"/><use href="#o" x="964.2" y="451.9"/><use href="#p" x="191.8" y="457.2"/><use href="#p" x="258.0" y="129.5"/><use href="#p" x="692.4" y="173.7"/><use href="#o" x="189.9" y="527.7"/>
<use href="#o" x="836.9" y="649.7"/><use href="#o" x="252.6" y="478.4"/><use href="#o" x="928.2" y="735.4"/><use href="#o" x="752.6" y="677.3"/><use href="#p" x="799.7" y="697.1"/><use href="#p" x="251.5" y="559.0"/><use href="#p" x="780.2" y="528.9"/><use href="#o" x="151.7" y="435.0"/>
<use href="#o" x="966.2" y="628.7"/><use href="#o" x="805.2" y="625.9"/><use href="#o" x="766.9" y="670.2"/><use href="#o" x="755.5" y="793.4"/><use href="#p" x="296.8" y="152.1"/><use href="#o" x="787.5" y="767.1"/><use href="#p" x="934.0" y="450.4"/><use href="#o" x="140.1" y="492.6"/>
<use href="#o" x="196.9" y="693.2"/><use href="#p" x="859.4" y="593.0"/><use href="#p" x="266.3" y="396.6"/><use href="#p" x="804.5" y="626.8"/><use href="#o" x="247.4" y="488.7"/><use href="#o" x="770.1" y="726.5"/><use href="#o" x="893.6" y="669.0"/><use href="#o" x="191.1" y="587.8"/>
<use href="#p" x="271.9" y="413.4"/><use href="#p" x="165.6" y="438.6"/><use href="#p" x="277.5" y="112.6"/><use href="#p" x="210.0" y="298.6"/><use href="#p" x="269.7" y="510.7"/><use href="#o" x="182.9" y="689.2"/><use href="#p" x="242.5" y="482.6"/><use href="#p" x="263.7" y="470.0"/>
<use href="#o" x="143.9" y="542.9"/><use href="#p" x="720.2" y="170.1"/><use href="#o" x="743.3" y="578.4"/><use href="#o" x="937.2" y="595.5"/><use href="#o" x="231.5" y="637.2"/><use href="#p" x="270.5" y="673.8"/><use href="#p" x="141.1" y="478.0"/><use href="#p" x="800.1" y="415.8"/>
<use href="#p" x="861.1" y="623.0"/><use href="#o" x="908.8" y="592.3"/><use href="#p" x="234.7" y="336.0"/><use href="#o" x="967.0" y="550.1"/><use href="#o" x="216.7" y="413.7"/><use href="#p" x="159.7" y="465.9"/><use href="#p" x="216.3" y="617.5"/><use href="#p" x="213.9" y="349.1"/>
<use href="#o" x="165.7" y="670.8"/><use href="#p" x="179.8" y="355.8"/><use href="#p" x="785.1" y="652.3"/><use href="#p" x="767.2" y="486.9"/><use href="#p" x="284.0" y="160.7"/><use href="#p" x="255.2" y="87.3"/><use href="#p" x="281.5" y="501.8"/><use href="#p" x="271.5" y="447.7"/>
<use href="#o" x="956.3" y="513.1"/><use href="#p" x="660.9" y="128.8"/><use href="#o" x="927.2" y="655.6"/><use href="#p" x="693.5" y="124.2"/><use href="#p" x="936.6" y="693.7"/><use href="#p" x="782.6" y="599.7"/><use href="#o" x="902.6" y="375.9"/><use href="#o" x="792.8" y="824.8"/>
<use href="#o" x="800.3" y="766.9"/><use href="#p" x="972.0" y="597.0"/><use href="#o" x="897.2" y="513.4"/><use href="#p" x="245.4" y="526.9"/><use href="#o" x="785.2" y="832.2"/><use href="#o" x="924.7" y="748.5"/><use href="#o" x="940.7" y="479.9"/><use href="#o" x="889.8" y="663.5"/>
<use href="#p" x="956.9" y="623.5"/><use href="#o" x="850.1" y="460.5"/><use href="#p" x="770.9" y="718.5"/><use href="#p" x="316.1" y="157.4"/><use href="#o" x="931.8" y="746.2"/><use href="#o" x="207.8" y="685.1"/><use href="#o" x="890.6" y="729.1"/><use href="#o" x="140.8" y="481.4"/>
<use href="#o" x="259.0" y="592.5"/><use href="#o" x="961.3" y="411.9"/><use href="#p" x="313.2" y="84.1"/><use href="#o" x="232.7" y="628.3"/><use href="#p" x="852.9" y="414.8"/><use href="#p" x="819.2" y="669.7"/><use href="#p" x="259.4" y="471.4"/><use href="#p" x="893.5" y="515.7"/>
<use href="#p" x="778.0" y="499.1"/><use href="#p" x="242.7" y="687.8"/><use href="#o" x="746.8" y="571.8"/><use href="#o" x="730.8" y="648.1"/><use href="#o" x="225.8" y="692.8"/><use href="#o" x="226.0" y="635.4"/><use href="#p" x="790.1" y="691.0"/><use href="#p" x="237.6" y="532.9"/>
<use href="#p" x="723.3" y="722.0"/><use href="#o" x="976.6" y="565.1"/><use href="#o" x="724.6" y="686.8"/><use href="#p" x="285.1" y="69.7"/><use href="#p" x="260.9" y="452.2"/><use href="#p" x="264.0" y="427.6"/><use href="#o" x="922.0" y="680.8"/><use href="#p" x="260.3" y="581.8"/>
<use href="#o" x="771.2" y="781.0"/><use href="#p" x="277.2" y="653.1"/><use href="#p" x="703.2" y="171.0"/><use href="#p" x="204.0" y="651.3"/><use href="#p" x="763.3" y="548.2"/><use href="#o" x="773.3" y="772.2"/><use href="#o" x="248.9" y="647.8"/><use href="#p" x="205.3" y="443.2"/>
<use href="#p" x="243.7" y="117.3"/><use href="#o" x="965.5" y="567.5"/><use href="#o" x="905.1" y="708.2"/><use href="#p" x="213.2" y="704.8"/><use href="#p" x="673.6" y="167.2"/><use href="#p" x="779.6" y="532.8"/><use href="#o" x="968.6" y="444.7"/><use href="#o" x="925.4" y="592.2"/>
<use href="#p" x="255.9" y="444.5"/><use href="#p" x="271.7" y="588.4"/><use href="#o" x="792.6" y="698.1"/><use href="#p" x="891.4" y="503.6"/><use href="#p" x="133.0" y="543.4"/><use href="#o" x="959.7" y="650.0"/><use href="#p" x="872.0" y="560.3"/><use href="#o" x="763.7" y="648.6"/>
<use href="#o" x="785.2" y="759.3"/><use href="#o" x="920.5" y="487.7"/><use href="#o" x="198.9" y="645.5"/><use href="#p" x="961.0" y="477.7"/><use href="#p" x="767.7" y="496.7"/><use href="#o" x="893.9" y="659.8"/><use href="#p" x="794.2" y="514.4"/><use href="#p" x="282.2" y="641.6"/>
<use href="#p" x="935.0" y="747.3"/><use href="#p" x="233.6" y="71.8"/><use href="#o" x="269.6" y="470.9"/><use href="#o" x="233.0" y="680.7"/><use href="#p" x="848.6" y="785.6"/><use href="#p" x="785.9" y="504.7"/><use href="#p" x="933.5" y="507.6"/><use href="#p" x="788.7" y="466.3"/>
<use href="#o" x="782.4" y="743.6"/><use href="#p" x="321.9" y="157.2"/><use href="#o" x="148.9" y="514.7"/><use href="#p" x="164.5" y="529.7"/><use href="#p" x="681.7" y="81.1"/><use href="#o" x="900.4" y="633.4"/><use href="#o" x="880.1" y="497.8"/><use href="#p" x="831.2" y="411.4"/>
<use href="#p" x="278.8" y="90.8"/><use href="#o" x="235.7" y="618.1"/><use href="#p" x="213.4" y="668.7"/><use href="#o" x="733.2" y="605.8"/><use href="#p" x="687.2" y="184.1"/><use href="#o" x="254.7" y="699.2"/><use href="#p" x="241.9" y="477.4"/><use href="#o" x="906.2" y="728.3"/>
<use href="#p" x="264.5" y="444.3"/><use href="#p" x="265.8" y="606.5"/><use href="#o" x="960.8" y="595.8"/><use href="#o" x="752.2" y="740.0"/><use href="#o" x="723.4" y="656.3"/><use href="#p" x="779.5" y="496.8"/><use href="#o" x="729.1" y="670.3"/><use href="#p" x="848.5" y="725.2"/>
<use href="#p" x="663.8" y="100.3"/><use href="#p" x="147.4" y="563.1"/><use href="#p" x="284.5" y="644.7"/><use href="#p" x="258.3" y="131.7"/><use href="#p" x="882.7" y="555.5"/><use href="#o" x="786.3" y="672.1"/><use href="#p" x="216.9" y="623.2"/><use href="#p" x="941.0" y="470.7"/>
<use href="#p" x="658.8" y="125.2"/><use href="#o" x="920.8" y="732.9"/><use href="#p" x="210.9" y="264.9"/><use href="#p" x="794.5" y="547.1"/><use href="#p" x="252.4" y="640.4"/><use href="#p" x="932.8" y="461.7"/><use href="#p" x="879.4" y="491.1"/><use href="#p" x="235.3" y="706.2"/>
<use href="#o" x="178.6" y="416.5"/><use href="#o" x="185.2" y="696.9"/><use href="#o" x="189.4" y="494.7"/><use href="#p" x="276.3" y="63.5"/><use href="#p" x="877.9" y="708.4"/><use href="#o" x="907.4" y="606.4"/><use href="#p" x="787.9" y="489.9"/><use href="#p" x="217.9" y="676.9"/>
<use href="#o" x="909.0" y="674.9"/><use href="#p" x="299.6" y="78.7"/><use href="#p" x="260.7" y="117.6"/><use href="#p" x="818.2" y="421.0"/><use href="#p" x="795.1" y="419.1"/><use href="#o" x="929.2" y="588.6"/><use href="#p" x="945.8" y="662.5"/><use href="#o" x="911.7" y="644.1"/>
<use href="#o" x="803.1" y="464.1"/><use href="#o" x="765.6" y="828.3"/><use href="#o" x="718.9" y="703.1"/><use href="#p" x="680.3" y="161.4"/><use href="#p" x="716.9" y="124.2"/><use href="#p" x="779.6" y="700.8"/><use href="#o" x="242.9" y="590.0"/><use href="#o" x="863.9" y="481.8"/>
<use href="#p" x="209.9" y="303.6"/><use href="#o" x="179.9" y="485.7"/><use href="#p" x="794.0" y="539.0"/><use href="#o" x="758.7" y="709.4"/><use href="#o" x="760.3" y="832.1"/><use href="#p" x="710.9" y="96.6"/><use href="#o" x="203.9" y="530.6"/><use href="#p" x="289.7" y="639.2"/>
<use href="#o" x="781.2" y="815.6"/><use href="#p" x="303.1" y="163.4"/><use href="#o" x="853.6" y="768.9"/><use href="#p" x="223.1" y="494.1"/><use href="#o" x="716.1" y="645.5"/><use href="#p" x="208.5" y="377.6"/><use href="#p" x="828.2" y="663.0"/><use href="#p" x="690.7" y="145.8"/>
<use href="#p" x="876.5" y="521.8"/><use href="#p" x="665.6" y="162.2"/><use href="#p" x="823.8" y="806.4"/><use href="#p" x="879.0" y="625.1"/><use href="#o" x="255.2" y="588.4"/><use href="#p" x="933.8" y="453.9"/><use href="#p" x="302.7" y="561.5"/><use href="#p" x="252.6" y="353.1"/>
<use href="#o" x="900.4" y="734.3"/><use href="#p" x="805.6" y="726.6"/><use href="#p" x="283.6" y="487.9"/><use href="#p" x="886.2" y="398.9"/><use href="#o" x="244.5" y="650.4"/><use href="#o" x="914.0" y="514.4"/><use href="#p" x="883.2" y="624.3"/><use href="#o" x="935.7" y="531.2"/>
<use href="#p" x="235.9" y="694.8"/><use href="#p" x="720.1" y="198.1"/><use href="#p" x="281.9" y="87.8"/><use href="#p" x="244.9" y="469.9"/><use href="#o" x="238.1" y="455.3"/><use href="#o" x="915.4" y="651.7"/><use href="#p" x="879.6" y="545.7"/><use href="#p" x="867.5" y="630.3"/>
<use href="#o" x="226.7" y="674.0"/><use href="#o" x="772.1" y="809.5"/><use href="#p" x="247.2" y="697.7"/><use href="#p" x="805.2" y="691.3"/><use href="#o" x="226.1" y="628.4"/><use href="#o" x="945.9" y="483.0"/><use href="#p" x="280.3" y="153.9"/><use href="#p" x="693.4" y="160.4"/>
<use href="#p" x="245.1" y="133.4"/><use href="#p" x="208.2" y="299.3"/><use href="#p" x="672.9" y="113.9"/><use href="#p" x="211.5" y="461.0"/><use href="#p" x="206.8" y="705.0"/><use href="#o" x="260.4" y="613.1"/><use href="#o" x="947.9" y="576.4"/><use href="#o" x="889.1" y="693.9"/>
<use href="#o" x="787.1" y="644.1"/><use href="#o" x="915.9" y="731.4"/><use href="#p" x="257.7" y="529.9"/><use href="#p" x="230.3" y="362.4"/><use href="#p" x="779.4" y="568.6"/><use href="#p" x="699.0" y="176.7"/><use href="#o" x="940.6" y="572.1"/><use href="#o" x="229.0" y="485.3"/>
<use href="#o" x="862.9" y="650.6"/><use href="#p" x="810.4" y="625.2"/><use href="#o" x="928.9" y="619.8"/><use href="#o" x="925.9" y="691.6"/><use href="#o" x="838.3" y="507.3"/><use href="#o" x="780.1" y="802.1"/><use href="#o" x="910.2" y="624.3"/><use href="#p" x="940.6" y="699.0"/>
<use href="#o" x="811.5" y="421.2"/><use href="#o" x="817.5" y="655.8"/><use href="#p" x="168.2" y="632.4"/><use href="#p" x="266.1" y="648.7"/><use href="#o" x="177.8" y="521.7"/><use href="#p" x="702.5" y="209.1"/><use href="#o" x="203.0" y="520.5"/><use href="#p" x="780.5" y="542.6"/>
<use href="#o" x="953.4" y="487.3"/><use href="#p" x="667.6" y="205.2"/><use href="#p" x="298.8" y="137.2"/><use href="#p" x="807.4" y="624.1"/><use href="#o" x="932.7" y="389.9"/><use href="#p" x="720.9" y="108.5"/><use href="#p" x="678.4" y="157.0"/><use href="#p" x="784.9" y="609.6"/>
<use href="#p" x="786.8" y="629.9"/><use href="#p" x="302.6" y="556.2"/><use href="#p" x="871.3" y="431.4"/><use href="#o" x="253.5" y="650.0"/><use href="#o" x="905.0" y="427.2"/><use href="#p" x="828.7" y="624.9"/><use href="#p" x="223.1" y="410.6"/><use href="#o" x="174.3" y="440.0"/>
<use href="#o" x="217.6" y="614.3"/><use href="#o" x="169.7" y="628.4"/><use href="#p" x="808.6" y="571.0"/><use href="#o" x="741.5" y="720.6"/><use href="#o" x="829.6" y="709.4"/><use href="#p" x="789.1" y="772.8"/><use href="#p" x="709.7" y="181.6"/><use href="#p" x="740.3" y="635.9"/>
<use href="#o" x="250.7" y="581.2"/><use href="#o" x="978.7" y="520.8"/><use href="#p" x="862.1" y="592.1"/><use href="#o" x="276.8" y="586.5"/><use href="#p" x="852.8" y="402.3"/><use href="#o" x="150.4" y="566.9"/><use href="#p" x="802.6" y="462.9"/><use href="#o" x="937.1" y="465.9"/>
<use href="#o" x="203.2" y="550.1"/><use href="#o" x="889.7" y="469.0"/><use href="#p" x="244.6" y="337.7"/><use href="#p" x="872.7" y="736.9"/><use href="#o" x="215.1" y="619.1"/><use href="#o" x="907.2" y="429.6"/><use href="#o" x="962.7" y="492.7"/><use href="#p" x="892.5" y="588.4"/>
<use href="#o" x="208.7" y="518.0"/><use href="#o" x="183.6" y="582.1"/><use href="#p" x="160.6" y="567.4"/><use href="#o" x="232.9" y="625.9"/><use href="#p" x="932.1" y="627.5"/><use href="#o" x="938.1" y="635.6"/><use href="#p" x="139.4" y="587.1"/><use href="#p" x="955.9" y="521.5"/>
<use href="#o" x="946.8" y="557.9"/><use href="#o" x="824.0" y="729.9"/><use href="#o" x="804.3" y="633.8"/><use href="#p" x="236.2" y="626.5"/><use href="#o" x="215.4" y="662.7"/><use href="#o" x="808.7" y="761.5"/><use href="#p" x="750.1" y="571.1"/><use href="#p" x="233.9" y="522.7"/>
<use href="#o" x="923.5" y="380.4"/><use href="#p" x="319.8" y="129.9"/><use href="#o" x="762.7" y="781.3"/><use href="#o" x="168.5" y="683.1"/><use href="#p" x="199.5" y="368.7"/><use href="#p" x="779.3" y="674.8"/><use href="#o" x="895.8" y="450.7"/><use href="#p" x="757.6" y="658.3"/>
<use href="#p" x="252.1" y="387.0"/><use href="#p" x="259.0" y="594.1"/><use href="#o" x="938.9" y="567.8"/><use href="#p" x="817.7" y="568.2"/><use href="#p" x="834.9" y="723.7"/><use href="#p" x="175.0" y="505.6"/><use href="#o" x="201.3" y="725.1"/><use href="#o" x="906.1" y="711.3"/>
<use href="#o" x="741.0" y="747.3"/><use href="#p" x="282.5" y="500.6"/><use href="#o" x="845.1" y="727.2"/><use href="#p" x="814.9" y="542.2"/><use href="#o" x="894.7" y="519.1"/><use href="#o" x="849.7" y="724.9"/><use href="#p" x="945.5" y="483.1"/><use href="#o" x="184.8" y="621.2"/>
<use href="#o" x="817.2" y="770.3"/><use href="#o" x="836.4" y="462.9"/><use href="#o" x="937.2" y="557.3"/><use href="#p" x="848.5" y="473.1"/><use href="#p" x="144.8" y="473.9"/><use href="#o" x="882.6" y="763.3"/><use href="#p" x="259.7" y="136.2"/><use href="#o" x="853.9" y="763.0"/>
<use href="#p" x="243.4" y="444.3"/><use href="#p" x="291.3" y="97.2"/><use href="#o" x="804.6" y="761.2"/><use href="#p" x="973.9" y="577.7"/><use href="#o" x="279.4" y="634.4"/><use href="#o" x="961.5" y="594.9"/><use href="#p" x="773.9" y="462.3"/><use href="#o" x="236.7" y="540.2"/>
<use href="#o" x="812.0" y="674.2"/><use href="#p" x="831.1" y="778.5"/><use href="#p" x="218.7" y="436.7"/><use href="#p" x="213.4" y="488.0"/><use href="#p" x="688.3" y="144.2"/><use href="#p" x="179.1" y="560.5"/><use href="#p" x="213.4" y="505.3"/><use href="#p" x="833.5" y="395.3"/>
<use href="#p" x="761.6" y="502.4"/><use href="#p" x="708.2" y="171.8"/><use href="#p" x="253.0" y="390.6"/><use href="#o" x="907.0" y="526.0"/><use href="#p" x="272.7" y="161.9"/><use href="#p" x="266.1" y="183.2"/><use href="#p" x="664.9" y="200.3"/><use href="#p" x="187.5" y="457.8"/>
<use href="#p" x="768.9" y="510.5"/><use href="#p" x="843.2" y="733.4"/><use href="#o" x="197.8" y="661.8"/><use href="#o" x="948.8" y="434.7"/><use href="#p" x="195.9" y="366.1"/><use href="#o" x="903.4" y="749.7"/><use href="#o" x="831.6" y="757.8"/><use href="#p" x="270.8" y="481.4"/>
<use href="#o" x="750.1" y="798.8"/><use href="#o" x="759.1" y="805.0"/><use href="#o" x="945.3" y="718.5"/><use href="#o" x="745.5" y="782.4"/><use href="#o" x="877.8" y="670.7"/><use href="#o" x="798.0" y="763.6"/><use href="#p" x="240.0" y="104.7"/><use href="#o" x="909.6" y="665.7"/>
<use href="#p" x="204.2" y="378.3"/><use href="#o" x="844.8" y="778.6"/><use href="#p" x="678.2" y="135.5"/><use href="#o" x="935.3" y="619.6"/><use href="#o" x="767.4" y="805.7"/><use href="#o" x="773.3" y="561.6"/><use href="#o" x="233.9" y="667.0"/><use href="#o" x="826.0" y="772.9"/>
<use href="#o" x="844.8" y="763.3"/><use href="#p" x="238.2" y="573.8"/><use href="#p" x="199.6" y="310.3"/><use href="#p" x="290.0" y="563.7"/><use href="#p" x="813.9" y="416.1"/><use href="#p" x="213.9" y="307.0"/><use href="#p" x="763.6" y="605.2"/><use href="#o" x="921.7" y="762.1"/>
<use href="#p" x="171.6" y="482.3"/><use href="#o" x="153.1" y="588.0"/><use href="#o" x="948.0" y="597.6"/><use href="#o" x="766.6" y="741.2"/><use href="#p" x="706.9" y="94.6"/><use href="#p" x="249.3" y="165.9"/><use href="#p" x="799.4" y="670.6"/><use href="#o" x="937.1" y="530.7"/>
<use href="#p" x="780.2" y="473.8"/><use href="#p" x="805.0" y="641.0"/><use href="#p" x="172.2" y="633.0"/><use href="#p" x="669.6" y="119.6"/><use href="#p" x="905.7" y="625.3"/><use href="#p" x="185.1" y="442.5"/><use href="#p" x="168.2" y="490.7"/><use href="#p" x="277.7" y="601.2"/>
<use href="#p" x="750.8" y="756.7"/><use href="#o" x="924.7" y="594.0"/><use href="#o" x="924.5" y="652.1"/><use href="#p" x="781.3" y="495.5"/><use href="#o" x="809.8" y="582.8"/><use href="#p" x="854.7" y="588.2"/><use href="#o" x="207.5" y="623.4"/><use href="#o" x="192.6" y="586.2"/>
<use href="#p" x="888.2" y="612.8"/><use href="#p" x="259.1" y="160.8"/><use href="#p" x="222.1" y="552.3"/><use href="#o" x="977.7" y="494.9"/><use href="#o" x="739.2" y="793.3"/><use href="#p" x="844.5" y="670.5"/><use href="#o" x="204.5" y="618.2"/><use href="#o" x="247.3" y="529.5"/>
<use href="#p" x="273.4" y="580.7"/><use href="#o" x="251.4" y="595.0"/><use href="#o" x="256.8" y="647.0"/><use href="#p" x="250.9" y="96.5"/><use href="#p" x="892.9" y="499.9"/><use href="#o" x="954.4" y="628.2"/><use href="#o" x="899.3" y="550.8"/><use href="#o" x="795.9" y="647.7"/>
<use href="#p" x="240.6" y="692.3"/><use href="#p" x="180.3" y="477.4"/><use href="#o" x="943.9" y="541.1"/><use href="#p" x="906.1" y="618.0"/><use href="#p" x="164.3" y="560.2"/><use href="#o" x="770.1" y="572.2"/><use href="#p" x="685.7" y="154.8"/><use href="#p" x="240.3" y="461.5"/>
<use href="#p" x="653.4" y="118.7"/><use href="#p" x="234.9" y="568.2"/><use href="#p" x="672.5" y="165.3"/><use href="#p" x="241.7" y="563.1"/><use href="#o" x="303.9" y="533.7"/><use href="#o" x="269.9" y="630.4"/><use href="#p" x="269.4" y="452.1"/><use href="#o" x="251.3" y="646.3"/>
<use href="#o" x="765.8" y="821.5"/><use href="#o" x="745.3" y="624.2"/><use href="#p" x="243.1" y="467.4"/><use href="#p" x="845.8" y="504.3"/><use href="#o" x="798.1" y="758.0"/><use href="#p" x="700.9" y="130.5"/><use href="#p" x="136.2" y="536.1"/><use href="#p" x="261.1" y="519.8"/>
<use href="#p" x="808.0" y="623.0"/><use href="#o" x="756.0" y="678.7"/><use href="#p" x="215.7" y="269.9"/><use href="#o" x="136.1" y="505.1"/><use href="#p" x="830.2" y="418.8"/><use href="#p" x="803.4" y="518.3"/><use href="#p" x="737.6" y="802.6"/><use href="#o" x="935.2" y="565.2"/>
<use href="#o" x="818.3" y="733.6"/><use href="#p" x="847.9" y="777.8"/><use href="#o" x="961.2" y="420.1"/><use href="#o" x="242.5" y="704.7"/><use href="#o" x="879.8" y="673.6"/><use href="#o" x="967.6" y="579.5"/><use href="#o" x="266.5" y="604.9"/><use href="#p" x="211.2" y="515.6"/>
<use href="#o" x="859.6" y="769.4"/><use href="#o" x="806.9" y="767.8"/><use href="#p" x="887.4" y="552.1"/><use href="#p" x="201.6" y="679.0"/><use href="#o" x="943.8" y="397.3"/><use href="#o" x="234.4" y="432.6"/><use href="#p" x="222.0" y="346.9"/><use href="#o" x="797.7" y="641.5"/>
<use href="#o" x="817.0" y="791.0"/><use href="#p" x="760.1" y="793.4"/><use href="#o" x="902.0" y="730.1"/><use href="#p" x="260.5" y="170.3"/><use href="#p" x="186.4" y="338.1"/><use href="#o" x="877.2" y="768.0"/><use href="#o" x="917.4" y="683.3"/><use href="#p" x="695.3" y="121.8"/>
<use href="#p" x="217.2" y="616.1"/><use href="#p" x="218.7" y="268.9"/><use href="#p" x="263.7" y="502.5"/><use href="#o" x="212.0" y="586.8"/><use href="#p" x="876.4" y="561.0"/><use href="#o" x="228.3" y="604.2"/><use href="#o" x="177.2" y="629.7"/><use href="#p" x="966.9" y="475.4"/>
<use href="#o" x="727.0" y="756.8"/><use href="#p" x="771.3" y="833.6"/><use href="#p" x="238.1" y="316.6"/><use href="#p" x="206.1" y="290.5"/><use href="#p" x="190.1" y="385.1"/><use href="#p" x="190.0" y="436.8"/><use href="#p" x="194.0" y="488.9"/><use href="#o" x="263.7" y="591.2"/>
<use href="#o" x="853.9" y="587.4"/><use href="#o" x="885.4" y="633.8"/><use href="#p" x="918.7" y="378.4"/><use href="#p" x="251.5" y="364.4"/><use href="#o" x="898.3" y="437.9"/><use href="#o" x="225.5" y="675.4"/><use href="#p" x="830.0" y="751.6"/><use href="#o" x="769.7" y="805.3"/>
<use href="#o" x="925.0" y="380.3"/><use href="#o" x="932.9" y="533.8"/><use href="#p" x="796.8" y="621.7"/><use href="#p" x="235.4" y="646.7"/><use href="#p" x="283.8" y="608.1"/><use href="#o" x="772.1" y="782.2"/><use href="#o" x="924.8" y="592.8"/><use href="#o" x="966.1" y="521.6"/>
<use href="#o" x="220.8" y="563.4"/><use href="#o" x="918.4" y="574.8"/><use href="#o" x="956.6" y="458.3"/><use href="#o" x="210.3" y="602.3"/><use href="#o" x="129.3" y="519.9"/><use href="#o" x="773.0" y="824.4"/><use href="#o" x="771.4" y="830.7"/><use href="#p" x="789.6" y="458.4"/>
<use href="#o" x="973.3" y="598.5"/><use href="#p" x="253.9" y="398.7"/><use href="#p" x="187.9" y="455.3"/><use href="#p" x="893.9" y="729.9"/><use href="#p" x="852.2" y="530.3"/><use href="#o" x="805.9" y="816.5"/><use href="#o" x="247.4" y="572.1"/><use href="#p" x="814.7" y="623.3"/>
<use href="#o" x="173.7" y="617.2"/><use href="#p" x="282.3" y="124.0"/><use href="#p" x="674.2" y="143.1"/><use href="#p" x="323.7" y="137.8"/><use href="#o" x="751.0" y="723.8"/><use href="#p" x="929.6" y="469.8"/><use href="#p" x="879.6" y="518.0"/><use href="#p" x="276.5" y="579.8"/>
<use href="#p" x="213.1" y="708.1"/><use href="#p" x="294.4" y="88.9"/><use href="#p" x="141.0" y="590.3"/><use href="#p" x="272.4" y="393.6"/><use href="#p" x="848.8" y="444.5"/><use href="#p" x="258.4" y="428.4"/><use href="#o" x="912.8" y="423.6"/><use href="#o" x="154.9" y="577.1"/>
<use href="#p" x="769.3" y="681.9"/><use href="#o" x="139.2" y="497.9"/><use href="#o" x="934.2" y="664.1"/><use href="#p" x="959.3" y="532.8"/><use href="#p" x="317.9" y="133.4"/><use href="#p" x="837.4" y="689.8"/><use href="#p" x="786.9" y="675.8"/><use href="#p" x="266.8" y="379.1"/>
<use href="#p" x="202.7" y="340.1"/><use href="#o" x="721.5" y="628.9"/><use href="#o" x="202.6" y="697.3"/><use href="#o" x="192.3" y="581.0"/><use href="#p" x="283.2" y="180.0"/><use href="#o" x="173.8" y="553.0"/><use href="#o" x="841.9" y="738.6"/><use href="#p" x="797.6" y="501.6"/>
<use href="#o" x="204.4" y="683.3"/><use href="#p" x="866.6" y="724.1"/><use href="#o" x="211.1" y="691.8"/><use href="#p" x="886.8" y="705.5"/><use href="#p" x="879.2" y="746.7"/><use href="#o" x="216.4" y="607.7"/><use href="#o" x="784.9" y="672.5"/><use href="#p" x="154.7" y="576.6"/>
<use href="#o" x="276.2" y="537.9"/><use href="#p" x="299.0" y="551.9"/><use href="#o" x="954.7" y="472.3"/><use href="#p" x="706.8" y="199.3"/><use href="#o" x="822.2" y="750.2"/><use href="#p" x="210.7" y="284.9"/><use href="#p" x="218.8" y="678.1"/><use href="#p" x="773.2" y="556.1"/>
<use href="#p" x="802.8" y="468.2"/><use href="#p" x="797.9" y="421.9"/><use href="#p" x="830.5" y="669.3"/><use href="#o" x="929.6" y="457.2"/><use href="#o" x="927.6" y="509.4"/><use href="#o" x="254.9" y="676.6"/><use href="#p" x="308.4" y="65.2"/><use href="#p" x="835.2" y="647.6"/>
<use href="#o" x="920.1" y="569.6"/><use href="#o" x="975.7" y="586.2"/><use href="#o" x="937.4" y="419.6"/><use href="#o" x="255.4" y="366.7"/><use href="#p" x="259.0" y="449.5"/><use href="#o" x="251.8" y="580.1"/><use href="#p" x="248.8" y="323.7"/><use href="#p" x="209.7" y="576.8"/>
<use href="#o" x="822.9" y="783.6"/><use href="#p" x="705.1" y="91.6"/><use href="#o" x="769.5" y="808.7"/><use href="#p" x="693.2" y="156.1"/><use href="#p" x="688.7" y="202.6"/><use href="#o" x="739.4" y="668.9"/><use href="#o" x="214.4" y="690.3"/><use href="#o" x="248.6" y="614.6"/>
<use href="#o" x="813.8" y="423.5"/><use href="#p" x="812.1" y="592.9"/><use href="#p" x="780.4" y="602.9"/><use href="#p" x="280.5" y="192.0"/><use href="#o" x="898.7" y="711.3"/><use href="#p" x="940.1" y="629.0"/><use href="#p" x="933.4" y="460.9"/><use href="#o" x="773.3" y="797.6"/>
<use href="#o" x="938.9" y="404.0"/><use href="#p" x="898.8" y="583.1"/><use href="#p" x="828.6" y="798.0"/><use href="#o" x="940.0" y="597.5"/><use href="#o" x="817.2" y="757.0"/><use href="#p" x="843.7" y="583.5"/><use href="#o" x="792.7" y="815.0"/><use href="#p" x="265.7" y="462.1"/>
<use href="#p" x="257.1" y="413.5"/><use href="#p" x="182.0" y="360.5"/><use href="#o" x="211.8" y="542.6"/><use href="#p" x="197.3" y="565.1"/><use href="#o" x="763.7" y="669.5"/><use href="#p" x="804.3" y="685.1"/><use href="#o" x="137.5" y="556.7"/><use href="#p" x="291.8" y="169.7"/>
<use href="#o" x="839.4" y="718.1"/><use href="#o" x="230.0" y="544.4"/><use href="#o" x="900.6" y="357.4"/><use href="#o" x="799.8" y="732.4"/><use href="#o" x="151.7" y="641.7"/><use href="#o" x="974.4" y="491.8"/><use href="#o" x="765.0" y="827.1"/><use href="#p" x="337.0" y="140.3"/>
<use href="#p" x="276.4" y="106.2"/><use href="#p" x="170.8" y="377.2"/><use href="#o" x="203.6" y="675.5"/><use href="#o" x="914.7" y="471.5"/><use href="#p" x="257.5" y="683.3"/><use href="#p" x="169.7" y="392.4"/><use href="#p" x="807.2" y="517.2"/><use href="#o" x="268.4" y="586.4"/>
<use href="#p" x="743.3" y="646.0"/><use href="#o" x="977.0" y="511.6"/><use href="#p" x="254.6" y="87.3"/><use href="#o" x="244.4" y="683.1"/><use href="#o" x="921.8" y="407.0"/><use href="#o" x="911.4" y="407.0"/><use href="#o" x="203.6" y="626.0"/><use href="#p" x="919.1" y="501.4"/>
<use href="#o" x="135.9" y="563.5"/><use href="#o" x="248.2" y="698.2"/><use href="#p" x="206.8" y="396.2"/><use href="#o" x="254.6" y="560.7"/><use href="#o" x="152.5" y="613.3"/><use href="#o" x="871.8" y="673.9"/><use href="#o" x="881.3" y="673.6"/><use href="#o" x="151.1" y="632.6"/>
<use href="#o" x="722.3" y="660.9"/><use href="#o" x="754.1" y="761.4"/><use href="#o" x="241.8" y="547.7"/><use href="#p" x="917.0" y="562.2"/><use href="#o" x="776.4" y="488.9"/><use href="#p" x="832.3" y="651.4"/><use href="#o" x="195.3" y="632.5"/><use href="#o" x="145.0" y="557.5"/>
<use href="#p" x="178.3" y="642.6"/><use href="#p" x="926.6" y="395.0"/><use href="#p" x="788.6" y="445.4"/><use href="#o" x="248.0" y="543.1"/><use href="#o" x="851.6" y="447.3"/><use href="#p" x="201.9" y="334.8"/><use href="#o" x="223.9" y="680.4"/><use href="#p" x="698.5" y="98.3"/>
<use href="#p" x="782.6" y="664.4"/><use href="#o" x="953.4" y="583.9"/><use href="#o" x="789.8" y="687.5"/><use href="#p" x="713.5" y="110.9"/><use href="#p" x="221.3" y="328.4"/><use href="#o" x="791.2" y="828.8"/><use href="#p" x="236.3" y="76.2"/><use href="#p" x="334.6" y="143.7"/>
<use href="#p" x="865.3" y="765.1"/><use href="#o" x="194.0" y="550.4"/><use href="#p" x="238.9" y="315.0"/><use href="#p" x="234.8" y="367.4"/><use href="#p" x="681.4" y="93.0"/><use href="#o" x="761.9" y="652.9"/><use href="#p" x="271.2" y="91.3"/><use href="#o" x="227.0" y="611.6"/>
<use href="#p" x="294.3" y="161.9"/><use href="#p" x="207.3" y="306.2"/><use href="#p" x="247.6" y="80.8"/><use href="#o" x="747.0" y="802.0"/><use href="#o" x="882.3" y="706.2"/><use href="#p" x="238.0" y="421.7"/><use href="#o" x="222.2" y="696.6"/><use href="#p" x="689.7" y="110.8"/>
<use href="#o" x="933.4" y="654.7"/><use href="#p" x="241.2" y="381.8"/><use href="#p" x="189.2" y="649.4"/><use href="#o" x="870.2" y="463.5"/><use href="#p" x="752.5" y="591.8"/><use href="#o" x="914.4" y="639.8"/><use href="#p" x="295.6" y="496.0"/><use href="#o" x="269.2" y="593.2"/>
<use href="#p" x="885.9" y="609.7"/><use href="#p" x="244.6" y="115.8"/><use href="#o" x="154.6" y="612.4"/><use href="#p" x="680.2" y="120.2"/><use href="#o" x="922.0" y="703.4"/><use href="#p" x="297.1" y="524.5"/><use href="#o" x="175.4" y="500.6"/><use href="#o" x="738.1" y="771.8"/>
<use href="#o" x="796.1" y="669.2"/><use href="#p" x="887.8" y="482.3"/><use href="#o" x="262.7" y="575.6"/><use href="#p" x="279.9" y="652.4"/><use href="#p" x="212.3" y="363.0"/><use href="#p" x="278.6" y="117.7"/><use href="#p" x="240.9" y="437.4"/><use href="#o" x="937.8" y="674.2"/>
<use href="#o" x="276.9" y="531.7"/><use href="#o" x="215.3" y="624.6"/><use href="#p" x="802.8" y="709.0"/><use href="#p" x="202.0" y="303.2"/><use href="#o" x="196.4" y="561.1"/><use href="#p" x="194.3" y="365.2"/><use href="#p" x="243.8" y="377.4"/><use href="#p" x="207.2" y="278.0"/>
<use href="#p" x="129.5" y="488.5"/><use href="#p" x="790.0" y="500.9"/><use href="#p" x="867.6" y="487.2"/><use href="#p" x="202.8" y="716.4"/><use href="#p" x="254.0" y="695.0"/><use href="#p" x="192.1" y="424.3"/><use href="#p" x="213.2" y="287.5"/><use href="#p" x="871.0" y="468.0"/>
<use href="#p" x="658.3" y="102.6"/><use href="#o" x="143.3" y="575.0"/><use href="#p" x="929.8" y="404.1"/><use href="#p" x="276.1" y="132.0"/><use href="#p" x="895.1" y="521.0"/><use href="#o" x="745.1" y="671.1"/><use href="#p" x="195.8" y="532.0"/><use href="#p" x="186.4" y="693.2"/>
<use href="#p" x="936.5" y="620.8"/><use href="#p" x="808.2" y="650.4"/><use href="#o" x="798.9" y="754.8"/><use href="#p" x="215.5" y="268.8"/><use href="#o" x="917.4" y="704.6"/><use href="#o" x="791.8" y="449.6"/><use href="#o" x="270.5" y="648.8"/><use href="#o" x="960.4" y="447.4"/>
<use href="#p" x="709.2" y="664.0"/><use href="#o" x="199.6" y="564.5"/><use href="#p" x="662.9" y="190.5"/><use href="#o" x="279.3" y="593.6"/><use href="#o" x="914.4" y="731.2"/><use href="#o" x="163.3" y="527.1"/><use href="#o" x="954.2" y="673.0"/><use href="#o" x="203.8" y="564.2"/>
<use href="#p" x="264.7" y="476.4"/><use href="#o" x="957.3" y="653.5"/><use href="#o" x="766.5" y="740.4"/><use href="#p" x="799.6" y="425.8"/><use href="#o" x="734.0" y="709.1"/><use href="#p" x="284.3" y="92.8"/><use href="#p" x="307.5" y="149.4"/><use href="#p" x="230.0" y="694.9"/>
<use href="#o" x="895.3" y="703.9"/><use href="#p" x="801.6" y="671.8"/><use href="#o" x="165.7" y="580.9"/><use href="#p" x="789.0" y="745.7"/><use href="#o" x="771.0" y="724.2"/><use href="#p" x="295.5" y="146.7"/><use href="#o" x="829.7" y="775.4"/><use href="#o" x="259.0" y="609.0"/>
<use href="#p" x="292.4" y="121.0"/><use href="#p" x="810.5" y="633.3"/><use href="#p" x="241.2" y="519.4"/><use href="#p" x="797.7" y="558.6"/><use href="#o" x="746.7" y="775.3"/><use href="#p" x="858.4" y="513.1"/><use href="#o" x="275.5" y="468.6"/><use href="#o" x="256.4" y="560.6"/>
<use href="#p" x="978.8" y="553.7"/><use href="#p" x="804.8" y="441.5"/><use href="#o" x="892.2" y="667.7"/><use href="#p" x="212.1" y="344.1"/><use href="#p" x="812.8" y="627.5"/><use href="#p" x="274.9" y="68.0"/><use href="#o" x="232.2" y="516.6"/><use href="#p" x="822.2" y="605.9"/>
<use href="#o" x="228.5" y="615.4"/><use href="#o" x="197.6" y="577.9"/><use href="#p" x="783.9" y="730.7"/><use href="#p" x="213.5" y="293.6"/><use href="#p" x="919.9" y="376.5"/><use href="#o" x="272.4" y="659.6"/><use href="#o" x="259.3" y="512.3"/><use href="#p" x="274.4" y="401.0"/>
<use href="#o" x="794.8" y="690.1"/><use href="#o" x="781.3" y="461.0"/><use href="#p" x="765.9" y="665.1"/><use href="#o" x="727.7" y="754.1"/><use href="#p" x="270.6" y="134.2"/><use href="#p" x="784.4" y="689.3"/><use href="#o" x="751.1" y="622.0"/><use href="#o" x="823.5" y="779.5"/>
<use href="#p" x="235.0" y="593.2"/><use href="#o" x="877.9" y="699.9"/><use href="#p" x="318.7" y="138.9"/><use href="#o" x="942.9" y="380.2"/><use href="#p" x="836.7" y="718.2"/><use href="#o" x="964.7" y="562.9"/><use href="#p" x="761.6" y="737.5"/><use href="#p" x="718.1" y="717.4"/>
<use href="#p" x="767.5" y="610.8"/><use href="#o" x="946.0" y="636.6"/><use href="#p" x="715.2" y="194.5"/><use href="#p" x="808.9" y="677.6"/><use href="#p" x="662.4" y="95.8"/><use href="#p" x="308.0" y="164.1"/><use href="#p" x="249.1" y="152.7"/><use href="#p" x="141.9" y="590.1"/>
<use href="#o" x="190.7" y="593.9"/><use href="#p" x="878.5" y="546.5"/><use href="#o" x="201.4" y="523.9"/><use href="#p" x="730.4" y="680.1"/><use href="#p" x="264.1" y="620.8"/><use href="#p" x="794.3" y="465.1"/><use href="#p" x="857.8" y="567.4"/><use href="#o" x="205.4" y="553.0"/>
<use href="#o" x="900.9" y="486.9"/><use href="#o" x="898.3" y="627.7"/><use href="#o" x="747.9" y="766.0"/><use href="#p" x="675.6" y="163.3"/><use href="#p" x="226.6" y="383.5"/><use href="#p" x="743.9" y="618.7"/><use href="#o" x="197.2" y="404.7"/><use href="#p" x="897.4" y="547.6"/>
<use href="#o" x="145.3" y="512.8"/><use href="#o" x="228.6" y="666.8"/><use href="#o" x="772.8" y="786.1"/><use href="#p" x="809.0" y="673.6"/><use href="#p" x="251.4" y="142.2"/><use href="#p" x="238.4" y="438.0"/><use href="#o" x="238.8" y="587.0"/><use href="#o" x="182.3" y="560.4"/>
<use href="#p" x="840.1" y="778.3"/><use href="#o" x="886.0" y="618.3"/><use href="#o" x="217.9" y="726.8"/><use href="#p" x="150.6" y="572.6"/><use href="#p" x="204.6" y="497.6"/><use href="#o" x="881.3" y="496.2"/><use href="#o" x="758.4" y="720.0"/><use href="#o" x="186.3" y="621.2"/>
<use href="#p" x="255.8" y="131.6"/><use href="#p" x="216.4" y="671.7"/><use href="#p" x="846.0" y="526.5"/><use href="#p" x="823.1" y="604.9"/><use href="#p" x="271.0" y="145.5"/><use href="#o" x="818.1" y="747.6"/><use href="#p" x="893.7" y="563.5"/><use href="#p" x="182.0" y="640.9"/>
<use href="#o" x="247.6" y="655.7"/><use href="#p" x="904.7" y="498.9"/><use href="#p" x="774.1" y="821.2"/><use href="#o" x="140.6" y="571.6"/><use href="#o" x="931.0" y="747.5"/><use href="#o" x="214.2" y="513.9"/><use href="#o" x="737.1" y="699.0"/><use href="#o" x="215.1" y="542.0"/>
<use href="#o" x="835.4" y="675.2"/><use href="#o" x="776.9" y="790.3"/><use href="#p" x="917.9" y="529.4"/><use href="#p" x="842.2" y="510.7"/><use href="#o" x="257.5" y="667.2"/><use href="#p" x="796.2" y="570.5"/><use href="#o" x="928.3" y="515.9"/><use href="#p" x="691.1" y="122.5"/>
<use href="#o" x="897.5" y="403.1"/><use href="#o" x="778.7" y="592.9"/><use href="#p" x="283.4" y="602.3"/><use href="#p" x="251.9" y="408.6"/><use href="#o" x="178.5" y="583.1"/><use href="#o" x="864.2" y="510.4"/><use href="#o" x="733.6" y="706.2"/><use href="#o" x="741.3" y="733.1"/>
<use href="#o" x="897.0" y="757.4"/><use href="#o" x="197.4" y="616.6"/><use href="#p" x="911.8" y="523.8"/><use href="#o" x="881.1" y="584.7"/><use href="#p" x="306.9" y="62.9"/><use href="#p" x="646.7" y="122.5"/><use href="#p" x="762.2" y="806.7"/><use href="#p" x="274.5" y="191.9"/>
<use href="#o" x="268.0" y="506.7"/><use href="#p" x="692.5" y="168.6"/><use href="#o" x="195.1" y="587.8"/><use href="#o" x="966.9" y="458.3"/><use href="#p" x="903.4" y="394.4"/><use href="#p" x="241.6" y="372.4"/><use href="#p" x="255.4" y="349.5"/><use href="#o" x="276.8" y="586.4"/>
<use href="#p" x="855.9" y="674.6"/><use href="#o" x="773.1" y="739.0"/><use href="#p" x="819.9" y="663.7"/><use href="#o" x="937.7" y="669.4"/><use href="#o" x="933.1" y="495.6"/><use href="#p" x="883.5" y="566.7"/><use href="#p" x="326.1" y="130.2"/><use href="#o" x="741.8" y="679.8"/>
<use href="#p" x="941.5" y="680.9"/><use href="#p" x="237.1" y="370.2"/><use href="#p" x="234.5" y="331.3"/><use href="#o" x="913.5" y="517.3"/><use href="#p" x="244.4" y="696.1"/><use href="#p" x="899.5" y="585.4"/><use href="#o" x="836.3" y="492.5"/><use href="#p" x="270.5" y="443.7"/>
<use href="#p" x="240.2" y="427.4"/><use href="#p" x="187.5" y="653.0"/><use href="#o" x="752.4" y="688.5"/><use href="#p" x="828.1" y="722.8"/><use href="#p" x="333.5" y="155.0"/><use href="#p" x="287.3" y="169.7"/><use href="#p" x="778.5" y="539.1"/><use href="#o" x="771.0" y="583.7"/>
<use href="#o" x="158.9" y="655.3"/><use href="#o" x="226.1" y="645.4"/><use href="#o" x="806.7" y="711.6"/><use href="#o" x="770.5" y="758.8"/><use href="#p" x="858.1" y="425.6"/><use href="#p" x="684.8" y="80.0"/><use href="#o" x="223.0" y="586.7"/><use href="#o" x="976.2" y="535.8"/>
<use href="#o" x="226.7" y="374.9"/><use href="#o" x="254.5" y="570.6"/><use href="#p" x="804.9" y="539.9"/><use href="#p" x="738.9" y="615.2"/><use href="#o" x="137.3" y="472.0"/><use href="#o" x="782.7" y="798.0"/><use href="#p" x="795.6" y="534.0"/><use href="#o" x="211.5" y="699.9"/>
<use href="#p" x="290.5" y="147.7"/><use href="#p" x="281.6" y="519.4"/><use href="#p" x="693.7" y="100.0"/><use href="#o" x="790.1" y="807.0"/><use href="#p" x="211.9" y="317.4"/><use href="#p" x="279.1" y="653.9"/><use href="#o" x="241.9" y="592.9"/><use href="#o" x="945.3" y="479.2"/>
<use href="#o" x="806.6" y="438.9"/><use href="#o" x="939.2" y="689.3"/><use href="#p" x="768.3" y="784.5"/><use href="#o" x="184.3" y="703.7"/><use href="#p" x="848.8" y="447.4"/><use href="#p" x="824.0" y="569.3"/><use href="#o" x="921.6" y="606.4"/><use href="#o" x="838.4" y="483.8"/>
<use href="#p" x="796.9" y="463.7"/><use href="#o" x="761.5" y="730.4"/><use href="#o" x="897.2" y="372.1"/><use href="#p" x="216.5" y="531.0"/><use href="#o" x="922.5" y="722.8"/><use href="#o" x="960.8" y="617.1"/><use href="#p" x="830.6" y="725.3"/><use href="#p" x="232.7" y="343.3"/>
<use href="#o" x="211.5" y="666.7"/><use href="#p" x="274.2" y="156.1"/><use href="#p" x="156.4" y="418.8"/><use href="#p" x="195.2" y="675.3"/><use href="#p" x="915.7" y="488.5"/><use href="#o" x="788.8" y="770.2"/><use href="#o" x="243.9" y="689.0"/><use href="#o" x="978.5" y="505.3"/>
<use href="#o" x="888.1" y="617.8"/><use href="#o" x="813.1" y="492.7"/><use href="#p" x="798.3" y="538.7"/><use href="#p" x="783.9" y="472.2"/><use href="#p" x="264.5" y="182.8"/><use href="#p" x="276.3" y="86.3"/><use href="#o" x="764.3" y="749.7"/><use href="#o" x="940.3" y="726.2"/>
<use href="#o" x="911.3" y="431.2"/><use href="#o" x="269.4" y="664.7"/><use href="#p" x="861.5" y="557.8"/><use href="#p" x="681.0" y="176.0"/><use href="#p" x="213.6" y="358.1"/><use href="#o" x="920.3" y="431.9"/><use href="#p" x="654.0" y="166.4"/><use href="#p" x="302.6" y="113.1"/>
<use href="#o" x="230.3" y="296.8"/><use href="#p" x="226.2" y="500.1"/><use href="#p" x="741.4" y="718.4"/><use href="#o" x="791.2" y="763.8"/><use href="#o" x="742.3" y="800.8"/><use href="#p" x="222.2" y="695.7"/><use href="#p" x="648.5" y="136.2"/><use href="#p" x="778.1" y="524.7"/>
<use href="#o" x="950.5" y="453.9"/><use href="#p" x="281.9" y="82.1"/><use href="#o" x="837.8" y="439.1"/><use href="#p" x="251.4" y="151.2"/><use href="#p" x="163.6" y="611.8"/><use href="#o" x="847.5" y="787.9"/><use href="#o" x="785.7" y="657.4"/><use href="#p" x="866.5" y="499.9"/>
<use href="#o" x="183.8" y="675.5"/><use href="#p" x="323.5" y="126.6"/><use href="#p" x="229.0" y="708.2"/><use href="#o" x="193.2" y="470.6"/><use href="#o" x="177.1" y="674.6"/><use href="#o" x="167.2" y="598.9"/><use href="#o" x="208.7" y="591.4"/><use href="#p" x="200.1" y="522.1"/>
<use href="#p" x="780.0" y="525.4"/><use href="#o" x="890.4" y="507.4"/><use href="#o" x="974.6" y="602.9"/><use href="#p" x="285.0" y="519.6"/><use href="#p" x="881.7" y="540.8"/><use href="#p" x="241.3" y="114.3"/><use href="#o" x="173.4" y="594.2"/><use href="#o" x="190.6" y="525.3"/>
<use href="#p" x="779.0" y="530.0"/><use href="#p" x="213.7" y="267.6"/><use href="#p" x="264.7" y="684.7"/><use href="#p" x="206.0" y="285.2"/><use href="#o" x="164.1" y="519.1"/><use href="#o" x="247.1" y="600.6"/><use href="#p" x="188.7" y="563.5"/><use href="#o" x="977.2" y="493.8"/>
<use href="#p" x="253.4" y="109.3"/><use href="#o" x="774.4" y="809.1"/><use href="#o" x="198.5" y="649.5"/><use href="#p" x="842.7" y="778.9"/><use href="#p" x="852.1" y="579.9"/><use href="#o" x="841.4" y="481.9"/><use href="#o" x="216.7" y="617.4"/><use href="#p" x="202.6" y="700.7"/>
<use href="#p" x="230.1" y="713.4"/><use href="#o" x="197.6" y="623.2"/><use href="#o" x="179.7" y="620.4"/><use href="#p" x="887.2" y="373.2"/><use href="#p" x="820.6" y="408.8"/><use href="#o" x="734.1" y="779.4"/><use href="#p" x="194.6" y="552.0"/><use href="#p" x="809.9" y="456.9"/>
<use href="#p" x="219.6" y="289.3"/><use href="#p" x="876.0" y="548.8"/><use href="#o" x="942.2" y="642.9"/><use href="#o" x="908.6" y="656.3"/><use href="#p" x="202.4" y="295.0"/><use href="#o" x="182.5" y="560.7"/><use href="#p" x="203.4" y="360.6"/><use href="#o" x="954.2" y="416.8"/>
<use href="#o" x="926.7" y="673.2"/><use href="#o" x="225.7" y="616.2"/><use href="#p" x="792.2" y="544.5"/><use href="#o" x="918.6" y="678.9"/><use href="#o" x="177.4" y="588.8"/><use href="#o" x="939.0" y="464.6"/><use href="#p" x="204.7" y="357.8"/><use href="#o" x="770.9" y="821.2"/>
<use href="#o" x="928.8" y="585.9"/><use href="#p" x="138.0" y="469.4"/><use href="#p" x="658.4" y="206.8"/><use href="#p" x="266.4" y="670.9"/><use href="#p" x="241.5" y="446.4"/><use href="#p" x="816.4" y="613.7"/><use href="#p" x="705.8" y="205.6"/><use href="#o" x="229.5" y="560.4"/>
<use href="#o" x="145.9" y="577.1"/><use href="#p" x="858.6" y="711.3"/><use href="#p" x="216.9" y="304.8"/><use href="#o" x="942.6" y="682.6"/><use href="#o" x="966.0" y="580.6"/><use href="#o" x="215.0" y="617.5"/><use href="#o" x="193.2" y="597.1"/><use href="#p" x="674.6" y="156.8"/>
<use href="#o" x="968.6" y="575.5"/><use href="#p" x="830.9" y="584.4"/><use href="#p" x="698.1" y="129.1"/><use href="#p" x="262.4" y="120.5"/><use href="#p" x="212.3" y="472.9"/><use href="#o" x="894.2" y="532.9"/><use href="#o" x="931.1" y="717.9"/><use href="#o" x="209.0" y="449.1"/>
<use href="#p" x="838.8" y="445.9"/><use href="#p" x="230.0" y="375.6"/><use href="#o" x="807.5" y="805.6"/><use href="#o" x="965.8" y="500.3"/><use href="#p" x="884.6" y="560.1"/><use href="#o" x="937.7" y="661.6"/><use href="#o" x="266.5" y="628.0"/><use href="#p" x="687.0" y="102.7"/>
<use href="#o" x="728.6" y="731.4"/><use href="#p" x="154.3" y="664.9"/><use href="#o" x="193.1" y="416.8"/><use href="#p" x="959.9" y="624.8"/><use href="#o" x="953.3" y="568.1"/><use href="#o" x="869.9" y="641.8"/><use href="#p" x="940.0" y="470.8"/><use href="#p" x="250.4" y="627.7"/>
<use href="#p" x="227.3" y="368.6"/><use href="#o" x="226.9" y="484.6"/><use href="#p" x="870.2" y="517.2"/><use href="#p" x="161.9" y="439.5"/><use href="#p" x="266.5" y="75.8"/><use href="#p" x="665.7" y="217.0"/><use href="#p" x="208.7" y="338.3"/><use href="#p" x="206.3" y="290.8"/>
<use href="#o" x="231.6" y="520.2"/><use href="#o" x="754.3" y="650.1"/><use href="#o" x="920.1" y="532.0"/><use href="#o" x="732.5" y="778.5"/><use href="#o" x="756.2" y="761.3"/><use href="#o" x="166.5" y="378.9"/><use href="#p" x="212.2" y="308.7"/><use href="#p" x="236.7" y="319.5"/>
<use href="#o" x="833.3" y="485.1"/><use href="#p" x="975.6" y="587.8"/><use href="#p" x="828.3" y="641.7"/><use href="#p" x="281.1" y="560.3"/><use href="#p" x="708.2" y="91.6"/><use href="#p" x="219.8" y="403.1"/><use href="#p" x="867.1" y="430.3"/><use href="#p" x="898.5" y="652.4"/>
<use href="#o" x="785.2" y="816.1"/><use href="#o" x="913.7" y="714.1"/><use href="#p" x="891.1" y="404.3"/><use href="#o" x="195.0" y="587.9"/><use href="#o" x="220.7" y="337.4"/><use href="#p" x="857.3" y="433.0"/><use href="#o" x="255.4" y="639.7"/><use href="#o" x="276.9" y="415.0"/>
<use href="#p" x="277.0" y="190.0"/><use href="#o" x="899.8" y="704.5"/><use href="#p" x="773.2" y="723.0"/><use href="#o" x="186.3" y="423.9"/><use href="#o" x="782.7" y="751.4"/><use href="#o" x="183.7" y="368.0"/><use href="#p" x="787.1" y="586.9"/><use href="#p" x="177.1" y="502.1"/>
<use href="#p" x="922.8" y="669.4"/><use href="#o" x="977.4" y="559.4"/><use href="#o" x="220.6" y="562.2"/><use href="#o" x="889.8" y="659.4"/><use href="#o" x="818.8" y="716.7"/><use href="#p" x="205.5" y="411.2"/><use href="#p" x="166.2" y="434.4"/><use href="#p" x="758.5" y="648.3"/>
<use href="#o" x="923.2" y="571.3"/><use href="#o" x="227.6" y="660.0"/><use href="#p" x="213.7" y="429.8"/><use href="#p" x="287.6" y="155.5"/><use href="#p" x="256.7" y="157.0"/><use href="#o" x="777.7" y="528.1"/><use href="#o" x="759.5" y="690.0"/><use href="#o" x="179.7" y="713.2"/>
<use href="#p" x="198.5" y="298.7"/><use href="#p" x="800.9" y="747.7"/><use href="#o" x="723.3" y="634.4"/><use href="#p" x="276.9" y="182.2"/><use href="#p" x="768.9" y="500.5"/><use href="#p" x="280.5" y="114.1"/><use href="#o" x="734.5" y="719.3"/><use href="#o" x="235.4" y="460.5"/>
<use href="#o" x="901.0" y="613.4"/><use href="#p" x="307.1" y="543.4"/><use href="#o" x="167.5" y="688.7"/><use href="#o" x="920.2" y="741.0"/><use href="#o" x="947.9" y="710.7"/><use href="#o" x="193.5" y="614.6"/><use href="#o" x="834.8" y="757.3"/><use href="#o" x="214.8" y="693.3"/>
<use href="#o" x="730.6" y="695.2"/><use href="#p" x="755.5" y="809.8"/><use href="#o" x="150.2" y="522.0"/><use href="#o" x="822.6" y="485.5"/><use href="#p" x="227.4" y="336.7"/><use href="#p" x="746.8" y="788.3"/><use href="#p" x="208.5" y="713.2"/><use href="#o" x="150.8" y="481.2"/>
<use href="#o" x="921.4" y="434.6"/><use href="#o" x="218.8" y="538.9"/><use href="#p" x="671.8" y="96.3"/><use href="#p" x="678.4" y="148.3"/><use href="#o" x="225.3" y="710.5"/><use href="#o" x="259.5" y="590.4"/><use href="#p" x="885.7" y="634.1"/><use href="#p" x="257.1" y="104.8"/>
<use href="#p" x="207.8" y="290.8"/><use href="#p" x="194.5" y="671.3"/><use href="#p" x="693.5" y="215.1"/><use href="#o" x="264.7" y="541.5"/><use href="#p" x="825.0" y="718.7"/><use href="#p" x="243.2" y="526.9"/><use href="#p" x="264.0" y="380.5"/><use href="#o" x="222.9" y="640.6"/>
<use href="#p" x="790.7" y="594.1"/><use href="#p" x="668.8" y="147.3"/><use href="#p" x="269.0" y="175.6"/><use href="#o" x="761.7" y="515.9"/><use href="#o" x="197.6" y="555.2"/><use href="#o" x="848.2" y="671.1"/><use href="#o" x="959.4" y="519.8"/><use href="#p" x="897.4" y="451.2"/>
<use href="#o" x="169.9" y="608.9"/><use href="#o" x="157.1" y="605.5"/><use href="#p" x="776.6" y="693.4"/><use href="#p" x="696.4" y="112.7"/><use href="#p" x="273.0" y="140.6"/><use href="#p" x="203.4" y="320.2"/><use href="#p" x="187.6" y="342.8"/><use href="#p" x="710.0" y="174.0"/>
<use href="#p" x="232.1" y="349.9"/><use href="#p" x="293.3" y="571.8"/><use href="#o" x="789.6" y="679.6"/><use href="#p" x="838.8" y="397.3"/><use href="#p" x="868.2" y="711.9"/><use href="#o" x="955.9" y="540.1"/><use href="#o" x="933.9" y="569.0"/><use href="#o" x="763.6" y="802.8"/>
<use href="#o" x="933.1" y="737.3"/><use href="#p" x="792.9" y="446.7"/><use href="#p" x="265.4" y="170.2"/><use href="#p" x="686.3" y="189.2"/><use href="#p" x="720.6" y="706.7"/><use href="#p" x="267.1" y="158.6"/><use href="#o" x="249.9" y="515.7"/><use href="#o" x="746.6" y="688.1"/>
<use href="#o" x="202.5" y="595.8"/><use href="#p" x="240.1" y="342.7"/><use href="#p" x="856.5" y="578.9"/><use href="#p" x="150.1" y="514.7"/><use href="#o" x="926.1" y="399.5"/><use href="#p" x="243.8" y="421.0"/><use href="#p" x="202.3" y="343.7"/><use href="#p" x="784.5" y="634.7"/>
<use href="#p" x="713.1" y="114.1"/><use href="#o" x="765.8" y="835.1"/><use href="#p" x="744.6" y="822.1"/><use href="#o" x="719.3" y="699.5"/><use href="#p" x="863.8" y="582.5"/><use href="#o" x="784.2" y="719.5"/><use href="#o" x="717.8" y="668.3"/><use href="#p" x="205.1" y="282.2"/>
<use href="#o" x="898.4" y="386.2"/><use href="#p" x="177.2" y="350.5"/><use href="#p" x="226.0" y="322.3"/><use href="#p" x="954.2" y="676.0"/><use href="#o" x="826.0" y="740.2"/><use href="#o" x="879.5" y="690.1"/><use href="#p" x="689.7" y="162.3"/><use href="#o" x="212.9" y="648.2"/>
<use href="#o" x="940.9" y="513.2"/><use href="#p" x="207.1" y="348.5"/><use href="#o" x="213.6" y="521.8"/><use href="#p" x="310.3" y="151.7"/><use href="#p" x="231.3" y="280.3"/><use href="#p" x="234.4" y="411.7"/><use href="#p" x="853.9" y="721.8"/><use href="#o" x="949.6" y="433.8"/>
<use href="#o" x="191.1" y="613.0"/><use href="#p" x="321.5" y="152.3"/><use href="#o" x="144.5" y="528.9"/><use href="#p" x="776.6" y="534.8"/><use href="#p" x="879.7" y="481.4"/><use href="#o" x="261.5" y="644.5"/><use href="#p" x="672.6" y="143.4"/><use href="#o" x="951.0" y="564.3"/>
<use href="#o" x="759.2" y="636.9"/><use href="#p" x="813.2" y="633.8"/><use href="#o" x="837.2" y="728.5"/><use href="#o" x="198.6" y="474.4"/><use href="#p" x="764.2" y="492.5"/><use href="#p" x="828.8" y="742.0"/><use href="#o" x="805.0" y="801.0"/><use href="#o" x="896.3" y="381.4"/>
<use href="#o" x="144.5" y="483.2"/><use href="#p" x="799.8" y="720.3"/><use href="#p" x="190.9" y="656.7"/><use href="#p" x="852.1" y="394.0"/><use href="#p" x="681.4" y="138.4"/><use href="#p" x="710.0" y="92.4"/><use href="#p" x="182.1" y="339.2"/><use href="#p" x="702.9" y="145.1"/>
<use href="#o" x="228.9" y="490.6"/><use href="#o" x="245.9" y="653.4"/><use href="#o" x="177.4" y="683.4"/><use href="#p" x="826.1" y="464.9"/><use href="#o" x="907.0" y="536.3"/><use href="#o" x="210.2" y="608.1"/><use href="#o" x="889.1" y="716.4"/><use href="#p" x="282.0" y="91.7"/>
<use href="#o" x="958.5" y="483.5"/><use href="#o" x="175.6" y="452.7"/><use href="#o" x="240.6" y="646.8"/><use href="#p" x="798.2" y="671.0"/><use href="#o" x="746.3" y="755.7"/><use href="#o" x="871.4" y="682.9"/><use href="#o" x="191.0" y="642.9"/><use href="#p" x="831.4" y="693.3"/>
<use href="#o" x="275.5" y="598.1"/><use href="#o" x="958.0" y="465.6"/><use href="#o" x="167.1" y="643.2"/><use href="#o" x="161.6" y="485.3"/><use href="#p" x="238.7" y="308.4"/><use href="#p" x="825.8" y="699.8"/><use href="#p" x="784.9" y="490.1"/><use href="#o" x="224.5" y="408.4"/>
<use href="#p" x="265.4" y="479.7"/><use href="#p" x="157.4" y="603.8"/><use href="#p" x="289.1" y="161.6"/><use href="#o" x="790.3" y="762.9"/><use href="#p" x="175.4" y="364.6"/><use href="#o" x="188.2" y="544.5"/><use href="#p" x="889.4" y="602.3"/><use href="#p" x="716.2" y="194.6"/>
<use href="#o" x="210.8" y="730.7"/><use href="#o" x="759.8" y="828.5"/><use href="#o" x="189.8" y="621.0"/><use href="#p" x="276.1" y="501.7"/><use href="#p" x="824.2" y="762.3"/><use href="#p" x="231.6" y="435.7"/><use href="#p" x="140.8" y="577.5"/><use href="#o" x="942.2" y="662.1"/>
<use href="#o" x="978.9" y="569.6"/><use href="#p" x="777.3" y="706.7"/><use href="#p" x="916.0" y="627.7"/><use href="#o" x="207.2" y="514.7"/><use href="#p" x="710.8" y="164.3"/><use href="#o" x="731.0" y="717.8"/><use href="#o" x="880.0" y="591.0"/><use href="#p" x="743.6" y="645.8"/>
<use href="#o" x="775.8" y="825.5"/><use href="#o" x="851.1" y="494.5"/><use href="#p" x="821.3" y="568.0"/><use href="#o" x="221.8" y="707.6"/><use href="#o" x="951.8" y="582.6"/><use href="#o" x="918.6" y="692.6"/><use href="#p" x="765.9" y="505.4"/><use href="#o" x="892.1" y="632.0"/>
<use href="#p" x="236.1" y="485.3"/><use href="#p" x="680.9" y="99.3"/><use href="#o" x="784.8" y="834.7"/><use href="#p" x="811.0" y="622.0"/><use href="#o" x="166.5" y="385.8"/><use href="#p" x="710.0" y="195.8"/><use href="#o" x="250.9" y="694.1"/><use href="#p" x="934.8" y="724.1"/>
<use href="#p" x="896.4" y="592.3"/><use href="#p" x="262.1" y="141.4"/><use href="#p" x="207.8" y="436.3"/><use href="#o" x="914.4" y="632.1"/><use href="#p" x="272.5" y="553.8"/><use href="#p" x="278.4" y="148.6"/><use href="#p" x="202.8" y="305.9"/><use href="#p" x="896.2" y="744.3"/>
<use href="#p" x="671.2" y="169.4"/><use href="#p" x="899.9" y="549.1"/><use href="#o" x="187.2" y="549.1"/><use href="#o" x="150.0" y="620.0"/><use href="#p" x="322.1" y="105.4"/><use href="#o" x="971.9" y="621.1"/><use href="#p" x="805.5" y="821.0"/><use href="#p" x="662.0" y="115.4"/>
<use href="#o" x="910.9" y="723.4"/><use href="#o" x="884.9" y="746.0"/><use href="#p" x="203.8" y="452.5"/><use href="#p" x="298.2" y="136.5"/><use href="#o" x="225.5" y="564.8"/><use href="#p" x="768.9" y="502.4"/><use href="#p" x="962.9" y="604.8"/><use href="#p" x="253.9" y="358.0"/>
<use href="#o" x="917.8" y="648.8"/><use href="#p" x="726.1" y="745.2"/><use href="#p" x="869.4" y="553.6"/><use href="#o" x="925.7" y="744.6"/><use href="#o" x="911.8" y="691.9"/><use href="#o" x="747.0" y="818.1"/><use href="#o" x="977.8" y="557.8"/><use href="#o" x="916.4" y="604.1"/>
<use href="#o" x="142.3" y="579.1"/><use href="#p" x="819.7" y="412.8"/><use href="#o" x="737.5" y="727.9"/><use href="#p" x="692.9" y="94.5"/><use href="#o" x="152.3" y="521.7"/><use href="#o" x="874.2" y="645.3"/><use href="#o" x="911.7" y="672.5"/><use href="#o" x="844.0" y="431.8"/>
<use href="#o" x="844.4" y="512.3"/><use href="#p" x="206.8" y="356.0"/><use href="#o" x="156.7" y="577.3"/><use href="#o" x="953.6" y="677.2"/><use href="#p" x="809.7" y="592.0"/><use href="#p" x="968.7" y="530.0"/><use href="#p" x="184.0" y="651.6"/><use href="#o" x="975.4" y="586.3"/>
<use href="#o" x="941.0" y="689.9"/><use href="#p" x="798.9" y="480.6"/><use href="#o" x="232.2" y="678.3"/><use href="#p" x="740.1" y="814.9"/><use href="#p" x="668.6" y="93.3"/><use href="#p" x="212.9" y="283.4"/><use href="#p" x="697.8" y="171.8"/><use href="#o" x="880.7" y="635.0"/>
<use href="#o" x="910.5" y="640.9"/><use href="#o" x="872.5" y="580.7"/><use href="#o" x="161.1" y="665.4"/><use href="#o" x="905.9" y="560.1"/><use href="#o" x="911.5" y="424.2"/><use href="#o" x="969.7" y="596.8"/><use href="#o" x="208.5" y="593.7"/><use href="#p" x="784.8" y="695.9"/>
<use href="#p" x="160.2" y="432.3"/><use href="#p" x="888.1" y="504.4"/><use href="#o" x="765.6" y="720.0"/><use href="#p" x="235.1" y="698.4"/><use href="#p" x="959.0" y="478.2"/><use href="#p" x="784.1" y="665.6"/><use href="#o" x="213.6" y="654.0"/><use href="#p" x="888.3" y="500.4"/>
<use href="#p" x="302.9" y="158.9"/><use href="#p" x="807.2" y="563.5"/><use href="#o" x="236.2" y="494.0"/><use href="#o" x="216.7" y="704.9"/><use href="#p" x="314.1" y="158.2"/><use href="#o" x="724.1" y="723.5"/><use href="#o" x="915.4" y="741.3"/><use href="#o" x="220.6" y="607.2"/>
<use href="#p" x="851.1" y="417.5"/><use href="#p" x="143.1" y="487.2"/><use href="#p" x="820.7" y="425.9"/><use href="#p" x="789.2" y="760.3"/><use href="#p" x="267.9" y="96.3"/><use href="#p" x="310.5" y="132.3"/><use href="#p" x="866.4" y="514.9"/><use href="#o" x="788.4" y="745.4"/>
<use href="#o" x="946.1" y="563.8"/><use href="#o" x="930.7" y="661.2"/><use href="#o" x="905.6" y="591.5"/><use href="#p" x="816.0" y="543.7"/><use href="#o" x="979.1" y="489.1"/><use href="#o" x="172.0" y="567.5"/><use href="#o" x="895.9" y="720.6"/><use href="#o" x="739.9" y="772.4"/>
<use href="#o" x="164.8" y="685.4"/><use href="#p" x="232.8" y="421.5"/><use href="#o" x="254.8" y="561.6"/><use href="#o" x="181.1" y="370.5"/><use href="#p" x="207.7" y="269.4"/><use href="#o" x="969.1" y="514.0"/><use href="#p" x="302.1" y="546.9"/><use href="#p" x="773.2" y="538.2"/>
<use href="#o" x="162.5" y="664.0"/><use href="#p" x="891.4" y="728.3"/><use href="#p" x="911.0" y="362.1"/><use href="#o" x="184.5" y="546.4"/><use href="#o" x="195.9" y="502.6"/><use href="#o" x="915.9" y="460.3"/><use href="#p" x="252.5" y="341.9"/><use href="#p" x="823.3" y="657.1"/>
<use href="#o" x="854.9" y="776.4"/><use href="#o" x="213.2" y="324.6"/><use href="#o" x="903.5" y="464.4"/><use href="#o" x="814.0" y="739.2"/><use href="#p" x="845.9" y="570.4"/><use href="#o" x="875.4" y="692.2"/><use href="#o" x="925.9" y="641.0"/><use href="#p" x="281.6" y="436.6"/>
<use href="#o" x="778.9" y="672.1"/><use href="#o" x="133.9" y="522.8"/><use href="#p" x="250.3" y="319.2"/><use href="#p" x="283.7" y="177.4"/><use href="#p" x="821.8" y="713.0"/><use href="#o" x="719.5" y="721.7"/><use href="#o" x="759.5" y="787.6"/><use href="#p" x="898.5" y="504.7"/>
<use href="#p" x="325.7" y="149.2"/><use href="#p" x="673.5" y="126.6"/><use href="#o" x="775.4" y="814.6"/><use href="#o" x="162.8" y="589.0"/><use href="#p" x="221.6" y="310.2"/><use href="#p" x="796.8" y="463.3"/><use href="#o" x="782.7" y="734.6"/><use href="#p" x="789.9" y="516.6"/>
<use href="#p" x="261.0" y="126.2"/><use href="#o" x="156.2" y="429.1"/><use href="#o" x="797.9" y="449.6"/><use href="#o" x="798.7" y="631.5"/><use href="#o" x="192.8" y="723.0"/><use href="#o" x="878.2" y="725.8"/><use href="#p" x="244.0" y="354.0"/><use href="#p" x="814.0" y="447.8"/>
<use href="#o" x="923.9" y="734.2"/><use href="#o" x="948.7" y="518.2"/><use href="#p" x="913.8" y="720.6"/><use href="#p" x="203.8" y="493.1"/><use href="#p" x="260.9" y="393.9"/><use href="#o" x="926.7" y="398.4"/><use href="#o" x="785.4" y="736.9"/><use href="#p" x="195.3" y="559.3"/>
<use href="#o" x="172.4" y="589.6"/><use href="#p" x="661.5" y="243.5"/><use href="#o" x="908.1" y="715.3"/><use href="#o" x="923.8" y="597.2"/><use href="#o" x="802.5" y="814.3"/><use href="#o" x="211.5" y="390.2"/><use href="#p" x="862.2" y="567.3"/><use href="#p" x="222.9" y="482.2"/>
<use href="#p" x="147.1" y="494.1"/><use href="#p" x="866.5" y="532.7"/><use href="#o" x="187.8" y="577.2"/><use href="#o" x="232.6" y="679.1"/><use href="#p" x="269.5" y="418.1"/><use href="#p" x="840.7" y="590.0"/><use href="#p" x="179.2" y="619.7"/><use href="#p" x="251.8" y="118.1"/>
<use href="#o" x="933.7" y="616.3"/><use href="#o" x="951.8" y="634.8"/><use href="#o" x="191.1" y="557.2"/><use href="#o" x="963.0" y="613.3"/><use href="#o" x="945.2" y="612.3"/><use href="#p" x="247.9" y="360.6"/><use href="#o" x="280.7" y="448.2"/><use href="#p" x="147.9" y="507.4"/>
<use href="#p" x="213.7" y="288.3"/><use href="#o" x="733.5" y="760.4"/><use href="#o" x="964.3" y="612.5"/><use href="#p" x="763.1" y="737.5"/><use href="#p" x="277.9" y="96.4"/><use href="#p" x="888.9" y="755.3"/><use href="#p" x="767.9" y="775.0"/><use href="#o" x="192.5" y="660.9"/>
<use href="#p" x="856.9" y="597.2"/><use href="#p" x="291.3" y="581.7"/><use href="#o" x="253.6" y="617.2"/><use href="#p" x="248.4" y="474.8"/><use href="#p" x="927.4" y="626.4"/><use href="#o" x="157.4" y="503.7"/><use href="#o" x="266.0" y="564.6"/><use href="#o" x="728.5" y="625.6"/>
<use href="#o" x="792.1" y="682.1"/><use href="#o" x="757.4" y="652.9"/><use href="#p" x="252.0" y="99.4"/><use href="#o" x="919.3" y="597.9"/><use href="#p" x="795.4" y="699.9"/><use href="#o" x="909.2" y="581.5"/><use href="#o" x="849.3" y="743.8"/><use href="#p" x="712.9" y="650.6"/>
<use href="#p" x="804.3" y="544.4"/><use href="#p" x="291.0" y="592.0"/><use href="#p" x="196.7" y="358.7"/><use href="#o" x="754.1" y="697.8"/><use href="#o" x="784.8" y="440.8"/><use href="#p" x="228.6" y="486.2"/><use href="#o" x="949.5" y="455.1"/><use href="#p" x="762.8" y="725.1"/>
<use href="#o" x="269.8" y="610.2"/><use href="#p" x="269.8" y="109.4"/><use href="#o" x="241.2" y="564.5"/><use href="#o" x="131.6" y="542.6"/><use href="#p" x="221.9" y="432.7"/><use href="#p" x="885.3" y="592.3"/><use href="#p" x="670.3" y="213.2"/><use href="#p" x="852.5" y="556.0"/>
<use href="#p" x="657.1" y="136.7"/><use href="#p" x="756.4" y="610.5"/><use href="#p" x="663.6" y="160.0"/><use href="#p" x="876.7" y="429.5"/><use href="#o" x="861.8" y="579.4"/><use href="#p" x="647.6" y="127.0"/><use href="#o" x="177.2" y="388.6"/><use href="#p" x="277.8" y="145.2"/>
<use href="#o" x="245.4" y="611.2"/><use href="#o" x="740.2" y="707.2"/><use href="#p" x="232.4" y="500.6"/><use href="#o" x="274.3" y="570.6"/><use href="#o" x="822.4" y="644.2"/><use href="#o" x="919.5" y="711.5"/><use href="#p" x="203.8" y="642.7"/><use href="#o" x="189.0" y="706.3"/>
<use href="#p" x="265.9" y="626.0"/><use href="#p" x="294.4" y="165.5"/><use href="#p" x="824.6" y="718.6"/><use href="#o" x="921.4" y="617.4"/><use href="#p" x="742.0" y="638.5"/><use href="#o" x="178.4" y="677.4"/><use href="#o" x="889.8" y="445.9"/><use href="#p" x="276.8" y="489.0"/>
<use href="#o" x="222.7" y="653.6"/><use href="#p" x="271.0" y="495.8"/><use href="#o" x="235.0" y="667.1"/><use href="#p" x="196.0" y="648.1"/><use href="#p" x="855.2" y="426.7"/><use href="#p" x="841.4" y="469.1"/><use href="#o" x="226.9" y="483.6"/><use href="#o" x="224.9" y="623.6"/>
<use href="#p" x="217.5" y="283.9"/><use href="#o" x="156.2" y="637.5"/><use href="#p" x="847.6" y="469.6"/><use href="#o" x="940.5" y="632.6"/><use href="#p" x="808.5" y="464.4"/><use href="#p" x="707.7" y="194.5"/><use href="#o" x="256.0" y="609.0"/><use href="#o" x="792.7" y="693.1"/>
<use href="#p" x="322.0" y="151.3"/><use href="#p" x="757.4" y="817.9"/><use href="#p" x="248.1" y="83.3"/><use href="#o" x="765.4" y="829.6"/><use href="#o" x="749.5" y="762.7"/><use href="#o" x="886.2" y="515.3"/><use href="#o" x="803.3" y="632.4"/><use href="#p" x="197.2" y="450.9"/>
<use href="#p" x="664.3" y="205.1"/><use href="#o" x="830.0" y="727.8"/><use href="#o" x="748.0" y="707.3"/><use href="#p" x="231.8" y="584.2"/><use href="#p" x="702.8" y="136.5"/><use href="#p" x="803.8" y="416.8"/><use href="#p" x="653.9" y="161.2"/><use href="#p" x="904.7" y="615.5"/>
<use href="#o" x="230.1" y="635.1"/><use href="#p" x="286.5" y="73.4"/><use href="#p" x="228.9" y="363.6"/><use href="#o" x="831.2" y="792.6"/><use href="#p" x="232.2" y="396.7"/><use href="#o" x="826.8" y="708.6"/><use href="#o" x="907.7" y="754.0"/><use href="#p" x="236.0" y="431.6"/>
<use href="#p" x="172.4" y="506.0"/><use href="#p" x="209.1" y="298.5"/><use href="#p" x="783.3" y="508.1"/><use href="#o" x="951.4" y="622.3"/><use href="#p" x="204.6" y="289.6"/><use href="#p" x="884.1" y="510.1"/><use href="#p" x="254.3" y="130.9"/><use href="#p" x="285.8" y="464.9"/>
<use href="#o" x="769.0" y="812.9"/><use href="#p" x="800.2" y="490.3"/><use href="#p" x="238.2" y="426.0"/><use href="#o" x="731.4" y="773.2"/><use href="#p" x="857.9" y="719.9"/><use href="#o" x="966.0" y="464.9"/><use href="#p" x="252.0" y="120.9"/><use href="#o" x="890.1" y="419.5"/>
<use href="#o" x="206.0" y="691.8"/><use href="#o" x="890.0" y="531.5"/><use href="#o" x="854.1" y="431.6"/><use href="#p" x="193.6" y="544.1"/><use href="#p" x="833.7" y="741.5"/><use href="#o" x="236.4" y="453.7"/><use href="#p" x="312.8" y="100.1"/><use href="#p" x="232.3" y="364.3"/>
<use href="#p" x="685.8" y="186.6"/><use href="#o" x="198.2" y="699.1"/><use href="#o" x="247.3" y="534.9"/><use href="#o" x="953.5" y="691.1"/><use href="#p" x="771.5" y="734.9"/><use href="#o" x="750.9" y="696.7"/><use href="#o" x="197.3" y="709.4"/><use href="#p" x="199.2" y="596.6"/>
<use href="#o" x="808.0" y="833.5"/><use href="#p" x="861.7" y="576.4"/><use href="#o" x="188.5" y="713.0"/><use href="#o" x="728.4" y="716.7"/><use href="#o" x="203.9" y="353.5"/><use href="#o" x="818.3" y="776.4"/><use href="#o" x="770.2" y="648.4"/><use href="#p" x="714.9" y="170.7"/>
<use href="#p" x="845.9" y="729.5"/><use href="#p" x="279.8" y="636.8"/><use href="#o" x="763.2" y="776.6"/><use href="#o" x="217.1" y="678.6"/><use href="#p" x="153.5" y="479.9"/><use href="#p" x="794.5" y="755.6"/><use href="#p" x="947.7" y="709.5"/><use href="#o" x="905.0" y="702.0"/>
<use href="#p" x="800.5" y="592.6"/><use href="#p" x="765.7" y="758.4"/><use href="#o" x="717.2" y="652.3"/><use href="#p" x="785.8" y="572.7"/><use href="#o" x="961.9" y="521.9"/><use href="#p" x="804.1" y="712.3"/><use href="#o" x="205.4" y="445.3"/><use href="#p" x="236.0" y="71.5"/>
<use href="#p" x="183.3" y="500.2"/><use href="#p" x="267.3" y="411.2"/><use href="#p" x="301.8" y="151.7"/><use href="#o" x="197.5" y="502.9"/><use href="#p" x="219.8" y="277.0"/><use href="#p" x="286.5" y="579.1"/><use href="#p" x="159.3" y="561.3"/><use href="#o" x="932.3" y="585.1"/>
<use href="#p" x="253.1" y="416.1"/><use href="#p" x="147.5" y="526.0"/><use href="#o" x="909.3" y="753.1"/><use href="#p" x="942.6" y="714.5"/><use href="#p" x="918.8" y="603.8"/><use href="#o" x="210.8" y="642.5"/><use href="#o" x="829.3" y="742.8"/><use href="#p" x="230.9" y="353.9"/>
<use href="#p" x="190.3" y="381.8"/><use href="#p" x="811.1" y="742.8"/><use href="#p" x="285.1" y="649.7"/><use href="#o" x="815.8" y="792.7"/><use href="#p" x="292.1" y="523.7"/><use href="#o" x="247.9" y="652.3"/><use href="#o" x="172.8" y="444.0"/><use href="#o" x="891.0" y="410.2"/>
<use href="#o" x="755.3" y="537.5"/><use href="#p" x="235.4" y="380.6"/><use href="#p" x="806.2" y="639.8"/><use href="#o" x="180.9" y="552.5"/><use href="#p" x="320.7" y="156.8"/><use href="#p" x="227.6" y="501.0"/><use href="#o" x="960.0" y="623.1"/><use href="#p" x="174.8" y="679.8"/>
<use href="#p" x="930.9" y="631.0"/><use href="#o" x="183.8" y="716.5"/><use href="#p" x="773.9" y="567.1"/><use href="#p" x="872.1" y="612.3"/><use href="#o" x="241.8" y="663.8"/><use href="#p" x="813.2" y="610.9"/><use href="#p" x="775.7" y="650.1"/><use href="#o" x="950.2" y="646.6"/>
<use href="#p" x="212.9" y="456.4"/><use href="#p" x="777.3" y="487.1"/><use href="#o" x="165.6" y="545.5"/><use href="#o" x="922.8" y="758.7"/><use href="#o" x="243.5" y="454.4"/><use href="#p" x="882.5" y="718.6"/><use href="#p" x="884.0" y="675.5"/><use href="#o" x="895.6" y="667.2"/>
<use href="#p" x="977.2" y="504.9"/><use href="#p" x="892.3" y="554.6"/><use href="#o" x="834.0" y="795.0"/><use href="#p" x="887.6" y="559.2"/><use href="#p" x="885.7" y="449.5"/><use href="#o" x="923.0" y="731.7"/><use href="#p" x="826.8" y="596.1"/><use href="#p" x="875.3" y="595.6"/>
<use href="#p" x="250.5" y="646.8"/><use href="#o" x="227.5" y="606.6"/><use href="#p" x="659.7" y="143.8"/><use href="#p" x="320.2" y="130.9"/><use href="#o" x="144.7" y="562.0"/><use href="#p" x="962.0" y="550.8"/><use href="#p" x="778.7" y="543.1"/><use href="#p" x="274.8" y="519.7"/>
<use href="#p" x="803.5" y="582.0"/><use href="#p" x="275.4" y="177.4"/><use href="#o" x="801.8" y="763.3"/><use href="#p" x="253.8" y="422.1"/><use href="#o" x="229.5" y="696.9"/><use href="#p" x="132.3" y="494.7"/><use href="#p" x="248.5" y="158.3"/><use href="#p" x="967.1" y="581.6"/>
<use href="#o" x="809.6" y="750.3"/><use href="#o" x="933.0" y="742.2"/><use href="#p" x="220.0" y="707.5"/><use href="#o" x="159.3" y="452.5"/><use href="#p" x="839.1" y="473.7"/><use href="#o" x="245.1" y="594.0"/><use href="#p" x="165.9" y="569.6"/><use href="#p" x="298.7" y="571.8"/>
<use href="#o" x="221.3" y="651.4"/><use href="#o" x="832.9" y="713.8"/><use href="#p" x="710.1" y="201.1"/><use href="#p" x="241.1" y="695.4"/><use href="#p" x="788.1" y="707.1"/><use href="#p" x="781.4" y="604.0"/><use href="#o" x="217.1" y="635.9"/><use href="#p" x="859.7" y="603.2"/>
<use href="#p" x="839.3" y="794.6"/><use href="#p" x="800.2" y="518.9"/><use href="#p" x="218.9" y="276.3"/><use href="#o" x="240.6" y="607.2"/><use href="#o" x="141.2" y="574.5"/><use href="#o" x="189.9" y="684.5"/><use href="#o" x="134.4" y="538.6"/><use href="#o" x="179.0" y="558.1"/>
<use href="#o" x="256.7" y="487.2"/><use href="#o" x="161.5" y="563.1"/><use href="#p" x="293.8" y="516.3"/><use href="#p" x="765.3" y="761.1"/><use href="#o" x="941.6" y="620.7"/><use href="#o" x="247.4" y="371.3"/><use href="#p" x="851.0" y="614.8"/><use href="#p" x="709.4" y="216.9"/>
<use href="#p" x="808.8" y="645.2"/><use href="#o" x="225.9" y="522.0"/><use href="#p" x="902.2" y="520.2"/><use href="#p" x="759.0" y="573.0"/><use href="#o" x="778.3" y="723.1"/><use href="#o" x="823.2" y="690.1"/><use href="#p" x="301.8" y="517.5"/><use href="#p" x="313.8" y="141.2"/>
<use href="#p" x="668.7" y="127.8"/><use href="#p" x="775.7" y="513.5"/><use href="#p" x="681.3" y="213.4"/><use href="#p" x="894.1" y="410.9"/><use href="#p" x="288.0" y="478.3"/><use href="#p" x="233.0" y="441.6"/><use href="#p" x="268.2" y="93.3"/><use href="#p" x="277.9" y="121.5"/>
<use href="#o" x="768.7" y="685.6"/><use href="#o" x="912.2" y="710.1"/><use href="#o" x="222.5" y="624.9"/><use href="#p" x="746.2" y="744.5"/><use href="#p" x="681.6" y="196.4"/><use href="#p" x="274.1" y="412.0"/><use href="#p" x="312.9" y="89.7"/><use href="#p" x="240.1" y="687.5"/>
<use href="#o" x="151.2" y="642.1"/><use href="#p" x="175.9" y="366.1"/><use href="#o" x="733.6" y="752.5"/><use href="#p" x="283.7" y="169.1"/><use href="#o" x="883.6" y="599.4"/><use href="#p" x="807.1" y="742.6"/><use href="#o" x="206.1" y="499.6"/><use href="#o" x="166.2" y="600.2"/>
<use href="#p" x="812.9" y="604.5"/><use href="#p" x="298.3" y="533.2"/><use href="#o" x="206.8" y="580.7"/><use href="#o" x="181.1" y="706.0"/><use href="#p" x="194.3" y="383.1"/><use href="#o" x="806.6" y="726.8"/><use href="#p" x="828.8" y="498.6"/><use href="#p" x="847.6" y="794.0"/>
<use href="#p" x="236.5" y="481.5"/><use href="#o" x="882.8" y="708.5"/><use href="#p" x="262.2" y="70.5"/><use href="#o" x="794.3" y="430.3"/><use href="#o" x="911.6" y="663.5"/><use href="#o" x="914.7" y="658.9"/><use href="#p" x="886.6" y="579.6"/><use href="#o" x="775.4" y="808.9"/>
<use href="#p" x="938.7" y="441.2"/><use href="#p" x="810.3" y="660.7"/><use href="#p" x="654.0" y="172.0"/><use href="#o" x="924.7" y="446.4"/><use href="#o" x="883.4" y="710.7"/><use href="#o" x="927.6" y="551.3"/><use href="#p" x="820.9" y="598.9"/><use href="#o" x="208.7" y="617.8"/>
<use href="#p" x="302.1" y="157.1"/><use href="#o" x="147.5" y="458.2"/><use href="#p" x="295.0" y="88.7"/><use href="#o" x="974.7" y="565.4"/><use href="#p" x="152.6" y="565.6"/><use href="#o" x="210.8" y="655.3"/><use href="#o" x="952.2" y="541.8"/><use href="#o" x="760.5" y="579.0"/>
<use href="#o" x="775.2" y="655.3"/><use href="#o" x="837.0" y="725.8"/><use href="#p" x="256.2" y="73.3"/><use href="#p" x="785.0" y="710.8"/><use href="#p" x="258.0" y="689.1"/><use href="#p" x="914.3" y="395.9"/><use href="#o" x="971.9" y="504.8"/><use href="#o" x="920.2" y="373.0"/>
<use href="#o" x="910.0" y="558.1"/><use href="#o" x="153.4" y="547.7"/><use href="#p" x="791.9" y="483.0"/><use href="#p" x="975.0" y="557.1"/><use href="#p" x="775.5" y="593.4"/><use href="#p" x="729.9" y="662.3"/><use href="#o" x="959.9" y="592.7"/><use href="#o" x="171.1" y="602.9"/>
<use href="#o" x="187.4" y="490.9"/><use href="#p" x="291.8" y="65.7"/><use href="#p" x="861.6" y="469.1"/><use href="#p" x="882.3" y="578.7"/><use href="#o" x="796.1" y="823.6"/><use href="#p" x="911.1" y="577.0"/><use href="#o" x="726.1" y="640.4"/><use href="#p" x="962.9" y="618.3"/>
<use href="#o" x="914.9" y="388.6"/><use href="#o" x="193.4" y="490.5"/><use href="#o" x="759.2" y="665.2"/><use href="#p" x="825.4" y="728.0"/><use href="#o" x="189.3" y="459.7"/><use href="#p" x="250.7" y="320.8"/><use href="#o" x="932.2" y="690.3"/><use href="#p" x="681.2" y="127.6"/>
<use href="#o" x="897.8" y="658.3"/><use href="#p" x="820.6" y="782.7"/><use href="#o" x="151.9" y="447.6"/><use href="#p" x="221.4" y="296.1"/><use href="#o" x="818.3" y="558.9"/><use href="#p" x="672.3" y="145.9"/><use href="#p" x="303.2" y="123.3"/><use href="#p" x="318.1" y="160.3"/>
<use href="#p" x="926.6" y="743.0"/><use href="#p" x="281.9" y="118.0"/><use href="#o" x="169.7" y="633.9"/><use href="#o" x="899.2" y="490.4"/><use href="#o" x="801.6" y="794.1"/><use href="#o" x="267.3" y="476.2"/><use href="#p" x="152.2" y="553.1"/><use href="#o" x="769.5" y="667.6"/>
<use href="#o" x="942.0" y="565.1"/><use href="#o" x="951.4" y="657.4"/><use href="#o" x="944.6" y="719.8"/><use href="#p" x="952.0" y="672.9"/><use href="#p" x="271.2" y="130.4"/><use href="#p" x="885.0" y="746.1"/><use href="#p" x="273.4" y="413.6"/><use href="#p" x="850.1" y="594.6"/>
<use href="#o" x="205.2" y="696.4"/><use href="#o" x="279.7" y="616.8"/><use href="#p" x="142.4" y="553.9"/><use href="#p" x="211.7" y="398.1"/><use href="#o" x="909.4" y="688.7"/><use href="#o" x="233.5" y="537.8"/><use href="#o" x="771.9" y="583.4"/><use href="#o" x="947.6" y="655.6"/>
<use href="#o" x="236.1" y="674.1"/><use href="#p" x="190.1" y="478.4"/><use href="#o" x="962.6" y="509.8"/><use href="#o" x="801.2" y="658.0"/><use href="#o" x="205.7" y="655.7"/><use href="#o" x="854.3" y="491.8"/><use href="#o" x="295.6" y="626.9"/><use href="#p" x="818.7" y="742.8"/>
<use href="#p" x="696.4" y="222.3"/><use href="#p" x="222.5" y="426.1"/><use href="#p" x="788.8" y="531.8"/><use href="#o" x="780.4" y="800.1"/><use href="#p" x="844.3" y="520.4"/><use href="#o" x="754.2" y="705.0"/><use href="#p" x="912.9" y="492.1"/><use href="#p" x="270.1" y="410.4"/>
<use href="#o" x="251.7" y="702.2"/><use href="#p" x="250.6" y="484.7"/><use href="#p" x="207.6" y="476.3"/><use href="#p" x="780.3" y="645.8"/><use href="#p" x="135.5" y="502.4"/><use href="#p" x="159.6" y="608.6"/><use href="#o" x="261.9" y="634.0"/><use href="#p" x="159.2" y="542.0"/>
<use href="#o" x="820.9" y="805.6"/><use href="#o" x="780.5" y="681.6"/><use href="#p" x="217.3" y="286.5"/><use href="#p" x="789.5" y="508.6"/><use href="#o" x="189.9" y="352.0"/><use href="#p" x="300.2" y="553.5"/><use href="#o" x="258.7" y="611.2"/><use href="#p" x="900.2" y="510.5"/>
<use href="#o" x="748.7" y="661.0"/><use href="#o" x="733.5" y="695.3"/><use href="#o" x="200.5" y="704.9"/><use href="#p" x="672.6" y="119.0"/><use href="#o" x="904.5" y="618.5"/><use href="#o" x="941.6" y="442.2"/><use href="#o" x="905.4" y="610.9"/><use href="#p" x="301.8" y="553.4"/>
<use href="#p" x="867.4" y="510.1"/><use href="#o" x="763.9" y="770.6"/><use href="#o" x="936.5" y="685.9"/><use href="#p" x="803.1" y="421.7"/><use href="#p" x="901.3" y="705.9"/><use href="#o" x="959.9" y="628.1"/><use href="#o" x="264.9" y="599.4"/><use href="#p" x="687.6" y="97.1"/>
<use href="#o" x="884.6" y="478.1"/><use href="#p" x="220.0" y="277.9"/><use href="#p" x="846.2" y="466.2"/><use href="#p" x="699.5" y="90.8"/><use href="#p" x="797.3" y="600.6"/><use href="#o" x="147.3" y="521.5"/><use href="#p" x="855.4" y="439.6"/><use href="#p" x="895.6" y="603.9"/>
<use href="#o" x="740.8" y="617.9"/><use href="#o" x="131.5" y="497.5"/><use href="#o" x="773.0" y="836.5"/><use href="#o" x="181.3" y="711.4"/><use href="#o" x="149.2" y="439.3"/><use href="#p" x="217.4" y="370.8"/><use href="#p" x="239.8" y="72.7"/><use href="#p" x="916.5" y="458.2"/>
<use href="#p" x="866.0" y="502.3"/><use href="#o" x="256.0" y="365.2"/><use href="#o" x="940.6" y="714.5"/><use href="#o" x="203.9" y="532.2"/><use href="#p" x="822.7" y="600.4"/><use href="#o" x="271.2" y="650.5"/><use href="#o" x="905.1" y="467.0"/><use href="#p" x="942.4" y="711.5"/>
<use href="#p" x="771.2" y="709.6"/><use href="#p" x="258.2" y="149.7"/><use href="#o" x="791.9" y="626.4"/><use href="#o" x="738.3" y="691.1"/><use href="#o" x="969.8" y="570.7"/><use href="#o" x="189.1" y="515.7"/><use href="#o" x="749.0" y="827.3"/><use href="#o" x="154.3" y="666.4"/>
<use href="#o" x="810.4" y="754.4"/><use href="#o" x="810.1" y="489.8"/><use href="#o" x="148.7" y="538.3"/><use href="#p" x="848.6" y="742.6"/><use href="#o" x="927.6" y="640.9"/><use href="#o" x="198.2" y="558.4"/><use href="#p" x="830.8" y="462.4"/><use href="#p" x="841.4" y="586.3"/>
<use href="#p" x="699.1" y="150.4"/><use href="#p" x="163.7" y="432.9"/><use href="#p" x="708.5" y="119.2"/><use href="#p" x="888.5" y="515.9"/><use href="#p" x="854.4" y="496.7"/><use href="#o" x="235.3" y="553.7"/><use href="#o" x="909.4" y="560.7"/><use href="#o" x="186.7" y="622.9"/>
<use href="#p" x="749.6" y="722.3"/><use href="#p" x="765.0" y="512.9"/><use href="#o" x="789.7" y="722.0"/><use href="#p" x="297.1" y="143.3"/><use href="#o" x="881.3" y="755.0"/><use href="#p" x="302.8" y="151.8"/><use href="#o" x="822.3" y="721.3"/><use href="#o" x="959.9" y="614.5"/>
<use href="#p" x="261.9" y="395.2"/><use href="#p" x="816.8" y="425.1"/><use href="#o" x="902.1" y="372.2"/><use href="#p" x="854.8" y="725.7"/><use href="#o" x="977.3" y="518.7"/><use href="#p" x="884.8" y="557.4"/><use href="#p" x="780.1" y="519.4"/><use href="#p" x="262.5" y="157.1"/>
<use href="#p" x="265.8" y="164.9"/><use href="#p" x="901.7" y="411.5"/><use href="#o" x="729.3" y="741.7"/><use href="#o" x="210.0" y="622.4"/><use href="#o" x="865.8" y="506.0"/><use href="#o" x="848.7" y="539.7"/><use href="#o" x="755.8" y="797.5"/><use href="#p" x="273.3" y="455.7"/>
<use href="#p" x="778.5" y="627.7"/><use href="#p" x="143.6" y="529.2"/><use href="#p" x="696.9" y="178.7"/><use href="#o" x="939.1" y="448.0"/><use href="#p" x="683.9" y="93.6"/><use href="#o" x="719.8" y="711.1"/><use href="#o" x="911.6" y="541.9"/><use href="#o" x="210.3" y="510.7"/>
<use href="#o" x="222.5" y="602.2"/><use href="#p" x="201.2" y="327.8"/><use href="#p" x="870.5" y="715.1"/><use href="#p" x="704.0" y="168.0"/><use href="#p" x="852.2" y="770.1"/><use href="#p" x="879.1" y="439.0"/><use href="#o" x="157.4" y="530.2"/><use href="#p" x="693.9" y="97.2"/>
<use href="#o" x="851.2" y="438.7"/><use href="#p" x="887.7" y="540.4"/><use href="#o" x="758.7" y="754.5"/><use href="#p" x="773.0" y="728.3"/><use href="#o" x="774.8" y="655.9"/><use href="#p" x="698.4" y="141.4"/><use href="#o" x="871.5" y="488.5"/><use href="#p" x="250.9" y="334.6"/>
<use href="#o" x="966.0" y="449.9"/><use href="#p" x="648.1" y="130.8"/><use href="#o" x="769.8" y="795.8"/><use href="#o" x="929.7" y="677.5"/><use href="#o" x="163.5" y="656.6"/><use href="#o" x="814.0" y="666.6"/><use href="#o" x="790.8" y="727.4"/><use href="#p" x="904.5" y="660.6"/>
<use href="#p" x="277.5" y="496.4"/><use href="#o" x="254.0" y="593.7"/><use href="#o" x="737.0" y="650.0"/><use href="#o" x="197.9" y="364.4"/><use href="#p" x="241.8" y="701.2"/><use href="#p" x="921.0" y="673.2"/><use href="#p" x="291.2" y="56.1"/><use href="#p" x="293.9" y="64.0"/>
<use href="#o" x="230.5" y="704.4"/><use href="#p" x="894.0" y="580.6"/><use href="#o" x="979.9" y="540.9"/><use href="#o" x="898.9" y="573.8"/><use href="#o" x="196.8" y="726.0"/><use href="#p" x="220.2" y="371.2"/><use href="#o" x="263.8" y="522.8"/><use href="#p" x="289.0" y="90.2"/>
<use href="#p" x="695.0" y="168.8"/><use href="#o" x="829.5" y="731.0"/><use href="#o" x="190.6" y="724.1"/><use href="#p" x="770.2" y="533.2"/><use href="#p" x="807.0" y="613.0"/><use href="#p" x="666.3" y="161.7"/><use href="#p" x="662.8" y="122.5"/><use href="#p" x="687.9" y="208.3"/>
<use href="#o" x="200.4" y="717.6"/><use href="#o" x="945.8" y="409.3"/><use href="#p" x="953.8" y="539.5"/><use href="#o" x="176.0" y="612.5"/><use href="#o" x="811.6" y="688.7"/><use href="#p" x="199.8" y="310.0"/><use href="#o" x="280.9" y="594.1"/><use href="#o" x="806.8" y="716.0"/>
<use href="#o" x="746.5" y="812.1"/><use href="#o" x="808.1" y="718.1"/><use href="#p" x="921.0" y="435.4"/><use href="#p" x="182.2" y="575.8"/><use href="#p" x="855.5" y="542.8"/><use href="#p" x="821.8" y="398.2"/><use href="#o" x="241.7" y="618.3"/><use href="#o" x="792.3" y="823.8"/>
<use href="#o" x="762.4" y="604.3"/><use href="#o" x="820.7" y="800.3"/><use href="#p" x="215.2" y="451.2"/><use href="#p" x="275.7" y="185.4"/><use href="#o" x="977.8" y="515.5"/><use href="#p" x="254.4" y="83.2"/><use href="#o" x="799.0" y="550.8"/><use href="#p" x="179.9" y="428.1"/>
<use href="#o" x="263.3" y="560.1"/><use href="#p" x="966.1" y="600.2"/><use href="#o" x="974.1" y="606.8"/><use href="#o" x="209.2" y="463.2"/><use href="#o" x="160.0" y="479.5"/><use href="#o" x="767.7" y="799.8"/><use href="#o" x="259.7" y="677.0"/><use href="#o" x="748.7" y="657.4"/>
<use href="#p" x="290.1" y="156.5"/><use href="#p" x="290.0" y="582.9"/><use href="#p" x="692.1" y="147.6"/><use href="#o" x="816.8" y="753.2"/><use href="#o" x="754.3" y="776.5"/><use href="#p" x="831.2" y="608.5"/><use href="#o" x="290.7" y="598.5"/><use href="#p" x="697.2" y="78.9"/>
<use href="#p" x="973.8" y="514.9"/><use href="#p" x="238.9" y="710.8"/><use href="#p" x="932.3" y="444.7"/><use href="#p" x="673.7" y="131.7"/><use href="#o" x="729.4" y="712.3"/><use href="#p" x="236.9" y="286.9"/><use href="#p" x="936.6" y="540.7"/><use href="#p" x="264.7" y="630.2"/>
<use href="#p" x="947.3" y="665.9"/><use href="#o" x="971.5" y="552.7"/><use href="#o" x="851.4" y="669.6"/><use href="#p" x="875.0" y="495.4"/><use href="#o" x="857.4" y="742.1"/><use href="#o" x="931.4" y="674.2"/><use href="#p" x="248.3" y="625.3"/><use href="#p" x="190.6" y="390.2"/>
<use href="#o" x="161.5" y="676.5"/><use href="#p" x="894.7" y="392.4"/><use href="#p" x="706.8" y="117.9"/><use href="#p" x="925.7" y="435.2"/><use href="#p" x="263.6" y="119.5"/><use href="#p" x="227.4" y="414.2"/><use href="#p" x="189.8" y="480.1"/><use href="#o" x="838.9" y="795.2"/>
<use href="#p" x="336.2" y="155.3"/><use href="#o" x="198.3" y="633.1"/><use href="#p" x="870.8" y="585.7"/><use href="#o" x="836.3" y="770.8"/><use href="#p" x="171.2" y="521.0"/><use href="#o" x="902.0" y="654.6"/><use href="#p" x="892.3" y="712.0"/><use href="#p" x="302.9" y="71.4"/>
<use href="#o" x="918.2" y="525.6"/><use href="#o" x="196.4" y="618.4"/><use href="#o" x="261.5" y="563.0"/><use href="#o" x="775.8" y="734.1"/><use href="#p" x="209.1" y="277.3"/><use href="#o" x="973.7" y="613.0"/><use href="#o" x="739.5" y="582.6"/><use href="#p" x="277.9" y="489.3"/>
<use href="#p" x="180.6" y="354.3"/><use href="#o" x="178.1" y="673.1"/><use href="#p" x="231.6" y="456.5"/><use href="#p" x="781.6" y="537.1"/><use href="#p" x="813.1" y="452.5"/><use href="#p" x="295.5" y="70.7"/><use href="#o" x="831.3" y="710.3"/><use href="#o" x="828.8" y="713.2"/>
<use href="#o" x="769.9" y="789.5"/><use href="#p" x="943.0" y="542.0"/><use href="#o" x="916.5" y="566.6"/><use href="#p" x="778.5" y="457.8"/><use href="#o" x="938.2" y="603.1"/><use href="#o" x="888.0" y="714.1"/><use href="#p" x="898.3" y="543.0"/><use href="#p" x="219.5" y="342.3"/>
<use href="#o" x="179.6" y="530.4"/><use href="#p" x="687.5" y="134.5"/><use href="#p" x="832.5" y="616.7"/><use href="#o" x="736.7" y="680.6"/><use href="#o" x="776.0" y="748.4"/><use href="#p" x="788.4" y="814.4"/><use href="#o" x="791.8" y="637.5"/><use href="#p" x="201.9" y="334.8"/>
<use href="#p" x="813.9" y="556.9"/><use href="#o" x="207.9" y="649.5"/><use href="#o" x="956.2" y="456.1"/><use href="#o" x="213.1" y="641.6"/><use href="#p" x="211.6" y="420.9"/><use href="#p" x="180.9" y="465.3"/><use href="#p" x="670.2" y="176.8"/><use href="#o" x="757.6" y="588.7"/>
<use href="#p" x="249.2" y="331.8"/><use href="#p" x="701.0" y="169.9"/><use href="#o" x="216.7" y="598.9"/><use href="#o" x="775.9" y="668.0"/><use href="#o" x="896.0" y="733.9"/><use href="#p" x="165.2" y="396.1"/><use href="#p" x="979.5" y="469.0"/><use href="#p" x="265.5" y="526.7"/>
<use href="#o" x="737.3" y="736.5"/><use href="#o" x="936.4" y="666.7"/><use href="#o" x="146.9" y="537.3"/><use href="#p" x="841.5" y="666.7"/><use href="#o" x="232.2" y="514.2"/><use href="#p" x="769.5" y="514.6"/><use href="#o" x="270.4" y="575.7"/><use href="#o" x="741.0" y="606.7"/>
<use href="#p" x="188.1" y="446.4"/><use href="#o" x="908.5" y="660.4"/><use href="#p" x="250.0" y="329.6"/><use href="#p" x="180.9" y="655.7"/><use href="#p" x="789.0" y="748.2"/><use href="#o" x="761.1" y="758.5"/><use href="#p" x="300.4" y="62.6"/><use href="#o" x="893.6" y="437.8"/>
<use href="#o" x="955.1" y="483.3"/><use href="#o" x="185.9" y="476.6"/><use href="#o" x="916.6" y="471.5"/><use href="#p" x="146.2" y="533.3"/><use href="#p" x="669.6" y="203.1"/><use href="#p" x="164.9" y="397.5"/><use href="#p" x="820.8" y="621.4"/><use href="#o" x="171.8" y="573.0"/>
<use href="#o" x="208.0" y="474.8"/><use href="#o" x="835.7" y="725.9"/><use href="#p" x="312.9" y="96.8"/><use href="#p" x="236.1" y="501.3"/><use href="#o" x="940.5" y="561.5"/><use href="#o" x="280.2" y="622.8"/><use href="#p" x="338.1" y="158.6"/><use href="#p" x="203.8" y="340.1"/>
<use href="#o" x="167.9" y="666.5"/><use href="#p" x="840.9" y="456.8"/><use href="#o" x="293.0" y="523.5"/><use href="#o" x="878.4" y="757.1"/><use href="#p" x="212.4" y="681.6"/><use href="#o" x="215.8" y="680.5"/><use href="#p" x="276.6" y="398.2"/><use href="#o" x="792.1" y="502.9"/>
<use href="#p" x="935.7" y="427.8"/><use href="#p" x="701.0" y="161.6"/><use href="#p" x="217.6" y="474.4"/><use href="#p" x="269.3" y="180.7"/><use href="#o" x="259.0" y="362.8"/><use href="#p" x="799.5" y="635.2"/><use href="#o" x="924.1" y="729.5"/><use href="#p" x="850.6" y="613.6"/>
<use href="#p" x="298.5" y="61.4"/><use href="#p" x="707.9" y="169.4"/><use href="#o" x="801.2" y="827.7"/><use href="#p" x="906.5" y="557.0"/><use href="#o" x="790.3" y="726.1"/><use href="#p" x="826.4" y="446.6"/><use href="#o" x="903.7" y="710.5"/><use href="#o" x="188.0" y="604.7"/>
<use href="#o" x="235.4" y="663.2"/><use href="#p" x="660.4" y="151.4"/><use href="#p" x="800.4" y="647.0"/><use href="#o" x="732.8" y="709.4"/><use href="#o" x="733.6" y="703.5"/><use href="#p" x="261.1" y="115.5"/><use href="#p" x="248.9" y="468.3"/><use href="#p" x="256.9" y="438.4"/>
<use href="#o" x="746.3" y="809.3"/><use href="#p" x="783.7" y="571.7"/><use href="#o" x="969.4" y="589.2"/><use href="#p" x="240.5" y="431.1"/><use href="#o" x="226.5" y="605.7"/><use href="#o" x="937.8" y="587.9"/><use href="#p" x="940.6" y="448.8"/><use href="#o" x="904.5" y="699.0"/>
<use href="#o" x="962.3" y="442.8"/><use href="#p" x="926.0" y="614.9"/><use href="#p" x="842.5" y="731.5"/><use href="#p" x="900.3" y="602.1"/><use href="#p" x="889.5" y="405.3"/><use href="#o" x="285.6" y="460.9"/><use href="#o" x="756.3" y="580.3"/><use href="#p" x="259.2" y="640.0"/>
<use href="#p" x="788.8" y="666.8"/><use href="#p" x="286.3" y="587.5"/><use href="#p" x="302.8" y="550.1"/><use href="#p" x="257.6" y="95.3"/><use href="#o" x="191.3" y="721.7"/><use href="#p" x="702.5" y="107.0"/><use href="#o" x="752.7" y="699.7"/><use href="#o" x="287.4" y="601.3"/>
<use href="#o" x="947.6" y="539.9"/><use href="#p" x="248.9" y="79.7"/><use href="#p" x="784.6" y="636.4"/><use href="#o" x="895.5" y="728.2"/><use href="#p" x="156.2" y="604.8"/><use href="#p" x="832.6" y="404.4"/><use href="#p" x="298.4" y="566.9"/><use href="#p" x="679.1" y="182.7"/>
<use href="#o" x="230.3" y="704.2"/><use href="#p" x="282.5" y="176.8"/><use href="#o" x="931.0" y="715.6"/><use href="#o" x="878.8" y="750.9"/><use href="#o" x="263.0" y="560.4"/><use href="#o" x="217.8" y="695.3"/><use href="#p" x="202.5" y="659.7"/><use href="#o" x="944.8" y="658.8"/>
<use href="#o" x="735.1" y="785.5"/><use href="#p" x="802.4" y="617.2"/><use href="#p" x="153.3" y="502.3"/><use href="#o" x="254.2" y="646.6"/><use href="#p" x="216.4" y="485.6"/><use href="#p" x="774.0" y="479.7"/><use href="#p" x="797.5" y="620.3"/><use href="#p" x="269.2" y="141.1"/>
<use href="#o" x="247.6" y="417.0"/><use href="#o" x="929.0" y="644.9"/><use href="#p" x="806.7" y="740.6"/><use href="#o" x="916.1" y="570.1"/><use href="#p" x="727.2" y="688.5"/><use href="#p" x="198.2" y="332.3"/><use href="#p" x="276.0" y="640.9"/><use href="#p" x="264.6" y="525.2"/>
<use href="#o" x="938.8" y="396.5"/><use href="#o" x="223.9" y="610.5"/><use href="#p" x="902.3" y="611.7"/><use href="#o" x="909.7" y="471.7"/><use href="#o" x="943.4" y="604.1"/><use href="#p" x="261.1" y="159.9"/><use href="#o" x="918.2" y="616.7"/><use href="#o" x="935.9" y="680.4"/>
<use href="#p" x="282.0" y="648.7"/><use href="#p" x="256.8" y="156.7"/><use href="#o" x="826.7" y="814.1"/><use href="#o" x="142.5" y="600.9"/><use href="#p" x="792.7" y="643.2"/><use href="#p" x="294.1" y="119.6"/><use href="#o" x="805.6" y="604.6"/><use href="#p" x="977.7" y="593.1"/>
<use href="#o" x="878.2" y="449.9"/><use href="#o" x="186.8" y="587.0"/><use href="#o" x="932.7" y="443.4"/><use href="#p" x="253.3" y="641.8"/><use href="#o" x="164.0" y="627.7"/><use href="#o" x="948.5" y="492.0"/><use href="#o" x="243.0" y="494.5"/><use href="#o" x="773.1" y="741.0"/>
<use href="#p" x="741.5" y="743.8"/><use href="#o" x="238.4" y="639.9"/><use href="#o" x="916.5" y="626.2"/><use href="#p" x="254.5" y="89.2"/><use href="#o" x="781.7" y="808.7"/><use href="#p" x="761.2" y="504.0"/><use href="#o" x="921.0" y="667.1"/><use href="#p" x="275.1" y="127.8"/>
<use href="#o" x="844.5" y="522.3"/><use href="#p" x="181.2" y="656.6"/><use href="#o" x="840.5" y="776.5"/><use href="#p" x="290.5" y="541.2"/><use href="#o" x="199.4" y="729.5"/><use href="#o" x="886.3" y="676.8"/><use href="#p" x="837.7" y="589.6"/><use href="#o" x="235.2" y="638.8"/>
<use href="#o" x="927.6" y="647.6"/><use href="#o" x="931.7" y="628.4"/><use href="#o" x="786.5" y="765.5"/><use href="#o" x="917.1" y="536.3"/><use href="#p" x="659.6" y="237.7"/><use href="#o" x="195.0" y="639.4"/><use href="#p" x="931.8" y="749.4"/><use href="#p" x="932.4" y="476.0"/>
<use href="#p" x="295.1" y="152.3"/><use href="#p" x="956.5" y="587.0"/><use href="#p" x="212.2" y="343.2"/><use href="#p" x="281.8" y="176.4"/><use href="#o" x="967.5" y="537.9"/><use href="#p" x="280.3" y="101.8"/><use href="#p" x="843.9" y="501.2"/><use href="#p" x="265.6" y="385.4"/>
<use href="#p" x="290.7" y="158.7"/><use href="#p" x="777.3" y="728.9"/><use href="#o" x="951.4" y="630.7"/><use href="#p" x="883.9" y="600.5"/><use href="#o" x="213.6" y="593.4"/><use href="#o" x="172.8" y="594.0"/><use href="#p" x="653.7" y="124.9"/><use href="#o" x="907.0" y="400.4"/>
<use href="#o" x="213.1" y="629.4"/><use href="#p" x="850.0" y="710.3"/><use href="#p" x="306.5" y="78.9"/><use href="#o" x="198.2" y="546.7"/><use href="#p" x="259.8" y="89.1"/><use href="#p" x="921.0" y="574.1"/><use href="#o" x="951.6" y="625.7"/><use href="#p" x="691.9" y="196.4"/>
<use href="#o" x="215.3" y="643.9"/><use href="#o" x="962.4" y="606.8"/><use href="#p" x="914.9" y="570.9"/><use href="#p" x="206.9" y="272.5"/><use href="#p" x="863.4" y="579.2"/><use href="#p" x="336.0" y="154.6"/><use href="#o" x="822.0" y="406.9"/><use href="#o" x="155.7" y="436.9"/>
<use href="#o" x="802.2" y="723.7"/><use href="#p" x="864.8" y="748.8"/><use href="#o" x="747.5" y="785.1"/><use href="#o" x="263.8" y="460.2"/><use href="#o" x="779.9" y="771.9"/><use href="#o" x="857.9" y="470.6"/><use href="#p" x="180.1" y="477.2"/><use href="#o" x="747.8" y="754.9"/>
<use href="#o" x="227.6" y="687.2"/><use href="#p" x="246.7" y="578.5"/><use href="#o" x="201.9" y="664.6"/><use href="#p" x="264.0" y="69.4"/><use href="#o" x="805.0" y="792.5"/><use href="#p" x="156.5" y="437.2"/><use href="#p" x="815.6" y="531.5"/><use href="#o" x="919.0" y="686.1"/>
<use href="#p" x="277.1" y="77.3"/><use href="#p" x="252.2" y="325.4"/><use href="#p" x="864.9" y="723.1"/><use href="#o" x="185.9" y="569.3"/><use href="#p" x="132.7" y="503.9"/><use href="#o" x="161.8" y="607.5"/><use href="#o" x="874.7" y="657.1"/><use href="#o" x="741.7" y="726.8"/>
<use href="#p" x="282.8" y="590.5"/><use href="#o" x="781.1" y="801.7"/><use href="#p" x="197.3" y="396.2"/><use href="#o" x="177.1" y="639.7"/><use href="#p" x="764.3" y="527.7"/><use href="#o" x="915.6" y="625.9"/><use href="#o" x="916.3" y="457.6"/><use href="#o" x="771.9" y="566.8"/>
<use href="#o" x="851.8" y="518.3"/><use href="#p" x="209.6" y="265.3"/><use href="#p" x="801.6" y="558.7"/><use href="#o" x="162.8" y="519.8"/><use href="#o" x="945.0" y="684.9"/><use href="#o" x="961.3" y="567.8"/><use href="#p" x="294.4" y="131.7"/><use href="#o" x="255.9" y="641.9"/>
<use href="#p" x="154.6" y="485.2"/><use href="#p" x="778.0" y="549.8"/><use href="#o" x="721.7" y="672.0"/><use href="#o" x="264.0" y="594.1"/><use href="#o" x="810.7" y="432.6"/><use href="#p" x="918.6" y="498.3"/><use href="#o" x="238.7" y="617.9"/><use href="#o" x="970.3" y="475.4"/>
<use href="#p" x="802.8" y="467.1"/><use href="#p" x="889.4" y="491.5"/><use href="#p" x="764.2" y="491.8"/><use href="#o" x="152.8" y="548.4"/><use href="#o" x="969.7" y="474.6"/><use href="#p" x="961.1" y="549.8"/><use href="#o" x="904.7" y="682.9"/><use href="#p" x="784.3" y="712.7"/>
<use href="#o" x="796.2" y="673.4"/><use href="#p" x="906.2" y="737.3"/><use href="#p" x="253.7" y="345.5"/><use href="#p" x="164.2" y="423.4"/><use href="#o" x="229.8" y="525.2"/><use href="#o" x="212.0" y="571.6"/><use href="#p" x="902.7" y="634.7"/><use href="#o" x="260.4" y="664.9"/>
<use href="#o" x="910.7" y="459.3"/><use href="#p" x="816.3" y="707.2"/><use href="#p" x="244.2" y="435.6"/><use href="#o" x="955.6" y="549.6"/><use href="#o" x="923.5" y="714.4"/><use href="#o" x="219.4" y="594.0"/><use href="#o" x="923.9" y="720.3"/><use href="#p" x="214.9" y="528.0"/>
<use href="#p" x="271.1" y="157.3"/><use href="#p" x="264.2" y="595.7"/><use href="#o" x="866.9" y="672.5"/><use href="#p" x="175.6" y="356.0"/><use href="#p" x="948.1" y="632.6"/><use href="#o" x="910.3" y="745.0"/><use href="#o" x="163.4" y="679.9"/><use href="#p" x="336.8" y="141.5"/>
<use href="#o" x="225.3" y="713.8"/><use href="#p" x="776.7" y="496.6"/><use href="#o" x="963.0" y="419.5"/><use href="#o" x="916.8" y="605.6"/><use href="#o" x="753.2" y="740.8"/><use href="#p" x="799.6" y="424.7"/><use href="#o" x="214.0" y="731.1"/><use href="#o" x="746.8" y="633.0"/>
<use href="#p" x="168.9" y="562.0"/><use href="#p" x="281.8" y="140.0"/><use href="#o" x="959.0" y="488.5"/><use href="#o" x="234.1" y="527.2"/><use href="#p" x="776.6" y="610.8"/><use href="#o" x="836.2" y="769.7"/><use href="#p" x="690.8" y="131.5"/><use href="#p" x="206.2" y="604.7"/>
<use href="#p" x="880.6" y="748.4"/><use href="#o" x="950.3" y="400.1"/><use href="#p" x="251.6" y="403.7"/><use href="#p" x="205.4" y="464.5"/><use href="#p" x="904.1" y="382.4"/><use href="#o" x="289.7" y="599.1"/><use href="#p" x="833.6" y="758.5"/><use href="#p" x="766.7" y="721.1"/>
<use href="#o" x="777.4" y="475.9"/><use href="#o" x="240.9" y="551.4"/><use href="#p" x="270.9" y="666.7"/><use href="#o" x="224.7" y="588.4"/><use href="#o" x="894.3" y="713.7"/><use href="#o" x="860.4" y="755.9"/><use href="#o" x="943.7" y="527.7"/><use href="#p" x="716.4" y="100.2"/>
<use href="#p" x="280.1" y="120.8"/><use href="#p" x="828.2" y="442.8"/><use href="#p" x="252.3" y="87.2"/><use href="#o" x="948.8" y="649.8"/><use href="#o" x="970.3" y="441.4"/><use href="#o" x="244.1" y="438.7"/><use href="#o" x="744.9" y="704.9"/><use href="#o" x="174.3" y="680.4"/>
<use href="#p" x="797.4" y="583.6"/><use href="#p" x="299.1" y="133.9"/><use href="#o" x="876.4" y="583.1"/><use href="#o" x="837.0" y="651.7"/><use href="#o" x="888.5" y="670.7"/><use href="#p" x="143.5" y="568.0"/><use href="#p" x="682.0" y="97.1"/><use href="#o" x="924.3" y="758.7"/>
<use href="#o" x="160.0" y="625.2"/><use href="#o" x="220.6" y="661.7"/><use href="#o" x="863.9" y="466.6"/><use href="#p" x="268.9" y="495.8"/><use href="#p" x="685.7" y="104.2"/><use href="#o" x="756.6" y="640.6"/><use href="#p" x="263.6" y="136.5"/><use href="#o" x="228.3" y="431.7"/>
<use href="#o" x="774.1" y="463.4"/><use href="#p" x="807.7" y="464.5"/><use href="#p" x="269.5" y="473.0"/><use href="#p" x="291.4" y="135.1"/><use href="#o" x="131.6" y="502.2"/><use href="#o" x="172.4" y="375.5"/><use href="#p" x="217.8" y="327.0"/><use href="#p" x="216.4" y="325.7"/>
<use href="#o" x="243.4" y="352.6"/><use href="#p" x="919.0" y="700.5"/><use href="#p" x="270.5" y="486.9"/><use href="#o" x="913.2" y="634.2"/><use href="#o" x="776.6" y="691.3"/><use href="#p" x="274.7" y="545.9"/><use href="#o" x="890.8" y="653.0"/><use href="#o" x="822.7" y="776.9"/>
<use href="#p" x="686.0" y="144.0"/><use href="#o" x="247.1" y="618.6"/><use href="#o" x="274.2" y="593.0"/><use href="#o" x="906.2" y="440.2"/><use href="#p" x="840.9" y="431.3"/><use href="#p" x="772.2" y="570.7"/><use href="#p" x="792.5" y="504.3"/><use href="#o" x="257.5" y="533.0"/>
<use href="#o" x="900.4" y="706.5"/><use href="#o" x="731.8" y="701.6"/><use href="#p" x="917.2" y="764.8"/><use href="#o" x="275.0" y="600.4"/><use href="#o" x="925.1" y="529.4"/><use href="#o" x="766.4" y="817.9"/><use href="#p" x="940.5" y="495.3"/><use href="#p" x="228.9" y="426.1"/>
<use href="#o" x="788.4" y="684.8"/><use href="#p" x="868.7" y="757.2"/><use href="#o" x="809.5" y="830.4"/><use href="#p" x="870.4" y="743.5"/><use href="#p" x="258.6" y="84.3"/><use href="#p" x="247.0" y="420.5"/><use href="#p" x="802.3" y="565.4"/><use href="#p" x="896.8" y="541.1"/>
<use href="#p" x="796.2" y="645.9"/><use href="#p" x="275.3" y="427.0"/><use href="#o" x="788.3" y="769.6"/><use href="#p" x="970.8" y="602.1"/><use href="#p" x="840.6" y="695.7"/><use href="#p" x="283.1" y="590.9"/><use href="#p" x="241.8" y="625.3"/><use href="#o" x="893.5" y="720.4"/>
<use href="#o" x="147.4" y="564.0"/><use href="#p" x="270.0" y="168.8"/><use href="#o" x="159.4" y="584.5"/><use href="#o" x="894.5" y="546.4"/><use href="#p" x="222.7" y="491.0"/><use href="#p" x="801.9" y="653.8"/><use href="#o" x="185.7" y="507.5"/><use href="#o" x="952.6" y="642.4"/>
<use href="#o" x="944.9" y="509.8"/><use href="#p" x="894.9" y="692.2"/><use href="#o" x="253.7" y="683.4"/><use href="#o" x="237.9" y="458.7"/><use href="#o" x="170.9" y="539.2"/><use href="#o" x="194.6" y="517.0"/><use href="#o" x="136.3" y="522.9"/><use href="#p" x="189.3" y="452.4"/>
<use href="#o" x="249.2" y="512.0"/><use href="#o" x="177.3" y="620.0"/><use href="#o" x="251.9" y="348.4"/><use href="#o" x="947.8" y="553.7"/><use href="#o" x="163.6" y="670.0"/><use href="#o" x="747.0" y="807.7"/><use href="#o" x="241.3" y="578.8"/><use href="#o" x="933.4" y="553.0"/>
<use href="#p" x="293.6" y="564.6"/><use href="#o" x="164.7" y="572.6"/><use href="#o" x="209.3" y="656.9"/><use href="#p" x="219.5" y="379.9"/><use href="#p" x="271.2" y="181.7"/><use href="#o" x="237.0" y="687.6"/><use href="#o" x="190.0" y="607.3"/><use href="#p" x="287.0" y="641.5"/>
<use href="#p" x="305.1" y="131.1"/><use href="#o" x="248.8" y="628.7"/><use href="#p" x="258.9" y="153.4"/><use href="#p" x="256.1" y="122.9"/><use href="#o" x="845.9" y="440.7"/><use href="#p" x="210.8" y="358.2"/><use href="#o" x="279.2" y="660.5"/><use href="#p" x="686.2" y="214.4"/>
<use href="#p" x="323.9" y="123.5"/><use href="#o" x="890.9" y="521.1"/><use href="#o" x="771.2" y="717.5"/><use href="#o" x="250.9" y="353.6"/><use href="#p" x="290.2" y="602.8"/><use href="#p" x="327.3" y="141.0"/><use href="#p" x="233.9" y="490.3"/><use href="#o" x="940.1" y="707.9"/>
<use href="#o" x="304.9" y="563.8"/><use href="#p" x="187.7" y="693.3"/><use href="#p" x="789.3" y="504.5"/><use href="#p" x="259.2" y="119.8"/><use href="#o" x="842.7" y="576.0"/><use href="#p" x="802.7" y="485.2"/><use href="#p" x="253.3" y="127.5"/><use href="#o" x="165.1" y="637.1"/>
<use href="#o" x="766.9" y="810.1"/><use href="#o" x="216.0" y="710.3"/><use href="#o" x="769.9" y="796.9"/><use href="#p" x="191.8" y="482.0"/><use href="#o" x="269.5" y="547.5"/><use href="#o" x="226.3" y="672.2"/><use href="#p" x="870.1" y="581.8"/><use href="#p" x="871.7" y="475.6"/>
<use href="#p" x="805.2" y="703.5"/><use href="#o" x="774.4" y="796.9"/><use href="#p" x="227.2" y="399.2"/><use href="#p" x="695.0" y="138.1"/><use href="#p" x="265.3" y="119.9"/><use href="#p" x="268.8" y="644.0"/><use href="#p" x="834.2" y="730.5"/><use href="#p" x="773.2" y="504.7"/>
<use href="#o" x="896.8" y="732.4"/><use href="#o" x="802.0" y="677.0"/><use href="#p" x="257.0" y="448.8"/><use href="#o" x="940.3" y="592.2"/><use href="#o" x="140.4" y="555.9"/><use href="#p" x="723.1" y="167.2"/><use href="#o" x="755.4" y="695.6"/><use href="#o" x="950.1" y="661.0"/>
<use href="#o" x="749.1" y="581.2"/><use href="#o" x="815.4" y="562.4"/><use href="#o" x="752.5" y="692.8"/><use href="#p" x="682.1" y="145.1"/><use href="#p" x="901.6" y="752.6"/><use href="#p" x="960.4" y="650.2"/><use href="#p" x="864.9" y="565.6"/><use href="#o" x="924.5" y="564.7"/>
<use href="#p" x="643.7" y="122.7"/><use href="#p" x="770.2" y="634.7"/><use href="#p" x="847.4" y="720.0"/><use href="#p" x="313.6" y="135.7"/><use href="#p" x="756.4" y="586.7"/><use href="#p" x="209.0" y="280.9"/><use href="#o" x="193.6" y="720.7"/><use href="#p" x="139.9" y="505.0"/>
<use href="#p" x="249.8" y="323.9"/><use href="#p" x="787.2" y="546.2"/><use href="#o" x="926.9" y="574.6"/><use href="#o" x="283.1" y="640.5"/><use href="#o" x="941.3" y="724.5"/><use href="#p" x="792.6" y="594.7"/><use href="#p" x="184.1" y="528.0"/><use href="#o" x="913.7" y="640.0"/>
<use href="#p" x="273.5" y="479.4"/><use href="#p" x="324.8" y="127.6"/><use href="#p" x="282.1" y="530.8"/><use href="#o" x="920.2" y="551.2"/><use href="#o" x="913.4" y="626.7"/><use href="#o" x="896.7" y="611.3"/><use href="#o" x="770.8" y="710.7"/><use href="#o" x="151.0" y="506.5"/>
<use href="#p" x="681.5" y="171.8"/><use href="#o" x="240.0" y="674.3"/><use href="#o" x="936.3" y="600.1"/><use href="#o" x="817.4" y="805.7"/><use href="#o" x="206.6" y="585.3"/><use href="#p" x="727.0" y="684.7"/><use href="#p" x="206.6" y="354.8"/><use href="#p" x="308.4" y="163.1"/>
<use href="#o" x="740.2" y="740.8"/><use href="#o" x="223.0" y="593.1"/><use href="#p" x="250.7" y="136.7"/><use href="#o" x="754.0" y="631.9"/><use href="#o" x="232.3" y="650.8"/><use href="#o" x="917.1" y="692.4"/><use href="#o" x="748.3" y="817.6"/><use href="#o" x="256.7" y="472.0"/>
<use href="#o" x="835.9" y="770.9"/><use href="#p" x="826.8" y="407.8"/><use href="#o" x="148.0" y="506.8"/><use href="#p" x="264.6" y="109.9"/><use href="#p" x="955.8" y="579.1"/><use href="#p" x="716.9" y="209.5"/><use href="#o" x="166.3" y="586.0"/><use href="#o" x="832.9" y="457.3"/>
<use href="#o" x="175.8" y="605.1"/><use href="#p" x="269.6" y="116.5"/><use href="#o" x="741.4" y="770.5"/><use href="#p" x="250.6" y="451.2"/><use href="#p" x="137.3" y="477.2"/><use href="#p" x="232.2" y="706.7"/><use href="#o" x="193.0" y="610.0"/><use href="#p" x="208.6" y="455.7"/>
<use href="#p" x="847.3" y="420.2"/><use href="#o" x="967.9" y="437.7"/><use href="#o" x="827.7" y="700.9"/><use href="#p" x="782.1" y="630.3"/><use href="#p" x="896.9" y="365.5"/><use href="#p" x="762.6" y="801.6"/><use href="#o" x="778.9" y="761.8"/><use href="#p" x="846.4" y="599.1"/>
<use href="#p" x="241.1" y="80.6"/><use href="#p" x="189.3" y="481.1"/><use href="#p" x="297.1" y="80.3"/><use href="#p" x="742.8" y="704.9"/><use href="#o" x="943.3" y="697.7"/><use href="#p" x="914.2" y="626.3"/><use href="#o" x="785.5" y="682.7"/><use href="#o" x="964.9" y="575.7"/>
<use href="#p" x="191.5" y="438.3"/><use href="#o" x="789.2" y="818.6"/><use href="#p" x="256.8" y="387.4"/><use href="#o" x="942.0" y="396.4"/><use href="#o" x="727.3" y="745.9"/><use href="#o" x="138.1" y="535.0"/><use href="#p" x="272.7" y="454.5"/><use href="#p" x="646.9" y="121.9"/>
<use href="#p" x="272.0" y="77.8"/><use href="#o" x="952.5" y="486.2"/><use href="#p" x="821.6" y="534.5"/><use href="#o" x="927.6" y="713.2"/><use href="#p" x="255.1" y="504.9"/><use href="#o" x="927.6" y="602.5"/><use href="#p" x="243.8" y="119.0"/><use href="#p" x="246.0" y="649.5"/>
<use href="#o" x="230.7" y="517.3"/><use href="#o" x="211.8" y="464.1"/><use href="#p" x="229.0" y="290.7"/><use href="#o" x="268.0" y="517.1"/><use href="#p" x="239.9" y="345.6"/><use href="#o" x="275.7" y="625.1"/><use href="#p" x="242.0" y="508.4"/><use href="#o" x="768.0" y="833.1"/>
<use href="#o" x="728.3" y="704.6"/><use href="#p" x="920.9" y="547.8"/><use href="#o" x="214.4" y="589.8"/><use href="#o" x="769.6" y="591.6"/><use href="#o" x="781.8" y="444.0"/><use href="#p" x="702.0" y="216.7"/><use href="#o" x="838.6" y="451.8"/><use href="#p" x="294.8" y="611.8"/>
<use href="#o" x="958.4" y="618.7"/><use href="#o" x="976.5" y="605.4"/><use href="#p" x="251.4" y="149.4"/><use href="#p" x="878.3" y="734.4"/><use href="#p" x="680.9" y="176.3"/><use href="#p" x="163.8" y="546.5"/><use href="#o" x="938.2" y="739.3"/><use href="#o" x="962.2" y="431.0"/>
<use href="#p" x="255.6" y="438.8"/><use href="#o" x="196.1" y="650.5"/><use href="#o" x="276.3" y="453.9"/><use href="#o" x="924.1" y="700.4"/><use href="#o" x="247.5" y="655.7"/><use href="#p" x="179.1" y="707.4"/><use href="#p" x="889.1" y="747.2"/><use href="#p" x="259.4" y="167.4"/>
<use href="#o" x="214.8" y="539.6"/><use href="#o" x="155.7" y="446.6"/><use href="#o" x="186.0" y="612.4"/><use href="#p" x="132.8" y="548.4"/><use href="#p" x="240.9" y="138.6"/><use href="#p" x="257.5" y="87.4"/><use href="#o" x="885.1" y="664.9"/><use href="#o" x="923.0" y="760.7"/>
<use href="#o" x="900.8" y="686.9"/><use href="#o" x="157.7" y="597.8"/><use href="#p" x="707.2" y="183.6"/><use href="#p" x="303.1" y="537.8"/><use href="#o" x="277.5" y="622.4"/><use href="#o" x="913.2" y="681.2"/><use href="#o" x="963.7" y="436.5"/><use href="#p" x="901.1" y="403.5"/>
<use href="#o" x="952.9" y="513.4"/><use href="#o" x="212.8" y="693.3"/><use href="#o" x="885.7" y="725.5"/><use href="#p" x="767.2" y="625.7"/><use href="#o" x="168.4" y="568.6"/><use href="#o" x="935.0" y="585.5"/><use href="#o" x="910.5" y="688.5"/><use href="#o" x="179.9" y="439.7"/>
<use href="#p" x="807.9" y="646.9"/><use href="#o" x="822.8" y="713.7"/><use href="#o" x="279.3" y="599.0"/><use href="#p" x="201.6" y="477.9"/><use href="#o" x="799.4" y="473.0"/><use href="#p" x="300.0" y="204.4"/><use href="#p" x="875.5" y="729.4"/><use href="#p" x="187.3" y="367.6"/>
<use href="#o" x="744.2" y="802.8"/><use href="#o" x="129.2" y="517.1"/><use href="#o" x="165.5" y="665.7"/><use href="#o" x="958.2" y="551.7"/><use href="#p" x="209.5" y="634.8"/><use href="#o" x="726.5" y="738.5"/><use href="#o" x="190.8" y="493.7"/><use href="#o" x="936.4" y="696.0"/>
<use href="#p" x="881.8" y="655.7"/><use href="#o" x="913.2" y="757.8"/><use href="#o" x="905.6" y="403.3"/><use href="#p" x="169.1" y="393.1"/><use href="#p" x="221.1" y="572.0"/><use href="#p" x="261.8" y="375.2"/><use href="#p" x="803.3" y="535.1"/><use href="#p" x="260.3" y="405.7"/>
<use href="#o" x="159.2" y="654.9"/><use href="#o" x="196.7" y="691.8"/><use href="#o" x="655.0" y="156.0"/><use href="#p" x="208.9" y="283.4"/><use href="#o" x="804.3" y="440.7"/><use href="#p" x="914.7" y="481.7"/><use href="#o" x="955.9" y="467.0"/><use href="#o" x="960.5" y="639.3"/>
<use href="#p" x="789.3" y="638.0"/><use href="#o" x="945.4" y="534.0"/><use href="#o" x="288.3" y="163.0"/><use href="#p" x="658.3" y="200.6"/><use href="#o" x="742.7" y="751.7"/><use href="#o" x="731.2" y="754.4"/><use href="#p" x="213.1" y="292.1"/><use href="#p" x="919.1" y="371.8"/>
<use href="#p" x="828.3" y="766.6"/><use href="#p" x="939.7" y="469.9"/><use href="#o" x="198.1" y="614.8"/><use href="#o" x="922.3" y="679.2"/><use href="#o" x="916.8" y="710.5"/><use href="#p" x="215.7" y="409.0"/><use href="#o" x="917.1" y="693.7"/><use href="#p" x="844.3" y="442.0"/>
<use href="#o" x="269.2" y="562.6"/><use href="#o" x="931.6" y="557.0"/><use href="#p" x="767.3" y="694.5"/><use href="#p" x="880.3" y="739.5"/><use href="#p" x="252.1" y="164.4"/><use href="#o" x="126.5" y="531.0"/><use href="#p" x="238.4" y="640.5"/><use href="#o" x="791.4" y="714.8"/>
<use href="#p" x="814.3" y="610.3"/><use href="#o" x="952.9" y="478.6"/><use href="#o" x="751.0" y="617.9"/><use href="#p" x="272.9" y="142.7"/><use href="#o" x="255.3" y="625.2"/><use href="#o" x="947.1" y="718.3"/><use href="#p" x="224.5" y="673.3"/><use href="#o" x="721.2" y="649.9"/>
<use href="#o" x="248.7" y="624.8"/><use href="#p" x="277.9" y="61.9"/><use href="#o" x="893.1" y="649.3"/><use href="#o" x="734.1" y="641.1"/><use href="#o" x="801.5" y="701.8"/><use href="#o" x="889.9" y="699.6"/><use href="#o" x="231.0" y="478.0"/><use href="#o" x="135.1" y="496.7"/>
<use href="#p" x="272.8" y="145.8"/><use href="#p" x="222.6" y="412.3"/><use href="#o" x="967.9" y="617.7"/><use href="#o" x="839.9" y="586.2"/><use href="#p" x="245.7" y="104.5"/><use href="#o" x="908.9" y="718.9"/><use href="#p" x="876.0" y="718.8"/><use href="#o" x="716.3" y="641.3"/>
<use href="#p" x="189.0" y="432.3"/><use href="#p" x="883.2" y="491.8"/><use href="#o" x="146.0" y="537.5"/><use href="#p" x="814.2" y="604.4"/><use href="#p" x="234.4" y="584.8"/><use href="#p" x="276.2" y="215.6"/><use href="#p" x="287.3" y="77.7"/><use href="#p" x="269.2" y="432.1"/>
<use href="#p" x="729.3" y="669.2"/><use href="#o" x="720.9" y="700.7"/><use href="#o" x="777.3" y="825.6"/><use href="#p" x="169.1" y="468.5"/><use href="#o" x="922.3" y="665.0"/><use href="#o" x="167.0" y="679.8"/><use href="#p" x="765.4" y="641.8"/><use href="#p" x="714.1" y="203.9"/>
<use href="#p" x="269.8" y="497.8"/><use href="#o" x="722.3" y="641.8"/><use href="#p" x="240.0" y="150.0"/><use href="#o" x="240.9" y="588.5"/><use href="#o" x="746.9" y="764.1"/><use href="#p" x="889.6" y="685.0"/><use href="#o" x="735.7" y="681.8"/><use href="#o" x="144.6" y="594.4"/>
<use href="#o" x="202.6" y="688.4"/><use href="#o" x="965.9" y="431.8"/><use href="#p" x="904.2" y="452.9"/><use href="#p" x="684.5" y="138.6"/><use href="#o" x="910.7" y="732.4"/><use href="#o" x="276.8" y="621.6"/><use href="#p" x="806.8" y="688.7"/><use href="#p" x="868.7" y="502.2"/>
<use href="#o" x="912.3" y="659.1"/><use href="#p" x="686.4" y="103.6"/><use href="#p" x="251.4" y="107.5"/><use href="#p" x="767.3" y="505.3"/><use href="#o" x="941.2" y="567.4"/><use href="#p" x="977.2" y="583.7"/><use href="#o" x="906.5" y="573.5"/><use href="#o" x="216.3" y="599.9"/>
<use href="#p" x="759.8" y="566.6"/><use href="#o" x="749.0" y="640.6"/><use href="#o" x="194.0" y="317.0"/><use href="#o" x="811.7" y="750.9"/><use href="#o" x="712.5" y="115.0"/><use href="#o" x="673.8" y="82.5"/><use href="#p" x="917.0" y="442.5"/><use href="#p" x="941.9" y="717.5"/>
<use href="#o" x="168.0" y="553.7"/><use href="#p" x="247.1" y="552.3"/><use href="#o" x="255.4" y="463.7"/><use href="#p" x="239.9" y="306.1"/><use href="#o" x="239.9" y="691.3"/><use href="#o" x="900.4" y="688.0"/><use href="#p" x="248.0" y="152.7"/><use href="#p" x="296.4" y="568.0"/>
<use href="#p" x="253.9" y="115.8"/><use href="#o" x="974.2" y="529.8"/><use href="#o" x="263.7" y="604.4"/><use href="#o" x="219.0" y="690.4"/><use href="#o" x="947.5" y="513.2"/><use href="#p" x="927.0" y="743.8"/><use href="#o" x="946.9" y="573.9"/><use href="#p" x="282.0" y="576.2"/>
<use href="#p" x="263.2" y="140.3"/><use href="#p" x="261.6" y="640.6"/><use href="#o" x="954.7" y="583.5"/><use href="#p" x="225.7" y="422.7"/><use href="#p" x="310.9" y="132.8"/><use href="#o" x="975.7" y="612.7"/><use href="#p" x="235.9" y="326.4"/><use href="#o" x="253.2" y="681.9"/>
<use href="#o" x="285.5" y="594.9"/><use href="#o" x="206.0" y="520.4"/><use href="#p" x="133.5" y="475.9"/><use href="#p" x="691.4" y="132.6"/><use href="#p" x="782.8" y="521.2"/><use href="#o" x="731.4" y="737.6"/><use href="#p" x="268.9" y="66.8"/><use href="#o" x="915.6" y="647.9"/>
<use href="#o" x="221.4" y="707.5"/><use href="#p" x="910.9" y="540.8"/><use href="#p" x="212.1" y="362.3"/><use href="#o" x="250.4" y="549.8"/><use href="#o" x="739.2" y="485.0"/><use href="#p" x="978.2" y="517.4"/><use href="#o" x="181.8" y="714.9"/><use href="#o" x="276.8" y="658.9"/>
<use href="#p" x="692.3" y="145.4"/><use href="#p" x="827.0" y="622.1"/><use href="#p" x="255.4" y="125.7"/><use href="#o" x="931.4" y="454.2"/><use href="#p" x="288.9" y="518.7"/><use href="#p" x="213.9" y="275.3"/><use href="#p" x="967.5" y="603.9"/><use href="#p" x="237.4" y="328.1"/>
<use href="#o" x="216.7" y="531.6"/><use href="#p" x="770.0" y="562.8"/><use href="#p" x="760.2" y="511.4"/><use href="#p" x="312.5" y="154.3"/><use href="#o" x="939.2" y="475.2"/><use href="#p" x="186.4" y="440.8"/><use href="#o" x="225.6" y="530.2"/><use href="#p" x="853.2" y="561.1"/>
<use href="#o" x="821.3" y="556.2"/><use href="#p" x="233.6" y="470.2"/><use href="#o" x="199.0" y="591.8"/><use href="#p" x="186.7" y="363.5"/><use href="#o" x="279.3" y="661.3"/><use href="#p" x="233.6" y="587.0"/><use href="#p" x="226.8" y="587.7"/><use href="#p" x="186.2" y="532.3"/>
<use href="#p" x="189.0" y="424.1"/><use href="#p" x="843.2" y="722.6"/><use href="#p" x="681.9" y="85.9"/><use href="#p" x="744.8" y="781.1"/><use href="#o" x="168.7" y="601.7"/><use href="#o" x="256.7" y="659.4"/><use href="#p" x="811.8" y="529.6"/><use href="#p" x="705.2" y="85.2"/>
<use href="#o" x="786.4" y="803.9"/><use href="#p" x="882.7" y="501.7"/><use href="#o" x="148.8" y="535.1"/><use href="#p" x="798.3" y="599.1"/><use href="#o" x="197.0" y="487.6"/><use href="#o" x="784.7" y="773.8"/><use href="#o" x="814.9" y="790.7"/><use href="#p" x="259.0" y="472.0"/>
<use href="#o" x="944.4" y="424.0"/><use href="#o" x="951.4" y="546.6"/><use href="#p" x="291.0" y="591.3"/><use href="#p" x="236.0" y="201.2"/><use href="#o" x="789.6" y="679.6"/><use href="#o" x="903.7" y="719.5"/><use href="#p" x="231.8" y="587.9"/><use href="#o" x="855.0" y="488.1"/>
<use href="#o" x="171.7" y="479.3"/><use href="#p" x="278.2" y="156.4"/><use href="#p" x="262.8" y="627.7"/><use href="#p" x="183.4" y="479.6"/><use href="#p" x="670.3" y="103.8"/><use href="#p" x="217.1" y="571.4"/><use href="#o" x="177.0" y="490.6"/><use href="#p" x="228.1" y="410.1"/>
<use href="#p" x="704.5" y="119.1"/><use href="#p" x="215.2" y="271.1"/><use href="#o" x="254.6" y="603.9"/><use href="#o" x="788.3" y="671.3"/><use href="#p" x="246.9" y="537.7"/><use href="#p" x="181.6" y="626.7"/><use href="#p" x="905.2" y="495.8"/><use href="#o" x="965.2" y="559.0"/>
<use href="#o" x="152.8" y="621.3"/><use href="#p" x="686.2" y="186.4"/><use href="#p" x="139.7" y="521.5"/><use href="#p" x="791.8" y="650.3"/><use href="#o" x="950.6" y="632.7"/><use href="#p" x="792.8" y="475.5"/><use href="#o" x="266.0" y="670.5"/><use href="#p" x="891.2" y="721.5"/>
<use href="#p" x="695.6" y="123.6"/><use href="#p" x="830.3" y="628.0"/><use href="#p" x="173.4" y="617.4"/><use href="#o" x="828.4" y="694.3"/><use href="#p" x="870.5" y="498.5"/><use href="#o" x="810.0" y="459.4"/><use href="#o" x="922.9" y="569.8"/><use href="#p" x="751.2" y="703.5"/>
<use href="#p" x="749.7" y="628.0"/><use href="#p" x="279.5" y="142.5"/><use href="#o" x="209.1" y="463.8"/><use href="#p" x="232.3" y="407.3"/><use href="#o" x="757.9" y="644.1"/><use href="#p" x="770.3" y="517.5"/><use href="#p" x="951.0" y="523.3"/><use href="#o" x="961.3" y="649.7"/>
<use href="#p" x="809.9" y="420.6"/><use href="#o" x="275.1" y="566.4"/><use href="#p" x="297.1" y="564.5"/><use href="#o" x="259.9" y="642.6"/><use href="#o" x="770.9" y="585.1"/><use href="#o" x="277.1" y="541.2"/><use href="#o" x="254.5" y="561.6"/><use href="#p" x="162.6" y="493.1"/>
<use href="#p" x="907.5" y="416.6"/><use href="#o" x="923.4" y="640.8"/><use href="#p" x="879.8" y="705.2"/><use href="#o" x="276.3" y="534.6"/><use href="#o" x="268.9" y="575.4"/><use href="#o" x="172.5" y="677.5"/><use href="#p" x="260.3" y="445.4"/><use href="#o" x="796.2" y="716.6"/>
<use href="#o" x="773.3" y="620.6"/><use href="#p" x="274.8" y="83.0"/><use href="#p" x="929.2" y="580.3"/><use href="#p" x="940.5" y="681.5"/><use href="#o" x="759.3" y="774.8"/><use href="#p" x="728.0" y="736.7"/><use href="#p" x="294.4" y="227.2"/><use href="#o" x="228.4" y="472.2"/>
<use href="#o" x="310.0" y="172.0"/><use href="#o" x="718.5" y="645.7"/><use href="#o" x="939.5" y="598.7"/><use href="#o" x="839.2" y="723.8"/><use href="#o" x="938.4" y="559.3"/><use href="#p" x="895.6" y="401.0"/><use href="#o" x="167.7" y="561.7"/><use href="#o" x="934.2" y="599.3"/>
<use href="#p" x="214.1" y="272.9"/><use href="#p" x="688.6" y="180.7"/><use href="#o" x="233.7" y="630.4"/><use href="#o" x="271.3" y="640.8"/><use href="#p" x="166.6" y="454.8"/><use href="#p" x="230.2" y="383.1"/><use href="#p" x="653.2" y="205.8"/><use href="#p" x="149.6" y="475.2"/>
<use href="#o" x="275.5" y="411.3"/><use href="#p" x="289.9" y="85.3"/><use href="#o" x="913.0" y="518.9"/><use href="#o" x="896.1" y="727.3"/><use href="#p" x="908.0" y="506.5"/><use href="#p" x="246.9" y="644.0"/><use href="#o" x="196.0" y="294.4"/><use href="#o" x="791.4" y="542.4"/>
<use href="#o" x="768.5" y="723.0"/><use href="#p" x="198.9" y="340.2"/><use href="#p" x="264.6" y="619.0"/><use href="#o" x="250.9" y="525.6"/><use href="#o" x="701.0" y="206.0"/><use href="#o" x="977.6" y="570.8"/><use href="#o" x="716.0" y="172.5"/><use href="#o" x="202.0" y="682.2"/>
<use href="#o" x="776.4" y="470.8"/><use href="#o" x="924.5" y="665.2"/><use href="#p" x="832.9" y="627.3"/><use href="#o" x="930.3" y="711.6"/><use href="#p" x="161.2" y="391.2"/><use href="#p" x="189.3" y="673.1"/><use href="#o" x="806.8" y="453.4"/><use href="#o" x="787.7" y="783.0"/>
<use href="#p" x="829.4" y="627.3"/><use href="#p" x="296.7" y="613.8"/><use href="#o" x="176.4" y="570.3"/><use href="#o" x="799.2" y="651.3"/><use href="#o" x="260.6" y="610.9"/><use href="#o" x="762.7" y="686.6"/><use href="#p" x="270.1" y="102.8"/><use href="#o" x="938.0" y="380.8"/>
<use href="#p" x="291.1" y="616.8"/><use href="#p" x="866.9" y="725.5"/><use href="#o" x="170.3" y="422.5"/><use href="#p" x="857.6" y="459.8"/><use href="#p" x="305.3" y="555.4"/><use href="#p" x="785.2" y="660.4"/><use href="#o" x="934.3" y="392.0"/><use href="#o" x="790.8" y="754.4"/>
<use href="#p" x="867.4" y="753.3"/><use href="#p" x="775.1" y="656.4"/><use href="#o" x="865.6" y="763.3"/><use href="#o" x="938.4" y="559.7"/><use href="#o" x="248.0" y="393.2"/><use href="#o" x="140.3" y="597.3"/><use href="#o" x="187.8" y="554.0"/><use href="#o" x="941.0" y="606.4"/>
<use href="#o" x="748.2" y="825.6"/><use href="#o" x="723.1" y="751.1"/><use href="#p" x="848.4" y="409.8"/><use href="#p" x="716.0" y="107.5"/><use href="#p" x="788.8" y="595.1"/><use href="#o" x="220.0" y="651.2"/><use href="#p" x="171.9" y="463.8"/><use href="#p" x="267.3" y="122.9"/>
<use href="#p" x="673.1" y="124.3"/><use href="#p" x="196.4" y="399.2"/><use href="#p" x="855.0" y="395.4"/><use href="#p" x="919.0" y="727.4"/><use href="#o" x="248.3" y="567.6"/><use href="#o" x="843.7" y="785.9"/><use href="#p" x="222.0" y="628.6"/><use href="#p" x="819.1" y="637.8"/>
<use href="#p" x="313.6" y="152.7"/><use href="#o" x="948.5" y="474.8"/><use href="#o" x="228.1" y="549.3"/><use href="#o" x="293.0" y="583.8"/><use href="#o" x="820.4" y="799.5"/><use href="#p" x="281.6" y="60.0"/><use href="#o" x="205.5" y="673.7"/><use href="#o" x="897.5" y="677.0"/>
<use href="#o" x="286.3" y="648.5"/><use href="#p" x="807.4" y="724.7"/><use href="#p" x="228.6" y="693.9"/><use href="#o" x="764.1" y="780.5"/><use href="#p" x="898.8" y="554.0"/><use href="#o" x="296.0" y="526.6"/><use href="#o" x="830.6" y="755.7"/><use href="#o" x="751.2" y="654.2"/>
<use href="#p" x="253.3" y="340.0"/><use href="#p" x="266.8" y="172.4"/><use href="#o" x="272.4" y="656.8"/><use href="#p" x="207.6" y="389.1"/><use href="#p" x="789.1" y="600.4"/><use href="#o" x="816.7" y="655.7"/><use href="#o" x="934.7" y="433.0"/><use href="#p" x="151.9" y="519.6"/>
<use href="#o" x="749.7" y="720.9"/><use href="#o" x="939.9" y="545.0"/><use href="#o" x="925.3" y="575.1"/><use href="#o" x="799.1" y="684.1"/><use href="#p" x="210.3" y="300.5"/><use href="#o" x="809.6" y="734.8"/><use href="#o" x="749.2" y="736.7"/><use href="#o" x="917.3" y="602.3"/>
<use href="#p" x="142.8" y="576.7"/><use href="#p" x="800.6" y="472.0"/><use href="#o" x="212.9" y="645.2"/><use href="#p" x="693.0" y="209.9"/><use href="#p" x="284.1" y="484.2"/><use href="#p" x="782.9" y="727.5"/><use href="#o" x="920.4" y="653.8"/><use href="#p" x="723.5" y="698.1"/>
<use href="#p" x="899.9" y="415.7"/><use href="#o" x="158.3" y="656.2"/><use href="#p" x="276.9" y="572.0"/><use href="#p" x="764.1" y="791.2"/><use href="#p" x="818.4" y="623.0"/><use href="#o" x="206.4" y="623.4"/><use href="#o" x="154.2" y="635.4"/><use href="#p" x="237.3" y="337.5"/>
<use href="#p" x="307.3" y="134.5"/><use href="#o" x="214.8" y="675.3"/><use href="#p" x="948.9" y="526.7"/><use href="#o" x="769.7" y="570.3"/><use href="#p" x="815.8" y="564.1"/><use href="#o" x="847.4" y="748.9"/><use href="#p" x="695.2" y="205.8"/><use href="#o" x="939.3" y="411.1"/>
<use href="#o" x="206.0" y="576.3"/><use href="#o" x="257.0" y="369.1"/><use href="#o" x="872.5" y="734.9"/><use href="#o" x="168.8" y="584.8"/><use href="#p" x="250.1" y="444.3"/><use href="#p" x="819.9" y="543.6"/><use href="#p" x="214.7" y="275.8"/><use href="#o" x="944.8" y="624.2"/>
<use href="#p" x="237.6" y="335.4"/><use href="#o" x="763.9" y="829.1"/><use href="#o" x="179.3" y="552.3"/><use href="#o" x="210.4" y="582.2"/><use href="#o" x="933.9" y="597.5"/><use href="#p" x="181.1" y="478.0"/><use href="#p" x="819.1" y="534.6"/><use href="#o" x="239.1" y="668.7"/>
<use href="#o" x="702.5" y="77.5"/><use href="#p" x="717.8" y="701.2"/><use href="#o" x="254.9" y="563.7"/><use href="#o" x="920.0" y="526.0"/><use href="#o" x="942.7" y="729.7"/><use href="#p" x="299.1" y="560.0"/><use href="#p" x="272.2" y="385.5"/><use href="#p" x="957.5" y="621.1"/>
<use href="#p" x="238.2" y="387.3"/><use href="#o" x="796.7" y="704.3"/><use href="#p" x="169.1" y="514.4"/><use href="#p" x="833.6" y="698.8"/><use href="#p" x="836.7" y="598.4"/><use href="#p" x="185.5" y="340.1"/><use href="#p" x="841.0" y="690.5"/><use href="#p" x="272.6" y="423.6"/>
<use href="#o" x="777.8" y="793.6"/><use href="#o" x="741.3" y="777.8"/><use href="#p" x="211.5" y="325.7"/><use href="#p" x="913.0" y="745.0"/><use href="#o" x="189.1" y="510.0"/><use href="#p" x="235.1" y="700.2"/><use href="#o" x="914.7" y="473.5"/><use href="#p" x="275.0" y="586.7"/>
<use href="#o" x="253.6" y="475.7"/><use href="#p" x="836.3" y="505.9"/><use href="#o" x="803.0" y="769.5"/><use href="#p" x="223.0" y="624.4"/><use href="#o" x="946.5" y="432.0"/><use href="#o" x="960.4" y="460.9"/><use href="#p" x="770.8" y="497.5"/><use href="#o" x="267.0" y="561.2"/>
<use href="#p" x="829.3" y="428.2"/><use href="#p" x="777.1" y="524.1"/><use href="#o" x="882.2" y="450.6"/><use href="#p" x="700.9" y="170.0"/><use href="#p" x="689.2" y="118.0"/><use href="#o" x="260.8" y="506.3"/><use href="#p" x="300.6" y="160.6"/><use href="#o" x="266.5" y="167.6"/>
<use href="#p" x="315.4" y="145.1"/><use href="#p" x="708.3" y="155.7"/><use href="#o" x="209.1" y="597.3"/><use href="#p" x="778.6" y="510.1"/><use href="#p" x="134.1" y="481.3"/><use href="#o" x="194.0" y="580.5"/><use href="#p" x="262.8" y="507.1"/><use href="#p" x="880.3" y="559.4"/>
<use href="#p" x="280.1" y="185.6"/><use href="#p" x="691.6" y="178.5"/><use href="#o" x="943.3" y="707.3"/><use href="#o" x="774.9" y="584.5"/><use href="#o" x="934.1" y="730.5"/><use href="#p" x="209.8" y="501.5"/><use href="#p" x="834.7" y="598.4"/><use href="#o" x="727.4" y="737.6"/>
<use href="#o" x="784.3" y="642.2"/><use href="#o" x="844.6" y="771.0"/><use href="#p" x="890.7" y="391.0"/><use href="#p" x="779.0" y="511.5"/><use href="#p" x="254.4" y="460.6"/><use href="#o" x="729.7" y="626.9"/><use href="#o" x="969.9" y="457.0"/><use href="#p" x="290.3" y="143.1"/>
<use href="#o" x="161.1" y="684.1"/><use href="#o" x="235.7" y="654.4"/><use href="#p" x="917.0" y="446.3"/><use href="#o" x="929.8" y="516.8"/><use href="#p" x="271.4" y="66.0"/><use href="#o" x="214.9" y="618.4"/><use href="#o" x="917.1" y="600.2"/><use href="#p" x="864.0" y="793.0"/>
<use href="#p" x="832.3" y="664.7"/><use href="#o" x="846.9" y="586.3"/><use href="#p" x="776.5" y="708.4"/><use href="#o" x="267.3" y="576.4"/><use href="#o" x="250.9" y="548.5"/><use href="#p" x="745.4" y="787.5"/><use href="#o" x="773.6" y="712.5"/><use href="#o" x="780.1" y="796.4"/>
<use href="#p" x="248.3" y="435.9"/><use href="#p" x="667.9" y="101.8"/><use href="#o" x="233.7" y="673.2"/><use href="#o" x="833.9" y="808.8"/><use href="#o" x="202.7" y="703.6"/><use href="#p" x="215.5" y="705.5"/><use href="#p" x="214.3" y="339.5"/><use href="#p" x="865.9" y="407.8"/>
<use href="#o" x="155.6" y="621.6"/><use href="#o" x="950.2" y="421.1"/><use href="#p" x="293.8" y="189.4"/><use href="#o" x="186.0" y="619.4"/><use href="#p" x="875.0" y="749.7"/><use href="#o" x="917.6" y="539.6"/><use href="#p" x="800.9" y="517.1"/><use href="#o" x="240.0" y="160.0"/>
<use href="#o" x="955.0" y="454.4"/><use href="#o" x="211.3" y="494.5"/><use href="#o" x="915.3" y="735.2"/><use href="#o" x="954.3" y="579.8"/><use href="#p" x="278.9" y="174.5"/><use href="#p" x="849.8" y="420.6"/><use href="#o" x="881.6" y="697.2"/><use href="#o" x="731.0" y="729.8"/>
<use href="#o" x="142.9" y="591.6"/><use href="#p" x="251.2" y="297.5"/><use href="#o" x="841.4" y="760.2"/><use href="#p" x="243.5" y="126.0"/><use href="#o" x="191.9" y="690.1"/><use href="#p" x="931.9" y="689.8"/><use href="#p" x="187.6" y="501.9"/><use href="#p" x="836.6" y="786.7"/>
<use href="#p" x="306.3" y="166.1"/><use href="#o" x="811.4" y="359.7"/><use href="#o" x="190.1" y="727.6"/><use href="#o" x="792.9" y="570.5"/><use href="#p" x="255.8" y="468.3"/><use href="#p" x="835.2" y="632.6"/><use href="#o" x="880.3" y="764.9"/><use href="#o" x="141.6" y="568.7"/>
<use href="#o" x="229.5" y="632.8"/><use href="#p" x="679.2" y="83.9"/><use href="#o" x="826.0" y="776.2"/><use href="#p" x="224.2" y="392.3"/><use href="#p" x="870.6" y="625.6"/><use href="#p" x="662.2" y="94.7"/><use href="#o" x="178.2" y="553.3"/><use href="#o" x="181.8" y="558.2"/>
<use href="#o" x="946.2" y="657.4"/><use href="#p" x="214.4" y="283.4"/><use href="#o" x="734.0" y="610.8"/><use href="#o" x="293.7" y="502.6"/><use href="#o" x="831.7" y="709.8"/><use href="#p" x="261.3" y="68.6"/><use href="#p" x="197.0" y="518.9"/><use href="#p" x="236.0" y="108.0"/>
<use href="#p" x="280.5" y="639.8"/><use href="#p" x="915.2" y="754.6"/><use href="#p" x="958.2" y="504.4"/><use href="#o" x="928.2" y="606.1"/><use href="#o" x="184.0" y="646.9"/><use href="#o" x="931.7" y="525.1"/><use href="#p" x="215.3" y="639.7"/><use href="#p" x="805.7" y="618.8"/>
<use href="#o" x="206.1" y="580.5"/><use href="#p" x="642.2" y="130.5"/><use href="#o" x="301.5" y="550.5"/><use href="#p" x="898.8" y="591.9"/><use href="#p" x="294.7" y="618.9"/><use href="#o" x="189.6" y="577.1"/><use href="#o" x="251.8" y="690.8"/><use href="#o" x="266.5" y="573.3"/>
<use href="#o" x="906.8" y="673.1"/><use href="#p" x="255.2" y="134.3"/><use href="#o" x="742.1" y="638.2"/><use href="#p" x="661.7" y="180.6"/><use href="#o" x="851.1" y="748.2"/><use href="#p" x="866.6" y="726.7"/><use href="#o" x="800.2" y="712.2"/><use href="#o" x="924.3" y="590.4"/>
<use href="#p" x="734.0" y="705.4"/><use href="#o" x="785.6" y="665.7"/><use href="#o" x="266.6" y="666.3"/><use href="#p" x="885.4" y="419.1"/><use href="#o" x="173.4" y="437.5"/><use href="#p" x="171.8" y="662.8"/><use href="#p" x="929.8" y="477.4"/><use href="#o" x="230.2" y="643.5"/>
<use href="#o" x="162.2" y="683.0"/><use href="#p" x="291.2" y="55.5"/><use href="#p" x="671.7" y="157.6"/><use href="#o" x="890.7" y="734.8"/><use href="#p" x="655.1" y="215.9"/><use href="#o" x="932.2" y="436.6"/><use href="#o" x="767.6" y="832.0"/><use href="#o" x="867.0" y="482.2"/>
<use href="#p" x="293.2" y="512.5"/><use href="#p" x="821.1" y="728.9"/><use href="#p" x="274.5" y="660.1"/><use href="#o" x="806.4" y="717.5"/><use href="#p" x="869.6" y="618.6"/><use href="#o" x="224.2" y="612.9"/><use href="#p" x="252.8" y="419.3"/><use href="#o" x="788.7" y="778.7"/>
<use href="#p" x="242.6" y="78.5"/><use href="#p" x="257.3" y="159.5"/><use href="#p" x="746.8" y="794.2"/><use href="#o" x="275.8" y="575.0"/><use href="#o" x="943.8" y="437.7"/><use href="#p" x="795.6" y="660.7"/><use href="#o" x="156.8" y="402.2"/><use href="#o" x="204.8" y="582.3"/>
<use href="#o" x="169.6" y="432.6"/><use href="#p" x="688.5" y="135.6"/><use href="#p" x="222.9" y="333.8"/><use href="#o" x="156.9" y="592.7"/><use href="#o" x="728.9" y="632.6"/><use href="#p" x="768.8" y="750.5"/><use href="#p" x="827.8" y="413.8"/><use href="#o" x="154.3" y="598.7"/>
<use href="#p" x="264.2" y="106.4"/><use href="#o" x="261.1" y="683.3"/><use href="#o" x="181.0" y="679.7"/><use href="#p" x="308.3" y="121.8"/><use href="#p" x="287.9" y="568.7"/><use href="#p" x="699.9" y="106.7"/><use href="#o" x="189.4" y="677.8"/><use href="#p" x="197.8" y="371.6"/>
<use href="#p" x="189.4" y="394.2"/><use href="#o" x="157.8" y="670.8"/><use href="#o" x="237.6" y="698.6"/><use href="#p" x="173.1" y="638.4"/><use href="#p" x="809.2" y="520.2"/><use href="#p" x="795.9" y="701.1"/><use href="#o" x="660.0" y="243.8"/><use href="#p" x="817.4" y="820.1"/>
<use href="#o" x="824.9" y="685.8"/><use href="#o" x="147.7" y="443.0"/><use href="#p" x="250.5" y="551.3"/><use href="#p" x="258.7" y="463.7"/><use href="#o" x="776.2" y="620.6"/><use href="#o" x="230.2" y="414.4"/><use href="#o" x="313.5" y="167.6"/><use href="#o" x="970.5" y="547.6"/>
<use href="#p" x="949.2" y="546.7"/><use href="#o" x="911.7" y="714.9"/><use href="#o" x="736.0" y="736.8"/><use href="#p" x="248.4" y="89.6"/><use href="#o" x="731.6" y="633.1"/><use href="#p" x="939.1" y="693.5"/><use href="#o" x="196.1" y="622.0"/><use href="#p" x="813.0" y="747.9"/>
<use href="#p" x="240.5" y="707.4"/><use href="#o" x="808.3" y="688.3"/><use href="#o" x="235.2" y="394.7"/><use href="#o" x="762.9" y="586.7"/><use href="#o" x="932.0" y="502.3"/><use href="#o" x="730.7" y="683.2"/><use href="#o" x="276.7" y="523.6"/><use href="#o" x="140.6" y="480.3"/>
<use href="#o" x="682.5" y="225.0"/><use href="#p" x="250.5" y="458.8"/><use href="#p" x="753.0" y="685.1"/><use href="#p" x="290.8" y="155.7"/><use href="#o" x="716.5" y="659.4"/><use href="#p" x="188.4" y="649.3"/><use href="#p" x="711.1" y="152.9"/><use href="#p" x="879.7" y="521.7"/>
<use href="#o" x="844.0" y="723.1"/><use href="#p" x="680.8" y="93.2"/><use href="#o" x="875.6" y="471.4"/><use href="#p" x="793.6" y="555.6"/><use href="#o" x="758.8" y="711.3"/><use href="#p" x="700.0" y="250.0"/><use href="#o" x="812.2" y="441.9"/><use href="#o" x="199.7" y="575.4"/>
<use href="#p" x="234.4" y="423.3"/><use href="#o" x="971.7" y="567.1"/><use href="#p" x="662.4" y="152.9"/><use href="#o" x="250.6" y="594.5"/><use href="#o" x="837.4" y="775.0"/><use href="#o" x="787.6" y="761.9"/><use href="#p" x="185.2" y="579.3"/><use href="#p" x="867.2" y="554.3"/>
<use href="#p" x="717.0" y="714.6"/><use href="#p" x="716.6" y="122.3"/><use href="#o" x="974.2" y="522.1"/><use href="#p" x="814.2" y="552.2"/><use href="#o" x="809.1" y="792.4"/><use href="#o" x="940.3" y="719.6"/><use href="#o" x="215.3" y="311.2"/><use href="#p" x="254.7" y="450.6"/>
<use href="#o" x="833.8" y="791.1"/><use href="#p" x="925.7" y="413.2"/><use href="#p" x="213.4" y="699.8"/><use href="#p" x="213.3" y="412.2"/><use href="#o" x="771.9" y="833.8"/><use href="#o" x="918.3" y="728.9"/><use href="#o" x="913.1" y="736.7"/><use href="#o" x="803.9" y="504.1"/>
<use href="#o" x="156.0" y="502.8"/><use href="#p" x="757.7" y="767.2"/><use href="#p" x="817.0" y="553.6"/><use href="#o" x="258.1" y="654.4"/><use href="#p" x="692.6" y="89.2"/><use href="#o" x="954.0" y="676.6"/><use href="#o" x="799.0" y="771.1"/><use href="#o" x="171.8" y="733.0"/>
<use href="#p" x="164.7" y="414.4"/><use href="#o" x="169.0" y="600.7"/><use href="#o" x="130.3" y="535.6"/><use href="#p" x="762.3" y="710.9"/><use href="#o" x="201.4" y="601.7"/><use href="#p" x="900.6" y="584.1"/><use href="#p" x="735.5" y="607.8"/><use href="#o" x="200.9" y="478.8"/>
<use href="#o" x="830.1" y="764.9"/><use href="#p" x="266.8" y="171.3"/><use href="#o" x="214.6" y="327.0"/><use href="#p" x="295.3" y="55.4"/><use href="#p" x="891.7" y="617.6"/><use href="#o" x="209.3" y="660.7"/><use href="#o" x="742.4" y="722.7"/><use href="#o" x="205.7" y="420.9"/>
<use href="#p" x="252.0" y="447.8"/><use href="#o" x="851.8" y="455.7"/><use href="#p" x="207.9" y="462.1"/><use href="#o" x="202.8" y="391.4"/><use href="#p" x="706.0" y="228.0"/><use href="#p" x="182.4" y="421.4"/><use href="#o" x="920.0" y="685.2"/><use href="#p" x="258.3" y="511.2"/>
<use href="#p" x="251.9" y="300.0"/><use href="#p" x="220.1" y="282.4"/><use href="#o" x="271.6" y="613.2"/><use href="#p" x="771.1" y="778.5"/><use href="#p" x="233.0" y="570.9"/><use href="#p" x="827.7" y="656.5"/><use href="#o" x="848.5" y="784.7"/><use href="#o" x="218.3" y="281.0"/>
<use href="#o" x="182.5" y="364.8"/><use href="#o" x="891.5" y="758.8"/><use href="#o" x="713.3" y="680.0"/><use href="#o" x="776.9" y="556.5"/><use href="#p" x="278.1" y="443.5"/><use href="#o" x="916.8" y="567.5"/><use href="#p" x="851.1" y="738.8"/><use href="#o" x="944.0" y="390.7"/>
<use href="#o" x="918.9" y="617.9"/><use href="#p" x="783.2" y="470.0"/><use href="#o" x="938.1" y="747.3"/><use href="#p" x="328.2" y="147.4"/><use href="#o" x="834.9" y="441.3"/><use href="#p" x="292.8" y="561.3"/><use href="#o" x="946.7" y="716.6"/><use href="#p" x="289.1" y="501.4"/>
<use href="#o" x="734.2" y="730.1"/><use href="#o" x="208.7" y="535.6"/><use href="#p" x="231.1" y="500.8"/><use href="#p" x="865.2" y="425.3"/><use href="#o" x="877.7" y="739.9"/><use href="#p" x="279.5" y="537.8"/><use href="#p" x="256.4" y="398.9"/><use href="#o" x="744.0" y="633.3"/>
<use href="#o" x="180.4" y="520.5"/><use href="#o" x="800.7" y="771.3"/><use href="#o" x="927.7" y="720.2"/><use href="#o" x="793.7" y="765.6"/><use href="#p" x="827.7" y="807.5"/><use href="#o" x="810.9" y="805.8"/><use href="#p" x="892.6" y="378.0"/><use href="#p" x="201.3" y="681.7"/>
<use href="#p" x="236.6" y="585.7"/><use href="#p" x="781.4" y="594.7"/><use href="#o" x="769.7" y="820.3"/><use href="#p" x="645.2" y="137.7"/><use href="#o" x="848.0" y="789.1"/><use href="#p" x="931.7" y="657.1"/><use href="#o" x="921.5" y="770.0"/><use href="#p" x="650.7" y="138.7"/>
<use href="#o" x="267.4" y="598.3"/><use href="#p" x="272.5" y="460.1"/><use href="#o" x="236.9" y="649.6"/><use href="#o" x="223.9" y="711.9"/><use href="#p" x="268.4" y="583.8"/><use href="#o" x="776.3" y="665.3"/><use href="#p" x="682.1" y="218.6"/><use href="#o" x="237.9" y="650.8"/>
<use href="#o" x="937.4" y="592.3"/><use href="#p" x="765.7" y="768.0"/><use href="#p" x="841.1" y="734.2"/><use href="#o" x="802.6" y="807.3"/><use href="#p" x="279.6" y="425.3"/><use href="#p" x="237.5" y="192.5"/><use href="#o" x="722.0" y="140.0"/><use href="#o" x="279.2" y="655.6"/>
<use href="#p" x="303.0" y="145.7"/><use href="#o" x="780.6" y="756.4"/><use href="#o" x="967.8" y="520.2"/><use href="#o" x="896.6" y="676.4"/><use href="#p" x="283.3" y="91.7"/><use href="#p" x="835.9" y="605.0"/><use href="#o" x="955.4" y="486.6"/><use href="#p" x="890.9" y="680.3"/>
<use href="#o" x="776.4" y="672.0"/><use href="#o" x="729.1" y="642.1"/><use href="#o" x="192.0" y="705.9"/><use href="#p" x="279.4" y="455.1"/><use href="#o" x="811.0" y="769.6"/><use href="#p" x="324.9" y="153.5"/><use href="#o" x="738.5" y="740.7"/><use href="#p" x="272.1" y="114.3"/>
<use href="#o" x="171.7" y="625.1"/><use href="#o" x="762.6" y="784.2"/><use href="#p" x="868.8" y="746.8"/><use href="#o" x="205.8" y="563.6"/><use href="#o" x="242.0" y="648.9"/><use href="#o" x="749.6" y="664.5"/><use href="#p" x="177.4" y="391.3"/><use href="#o" x="931.8" y="531.7"/>
<use href="#p" x="813.8" y="646.3"/><use href="#o" x="842.8" y="730.3"/><use href="#p" x="682.2" y="96.0"/><use href="#o" x="223.4" y="655.2"/><use href="#o" x="920.7" y="584.2"/><use href="#p" x="247.6" y="326.1"/><use href="#p" x="139.9" y="507.5"/><use href="#o" x="735.3" y="734.1"/>
<use href="#o" x="225.5" y="593.7"/><use href="#p" x="207.8" y="464.6"/><use href="#o" x="762.1" y="498.8"/><use href="#o" x="799.5" y="693.2"/><use href="#p" x="212.1" y="588.1"/><use href="#p" x="771.0" y="647.0"/><use href="#o" x="849.8" y="452.5"/><use href="#p" x="233.2" y="693.8"/>
<use href="#o" x="197.7" y="470.7"/><use href="#o" x="212.7" y="539.2"/><use href="#p" x="229.1" y="548.1"/><use href="#p" x="820.4" y="751.5"/><use href="#o" x="168.3" y="600.8"/><use href="#o" x="196.9" y="562.2"/><use href="#p" x="189.0" y="529.3"/><use href="#p" x="241.0" y="499.9"/>
<use href="#p" x="716.0" y="208.4"/><use href="#p" x="787.0" y="475.5"/><use href="#o" x="814.7" y="450.2"/><use href="#p" x="883.8" y="601.7"/><use href="#o" x="971.1" y="471.6"/><use href="#p" x="267.6" y="88.7"/><use href="#o" x="727.5" y="644.6"/><use href="#p" x="673.4" y="140.4"/>
<use href="#o" x="866.8" y="723.3"/><use href="#p" x="788.8" y="448.7"/><use href="#o" x="953.2" y="678.8"/><use href="#p" x="898.7" y="602.3"/><use href="#o" x="263.0" y="527.3"/><use href="#o" x="186.4" y="718.8"/><use href="#p" x="314.6" y="104.7"/><use href="#p" x="336.1" y="148.7"/>
<use href="#p" x="184.7" y="416.0"/><use href="#o" x="890.3" y="419.5"/><use href="#p" x="207.1" y="573.0"/><use href="#p" x="786.8" y="621.3"/><use href="#o" x="247.2" y="623.5"/><use href="#p" x="292.0" y="153.6"/><use href="#p" x="273.3" y="401.1"/><use href="#o" x="912.5" y="653.5"/>
<use href="#p" x="827.6" y="461.3"/><use href="#o" x="247.7" y="590.4"/><use href="#p" x="213.5" y="287.6"/><use href="#p" x="292.0" y="64.0"/><use href="#p" x="941.3" y="631.9"/><use href="#p" x="741.4" y="810.5"/><use href="#p" x="285.1" y="151.7"/><use href="#o" x="198.0" y="300.0"/>
<use href="#p" x="793.2" y="587.9"/><use href="#p" x="125.1" y="521.5"/><use href="#p" x="969.8" y="516.5"/><use href="#p" x="761.1" y="722.6"/><use href="#o" x="197.7" y="542.6"/><use href="#o" x="922.7" y="558.6"/><use href="#p" x="709.1" y="127.7"/><use href="#p" x="804.9" y="423.7"/>
<use href="#o" x="815.2" y="754.0"/><use href="#p" x="192.7" y="399.1"/><use href="#p" x="682.8" y="172.5"/><use href="#p" x="803.8" y="651.8"/><use href="#o" x="778.6" y="782.8"/><use href="#o" x="280.3" y="141.2"/><use href="#p" x="885.4" y="546.1"/><use href="#p" x="815.4" y="666.6"/>
<use href="#o" x="266.0" y="672.9"/><use href="#o" x="327.3" y="127.5"/><use href="#o" x="291.7" y="111.4"/><use href="#o" x="766.5" y="793.5"/><use href="#p" x="296.2" y="554.0"/><use href="#p" x="663.3" y="189.3"/><use href="#o" x="819.8" y="707.6"/><use href="#o" x="974.0" y="453.9"/>
<use href="#p" x="718.6" y="176.3"/><use href="#p" x="299.3" y="405.8"/><use href="#o" x="951.2" y="569.2"/><use href="#o" x="223.2" y="401.5"/><use href="#p" x="212.6" y="461.7"/><use href="#p" x="840.8" y="618.0"/><use href="#o" x="948.9" y="410.9"/><use href="#p" x="249.6" y="153.7"/>
<use href="#p" x="958.5" y="634.4"/><use href="#o" x="209.6" y="610.7"/><use href="#p" x="809.2" y="601.5"/><use href="#p" x="664.4" y="175.4"/><use href="#p" x="901.4" y="699.8"/><use href="#o" x="165.4" y="512.6"/><use href="#p" x="158.6" y="557.3"/><use href="#o" x="744.1" y="733.4"/>
<use href="#o" x="165.9" y="607.8"/><use href="#o" x="833.9" y="776.4"/><use href="#p" x="204.9" y="642.2"/><use href="#p" x="291.4" y="165.8"/><use href="#o" x="227.6" y="601.0"/><use href="#o" x="183.7" y="549.0"/><use href="#o" x="781.9" y="805.9"/><use href="#p" x="261.6" y="559.0"/>
<use href="#p" x="976.6" y="464.1"/><use href="#o" x="224.7" y="559.3"/><use href="#p" x="857.9" y="593.5"/><use href="#p" x="831.3" y="432.1"/><use href="#o" x="809.3" y="455.3"/><use href="#p" x="935.3" y="674.9"/><use href="#p" x="296.9" y="137.9"/><use href="#p" x="676.5" y="200.2"/>
<use href="#o" x="837.0" y="748.4"/><use href="#p" x="236.3" y="375.4"/><use href="#o" x="165.1" y="579.0"/><use href="#o" x="712.6" y="669.3"/><use href="#p" x="871.1" y="507.5"/><use href="#p" x="255.6" y="97.5"/><use href="#o" x="212.8" y="460.5"/><use href="#p" x="214.1" y="381.7"/>
<use href="#o" x="156.4" y="596.5"/><use href="#o" x="184.6" y="689.5"/><use href="#o" x="190.4" y="519.2"/><use href="#p" x="262.6" y="75.3"/><use href="#p" x="277.0" y="627.2"/><use href="#o" x="970.0" y="551.6"/><use href="#p" x="888.2" y="527.8"/><use href="#o" x="831.1" y="730.6"/>
<use href="#o" x="157.6" y="652.6"/><use href="#o" x="915.9" y="718.9"/><use href="#p" x="658.6" y="178.7"/><use href="#o" x="711.0" y="103.8"/><use href="#p" x="269.3" y="133.8"/><use href="#o" x="824.9" y="799.8"/><use href="#o" x="264.1" y="387.6"/><use href="#p" x="258.5" y="100.0"/>
<use href="#p" x="319.3" y="164.6"/><use href="#o" x="803.3" y="795.9"/><use href="#p" x="661.6" y="208.4"/><use href="#p" x="779.4" y="622.1"/><use href="#p" x="818.0" y="688.2"/><use href="#p" x="785.2" y="455.7"/><use href="#p" x="249.7" y="664.2"/><use href="#p" x="781.8" y="479.2"/>
<use href="#o" x="209.5" y="390.3"/><use href="#o" x="224.6" y="554.1"/><use href="#p" x="159.3" y="457.8"/><use href="#o" x="792.4" y="806.7"/><use href="#o" x="910.2" y="598.9"/><use href="#p" x="268.9" y="577.2"/><use href="#o" x="256.7" y="563.0"/><use href="#p" x="953.3" y="412.0"/>
<use href="#o" x="769.3" y="827.5"/><use href="#o" x="910.8" y="392.8"/><use href="#p" x="256.3" y="142.2"/><use href="#p" x="259.3" y="87.1"/><use href="#o" x="206.3" y="496.2"/><use href="#p" x="202.6" y="680.0"/><use href="#o" x="902.4" y="698.7"/><use href="#p" x="710.0" y="144.8"/>
<use href="#p" x="249.3" y="141.5"/><use href="#o" x="166.7" y="554.6"/><use href="#p" x="715.4" y="198.5"/><use href="#p" x="213.2" y="265.1"/><use href="#o" x="947.0" y="625.3"/><use href="#o" x="952.0" y="626.1"/><use href="#o" x="949.7" y="617.7"/><use href="#p" x="838.8" y="572.3"/>
<use href="#p" x="774.1" y="485.9"/><use href="#p" x="276.9" y="86.4"/><use href="#o" x="945.6" y="456.7"/><use href="#p" x="268.6" y="519.4"/><use href="#p" x="771.8" y="497.7"/><use href="#o" x="248.2" y="352.4"/><use href="#o" x="239.9" y="353.0"/><use href="#o" x="274.2" y="662.6"/>
<use href="#o" x="904.2" y="709.5"/><use href="#p" x="655.5" y="215.1"/><use href="#p" x="253.0" y="292.5"/><use href="#p" x="232.0" y="610.1"/><use href="#o" x="205.0" y="561.3"/><use href="#o" x="169.0" y="691.5"/><use href="#p" x="224.2" y="629.7"/><use href="#p" x="738.3" y="700.1"/>
<use href="#o" x="817.1" y="666.5"/><use href="#p" x="804.1" y="536.6"/><use href="#p" x="267.5" y="611.4"/><use href="#p" x="695.4" y="226.7"/><use href="#o" x="874.8" y="482.5"/><use href="#p" x="807.8" y="577.4"/><use href="#o" x="859.8" y="684.6"/><use href="#p" x="186.5" y="546.3"/>
<use href="#p" x="273.9" y="406.0"/><use href="#o" x="243.2" y="368.1"/><use href="#o" x="168.4" y="446.4"/><use href="#p" x="224.0" y="270.0"/><use href="#p" x="890.7" y="598.4"/><use href="#p" x="926.9" y="555.1"/><use href="#o" x="880.4" y="723.2"/><use href="#o" x="961.5" y="452.3"/>
<use href="#p" x="701.9" y="123.7"/><use href="#p" x="778.7" y="649.5"/><use href="#o" x="258.9" y="511.1"/><use href="#o" x="221.6" y="563.0"/><use href="#o" x="134.8" y="538.4"/><use href="#p" x="290.2" y="502.7"/><use href="#o" x="149.9" y="480.6"/><use href="#p" x="914.4" y="740.8"/>
<use href="#o" x="267.6" y="186.0"/><use href="#p" x="216.7" y="633.3"/><use href="#p" x="798.9" y="510.2"/><use href="#p" x="250.0" y="255.4"/><use href="#p" x="683.5" y="170.2"/><use href="#p" x="827.2" y="428.0"/><use href="#o" x="757.3" y="759.6"/><use href="#o" x="142.2" y="609.5"/>
<use href="#p" x="759.3" y="794.8"/><use href="#o" x="223.5" y="585.0"/><use href="#p" x="211.1" y="302.2"/><use href="#o" x="190.9" y="674.0"/><use href="#o" x="912.1" y="530.7"/><use href="#o" x="175.7" y="355.8"/><use href="#o" x="656.0" y="160.0"/><use href="#o" x="168.0" y="633.2"/>
<use href="#o" x="916.0" y="576.9"/><use href="#p" x="925.0" y="681.7"/><use href="#p" x="164.1" y="410.8"/><use href="#o" x="745.9" y="622.4"/><use href="#p" x="797.9" y="579.7"/><use href="#p" x="736.2" y="727.4"/><use href="#o" x="825.7" y="725.1"/><use href="#p" x="937.2" y="592.9"/>
<use href="#o" x="165.5" y="535.6"/><use href="#p" x="179.2" y="468.4"/><use href="#o" x="976.8" y="519.6"/><use href="#p" x="309.6" y="167.2"/><use href="#p" x="228.2" y="496.2"/><use href="#o" x="906.5" y="705.6"/><use href="#o" x="862.4" y="482.9"/><use href="#p" x="238.6" y="447.1"/>
<use href="#p" x="781.0" y="526.7"/><use href="#p" x="297.3" y="607.1"/><use href="#p" x="727.4" y="175.3"/><use href="#o" x="183.5" y="575.1"/><use href="#p" x="299.8" y="537.8"/><use href="#p" x="862.9" y="685.5"/><use href="#p" x="768.6" y="545.4"/><use href="#o" x="715.0" y="128.0"/>
<use href="#o" x="775.1" y="821.1"/><use href="#p" x="216.8" y="661.2"/><use href="#p" x="713.0" y="215.0"/><use href="#p" x="864.2" y="766.8"/><use href="#o" x="969.0" y="519.4"/><use href="#p" x="941.7" y="581.1"/><use href="#o" x="189.2" y="618.4"/><use href="#p" x="745.4" y="795.9"/>
<use href="#o" x="732.2" y="652.3"/><use href="#p" x="260.3" y="474.0"/><use href="#o" x="263.5" y="592.3"/><use href="#o" x="243.0" y="164.0"/><use href="#o" x="885.2" y="758.9"/><use href="#o" x="771.5" y="812.1"/><use href="#o" x="154.5" y="526.6"/><use href="#o" x="745.4" y="674.0"/>
<use href="#p" x="230.1" y="510.7"/><use href="#p" x="171.6" y="418.2"/><use href="#p" x="273.6" y="180.4"/><use href="#p" x="655.3" y="125.3"/><use href="#p" x="856.4" y="598.1"/><use href="#p" x="741.2" y="704.1"/><use href="#o" x="822.4" y="710.6"/><use href="#p" x="659.5" y="141.9"/>
<use href="#p" x="252.8" y="291.5"/><use href="#p" x="242.6" y="434.2"/><use href="#p" x="937.3" y="489.7"/><use href="#p" x="847.9" y="571.7"/><use href="#p" x="691.8" y="118.2"/><use href="#o" x="249.8" y="484.3"/><use href="#p" x="233.9" y="326.4"/><use href="#o" x="246.3" y="623.4"/>
<use href="#o" x="935.0" y="684.2"/><use href="#o" x="749.6" y="573.4"/><use href="#o" x="926.9" y="522.3"/><use href="#o" x="725.0" y="150.0"/><use href="#p" x="875.4" y="560.2"/><use href="#o" x="764.9" y="546.1"/><use href="#o" x="961.7" y="536.8"/><use href="#o" x="173.6" y="603.3"/>
<use href="#p" x="701.1" y="191.6"/><use href="#o" x="246.6" y="477.8"/><use href="#p" x="173.5" y="357.2"/><use href="#p" x="896.4" y="408.4"/><use href="#o" x="744.0" y="591.8"/><use href="#p" x="805.2" y="523.3"/><use href="#o" x="257.3" y="369.9"/><use href="#p" x="276.1" y="495.6"/>
<use href="#o" x="975.7" y="548.5"/><use href="#o" x="229.1" y="563.9"/><use href="#o" x="746.7" y="670.4"/><use href="#p" x="136.7" y="578.5"/><use href="#o" x="807.1" y="708.8"/><use href="#o" x="858.6" y="586.5"/><use href="#p" x="769.5" y="594.3"/><use href="#o" x="795.6" y="798.8"/>
<use href="#o" x="790.5" y="792.8"/><use href="#o" x="915.3" y="480.1"/><use href="#o" x="157.2" y="602.6"/><use href="#o" x="139.6" y="488.1"/><use href="#p" x="271.4" y="155.4"/><use href="#p" x="798.0" y="818.9"/><use href="#o" x="971.0" y="473.8"/><use href="#p" x="774.2" y="539.2"/>
<use href="#p" x="159.9" y="444.6"/><use href="#o" x="804.0" y="608.6"/><use href="#p" x="324.6" y="143.2"/><use href="#o" x="214.9" y="487.7"/><use href="#p" x="778.7" y="623.7"/><use href="#p" x="698.5" y="123.3"/><use href="#o" x="839.0" y="693.5"/><use href="#p" x="789.8" y="563.3"/>
<use href="#o" x="223.2" y="424.8"/><use href="#p" x="242.9" y="646.1"/><use href="#o" x="252.2" y="648.9"/><use href="#p" x="286.9" y="64.8"/><use href="#p" x="284.6" y="473.4"/><use href="#o" x="883.4" y="496.7"/><use href="#p" x="717.3" y="165.2"/><use href="#o" x="182.2" y="669.6"/>
<use href="#o" x="258.7" y="636.8"/><use href="#p" x="787.7" y="528.7"/><use href="#o" x="943.2" y="533.6"/><use href="#p" x="837.1" y="537.5"/><use href="#p" x="853.6" y="409.9"/><use href="#p" x="875.3" y="484.5"/><use href="#p" x="336.6" y="153.3"/><use href="#p" x="273.3" y="179.5"/>
<use href="#p" x="886.0" y="757.4"/><use href="#o" x="961.3" y="535.7"/><use href="#p" x="759.5" y="509.0"/><use href="#o" x="959.0" y="446.8"/><use href="#o" x="931.8" y="540.7"/><use href="#p" x="282.3" y="605.6"/><use href="#o" x="939.9" y="646.3"/><use href="#p" x="253.5" y="88.1"/>
<use href="#p" x="214.1" y="696.4"/><use href="#p" x="174.0" y="488.9"/><use href="#o" x="185.9" y="546.3"/><use href="#p" x="272.4" y="549.4"/><use href="#o" x="764.4" y="641.0"/><use href="#o" x="934.1" y="632.4"/><use href="#p" x="250.6" y="266.2"/><use href="#o" x="143.5" y="588.6"/>
<use href="#p" x="711.8" y="144.4"/><use href="#p" x="824.3" y="586.4"/><use href="#o" x="767.2" y="801.6"/><use href="#p" x="137.3" y="549.9"/><use href="#o" x="960.2" y="456.2"/><use href="#o" x="260.7" y="500.5"/><use href="#p" x="731.3" y="625.4"/><use href="#p" x="911.3" y="515.7"/>
<use href="#p" x="276.9" y="89.5"/><use href="#p" x="824.6" y="754.6"/><use href="#p" x="868.1" y="517.6"/><use href="#p" x="873.9" y="611.7"/><use href="#o" x="904.6" y="571.0"/><use href="#o" x="764.3" y="759.4"/><use href="#p" x="275.2" y="438.8"/><use href="#o" x="833.9" y="754.7"/>
<use href="#o" x="169.6" y="603.1"/><use href="#o" x="738.8" y="632.6"/><use href="#o" x="921.5" y="529.1"/><use href="#o" x="929.7" y="673.4"/><use href="#p" x="279.0" y="453.3"/><use href="#o" x="301.5" y="201.9"/><use href="#p" x="674.4" y="115.1"/><use href="#p" x="699.9" y="212.5"/>
<use href="#o" x="809.9" y="686.9"/><use href="#p" x="294.0" y="445.0"/><use href="#p" x="906.6" y="489.3"/><use href="#o" x="802.3" y="777.3"/><use href="#o" x="149.0" y="575.8"/><use href="#p" x="795.7" y="518.9"/><use href="#o" x="185.4" y="687.6"/><use href="#o" x="731.3" y="644.0"/>
<use href="#p" x="679.5" y="205.8"/><use href="#p" x="713.9" y="95.8"/><use href="#o" x="925.6" y="558.2"/><use href="#p" x="269.0" y="395.2"/><use href="#o" x="944.0" y="528.1"/><use href="#o" x="942.7" y="588.8"/><use href="#p" x="907.7" y="367.2"/><use href="#p" x="282.1" y="650.8"/>
<use href="#p" x="772.4" y="696.0"/><use href="#p" x="190.1" y="532.0"/><use href="#o" x="914.4" y="678.4"/><use href="#p" x="160.2" y="599.4"/><use href="#p" x="936.7" y="702.0"/><use href="#p" x="245.0" y="406.9"/><use href="#o" x="945.7" y="580.0"/><use href="#o" x="892.4" y="668.1"/>
<use href="#p" x="285.7" y="80.4"/><use href="#p" x="284.9" y="88.0"/><use href="#o" x="782.0" y="574.1"/><use href="#p" x="230.1" y="601.5"/><use href="#p" x="907.0" y="741.9"/><use href="#p" x="797.9" y="532.5"/><use href="#o" x="955.8" y="639.6"/><use href="#o" x="265.1" y="495.7"/>
<use href="#o" x="939.2" y="467.1"/><use href="#o" x="182.1" y="558.4"/><use href="#o" x="159.4" y="586.3"/><use href="#o" x="915.5" y="670.8"/><use href="#o" x="913.0" y="649.5"/><use href="#p" x="856.0" y="719.6"/><use href="#p" x="682.8" y="204.3"/><use href="#o" x="912.8" y="633.1"/>
<use href="#p" x="235.4" y="324.5"/><use href="#o" x="205.3" y="648.5"/><use href="#p" x="900.5" y="588.3"/><use href="#p" x="252.7" y="129.6"/><use href="#p" x="797.3" y="792.1"/><use href="#p" x="762.6" y="537.5"/><use href="#o" x="305.5" y="79.3"/><use href="#p" x="291.9" y="513.9"/>
<use href="#p" x="277.9" y="613.8"/><use href="#o" x="737.3" y="744.5"/><use href="#p" x="272.5" y="209.4"/><use href="#o" x="942.4" y="710.9"/><use href="#p" x="801.0" y="829.7"/><use href="#p" x="805.1" y="401.4"/><use href="#o" x="798.7" y="708.0"/><use href="#o" x="747.6" y="610.3"/>
<use href="#p" x="767.3" y="516.9"/><use href="#p" x="763.2" y="618.7"/><use href="#p" x="280.9" y="411.4"/><use href="#p" x="809.3" y="815.0"/><use href="#o" x="731.0" y="186.0"/><use href="#o" x="977.4" y="527.4"/><use href="#o" x="723.8" y="167.5"/><use href="#p" x="270.4" y="512.4"/>
<use href="#o" x="215.0" y="656.1"/><use href="#o" x="931.9" y="603.9"/><use href="#p" x="658.4" y="158.8"/><use href="#p" x="920.6" y="377.0"/><use href="#o" x="893.7" y="735.7"/><use href="#p" x="282.6" y="490.8"/><use href="#p" x="789.1" y="467.7"/><use href="#p" x="694.0" y="196.8"/>
<use href="#o" x="219.1" y="602.4"/><use href="#p" x="277.9" y="104.8"/><use href="#o" x="166.0" y="681.7"/><use href="#o" x="245.9" y="155.0"/><use href="#o" x="239.1" y="563.3"/><use href="#p" x="675.1" y="89.7"/><use href="#o" x="779.1" y="765.9"/><use href="#o" x="834.8" y="701.3"/>
<use href="#o" x="975.1" y="547.9"/><use href="#p" x="198.0" y="703.6"/><use href="#o" x="948.7" y="435.5"/><use href="#o" x="255.1" y="605.4"/><use href="#o" x="658.8" y="137.5"/><use href="#o" x="774.3" y="562.7"/><use href="#o" x="904.5" y="558.3"/><use href="#p" x="730.7" y="713.4"/>
<use href="#p" x="273.7" y="177.1"/><use href="#p" x="283.0" y="640.3"/><use href="#o" x="195.6" y="592.5"/><use href="#p" x="788.0" y="509.4"/><use href="#o" x="766.6" y="817.4"/><use href="#o" x="879.0" y="656.1"/><use href="#p" x="764.2" y="626.2"/><use href="#p" x="680.8" y="116.2"/>
<use href="#o" x="747.1" y="594.7"/><use href="#p" x="745.7" y="753.0"/><use href="#o" x="965.8" y="566.4"/><use href="#p" x="797.0" y="816.6"/><use href="#o" x="252.3" y="580.7"/><use href="#o" x="153.5" y="434.7"/><use href="#o" x="200.0" y="541.9"/><use href="#o" x="149.8" y="599.8"/>
<use href="#o" x="230.2" y="622.1"/><use href="#o" x="168.5" y="675.9"/><use href="#o" x="164.6" y="396.2"/><use href="#p" x="758.0" y="810.1"/><use href="#o" x="887.2" y="499.4"/><use href="#p" x="820.6" y="578.5"/><use href="#p" x="667.3" y="118.5"/><use href="#p" x="228.9" y="549.1"/>
<use href="#p" x="229.6" y="547.9"/><use href="#p" x="333.2" y="152.9"/><use href="#o" x="922.1" y="754.2"/><use href="#o" x="246.8" y="469.1"/><use href="#o" x="180.2" y="693.3"/><use href="#o" x="205.0" y="687.7"/><use href="#o" x="752.0" y="760.9"/><use href="#o" x="223.5" y="650.4"/>
<use href="#o" x="912.8" y="678.2"/><use href="#p" x="891.5" y="708.5"/><use href="#p" x="818.6" y="778.9"/><use href="#o" x="931.7" y="471.4"/><use href="#o" x="726.8" y="700.0"/><use href="#p" x="275.3" y="150.7"/><use href="#o" x="827.6" y="765.3"/><use href="#p" x="920.8" y="521.5"/>
<use href="#p" x="282.9" y="643.9"/><use href="#p" x="952.4" y="457.2"/><use href="#o" x="916.5" y="684.7"/><use href="#o" x="743.2" y="783.1"/><use href="#p" x="788.9" y="830.0"/><use href="#p" x="232.0" y="580.1"/><use href="#p" x="244.8" y="366.9"/><use href="#p" x="956.1" y="426.3"/>
<use href="#o" x="945.4" y="628.1"/><use href="#p" x="662.0" y="91.3"/><use href="#o" x="698.8" y="158.8"/><use href="#p" x="937.3" y="461.0"/><use href="#o" x="244.8" y="598.9"/><use href="#p" x="297.2" y="163.0"/><use href="#p" x="745.0" y="798.1"/><use href="#o" x="236.1" y="596.4"/>
<use href="#o" x="253.3" y="640.3"/><use href="#p" x="759.7" y="719.8"/><use href="#o" x="156.7" y="590.6"/><use href="#o" x="864.0" y="726.3"/><use href="#p" x="312.2" y="99.3"/><use href="#p" x="287.1" y="64.9"/><use href="#o" x="829.9" y="454.8"/><use href="#o" x="815.0" y="733.3"/>
<use href="#o" x="145.5" y="547.1"/><use href="#o" x="956.7" y="574.8"/><use href="#p" x="757.4" y="755.3"/><use href="#o" x="720.0" y="100.0"/><use href="#o" x="145.0" y="619.9"/><use href="#p" x="305.3" y="81.5"/><use href="#o" x="185.2" y="624.5"/><use href="#o" x="766.1" y="748.8"/>
<use href="#p" x="286.1" y="70.8"/><use href="#o" x="223.1" y="629.9"/><use href="#o" x="927.3" y="682.9"/><use href="#o" x="273.4" y="514.7"/><use href="#o" x="804.7" y="802.7"/><use href="#p" x="686.0" y="262.5"/><use href="#p" x="768.0" y="752.8"/><use href="#p" x="286.5" y="494.0"/>
<use href="#p" x="197.2" y="556.2"/><use href="#p" x="855.2" y="439.7"/><use href="#p" x="658.1" y="139.1"/><use href="#o" x="786.0" y="818.1"/><use href="#p" x="246.5" y="385.0"/><use href="#p" x="705.7" y="96.4"/><use href="#o" x="770.8" y="771.9"/><use href="#o" x="726.6" y="643.8"/>
<use href="#o" x="235.9" y="385.8"/><use href="#p" x="793.7" y="640.9"/><use href="#p" x="888.8" y="455.1"/><use href="#p" x="232.4" y="681.1"/><use href="#o" x="761.4" y="819.7"/><use href="#o" x="180.1" y="626.7"/><use href="#o" x="161.7" y="628.6"/><use href="#o" x="845.4" y="421.9"/>
<use href="#p" x="804.2" y="627.0"/><use href="#p" x="251.9" y="117.1"/><use href="#o" x="261.9" y="521.9"/><use href="#o" x="263.6" y="526.0"/><use href="#p" x="253.5" y="87.8"/><use href="#o" x="861.2" y="671.2"/><use href="#p" x="798.9" y="542.1"/><use href="#o" x="162.7" y="543.3"/>
<use href="#p" x="250.3" y="163.3"/><use href="#o" x="150.0" y="529.9"/><use href="#p" x="209.5" y="292.5"/><use href="#o" x="769.4" y="484.7"/><use href="#p" x="259.5" y="107.1"/><use href="#o" x="189.9" y="404.8"/><use href="#o" x="281.6" y="651.7"/><use href="#p" x="851.0" y="765.2"/>
<use href="#o" x="157.9" y="497.1"/><use href="#p" x="795.9" y="711.1"/><use href="#p" x="236.0" y="560.8"/><use href="#o" x="912.6" y="654.0"/><use href="#o" x="785.3" y="686.5"/><use href="#p" x="697.2" y="77.8"/><use href="#o" x="186.8" y="503.2"/><use href="#o" x="215.8" y="673.7"/>
<use href="#p" x="767.1" y="512.1"/><use href="#o" x="782.0" y="685.1"/><use href="#p" x="214.9" y="350.6"/><use href="#o" x="278.8" y="607.3"/><use href="#p" x="893.2" y="397.6"/><use href="#o" x="926.3" y="378.5"/><use href="#p" x="725.3" y="118.1"/><use href="#o" x="206.7" y="576.5"/>
<use href="#o" x="763.2" y="537.9"/><use href="#o" x="783.7" y="833.6"/><use href="#p" x="222.4" y="456.7"/><use href="#p" x="886.6" y="521.4"/><use href="#o" x="151.9" y="525.1"/><use href="#o" x="242.4" y="166.4"/><use href="#o" x="149.1" y="588.1"/><use href="#o" x="786.5" y="834.4"/>
<use href="#p" x="941.1" y="686.4"/><use href="#p" x="210.0" y="354.1"/><use href="#o" x="259.7" y="386.9"/><use href="#o" x="234.1" y="559.1"/><use href="#o" x="825.4" y="746.4"/><use href="#o" x="138.8" y="538.9"/><use href="#p" x="161.0" y="448.4"/><use href="#p" x="235.9" y="641.5"/>
<use href="#o" x="931.7" y="586.5"/><use href="#o" x="209.5" y="645.8"/><use href="#o" x="766.9" y="779.2"/><use href="#p" x="241.7" y="125.2"/><use href="#o" x="254.4" y="533.0"/><use href="#o" x="931.8" y="513.0"/><use href="#p" x="949.1" y="691.8"/><use href="#p" x="882.9" y="510.9"/>
<use href="#o" x="910.5" y="395.6"/><use href="#p" x="815.8" y="505.8"/><use href="#o" x="218.3" y="544.7"/><use href="#o" x="824.4" y="766.0"/><use href="#p" x="227.5" y="426.4"/><use href="#p" x="282.5" y="562.5"/><use href="#o" x="160.4" y="594.9"/><use href="#o" x="229.1" y="523.8"/>
<use href="#o" x="207.7" y="587.8"/><use href="#p" x="798.3" y="418.3"/><use href="#o" x="735.2" y="723.1"/><use href="#o" x="875.3" y="619.1"/><use href="#o" x="911.1" y="720.2"/><use href="#p" x="839.4" y="731.8"/><use href="#p" x="748.0" y="643.0"/><use href="#o" x="916.2" y="379.8"/>
<use href="#o" x="924.2" y="380.7"/><use href="#o" x="154.7" y="618.7"/><use href="#o" x="732.3" y="662.1"/><use href="#o" x="967.8" y="508.3"/><use href="#p" x="256.4" y="108.4"/><use href="#p" x="893.4" y="454.8"/><use href="#p" x="708.6" y="113.3"/><use href="#o" x="197.1" y="608.4"/>
<use href="#p" x="237.3" y="687.5"/><use href="#p" x="204.3" y="352.2"/><use href="#o" x="166.3" y="615.5"/><use href="#p" x="169.3" y="524.8"/><use href="#o" x="762.7" y="719.4"/><use href="#o" x="875.1" y="590.8"/><use href="#o" x="937.5" y="710.3"/><use href="#o" x="286.7" y="611.2"/>
<use href="#p" x="855.1" y="457.1"/><use href="#o" x="759.6" y="551.7"/><use href="#o" x="203.9" y="643.4"/><use href="#p" x="220.0" y="494.8"/><use href="#o" x="779.3" y="613.0"/><use href="#p" x="751.6" y="592.9"/><use href="#p" x="784.5" y="529.4"/><use href="#p" x="699.2" y="98.3"/>
<use href="#o" x="189.8" y="657.3"/><use href="#o" x="963.5" y="566.0"/><use href="#p" x="181.3" y="687.7"/><use href="#p" x="726.8" y="172.0"/><use href="#o" x="887.6" y="767.4"/><use href="#o" x="821.9" y="669.2"/><use href="#p" x="708.7" y="114.3"/><use href="#p" x="206.6" y="330.2"/>
<use href="#p" x="218.5" y="272.5"/><use href="#o" x="259.8" y="543.3"/><use href="#o" x="946.7" y="642.6"/><use href="#o" x="960.0" y="557.1"/><use href="#p" x="804.0" y="404.5"/><use href="#p" x="925.5" y="401.6"/><use href="#p" x="720.1" y="138.6"/><use href="#p" x="815.2" y="517.3"/>
<use href="#o" x="270.3" y="653.9"/><use href="#p" x="262.5" y="195.0"/><use href="#p" x="236.5" y="697.3"/><use href="#o" x="222.6" y="619.1"/><use href="#o" x="720.0" y="168.8"/><use href="#o" x="774.7" y="747.0"/><use href="#p" x="906.0" y="556.1"/><use href="#o" x="198.0" y="618.1"/>
<use href="#p" x="876.1" y="528.6"/><use href="#p" x="868.1" y="682.4"/><use href="#o" x="223.1" y="654.3"/><use href="#p" x="221.7" y="288.1"/><use href="#o" x="958.3" y="524.1"/><use href="#o" x="769.1" y="568.4"/><use href="#p" x="840.0" y="719.3"/><use href="#p" x="893.7" y="719.0"/>
<use href="#p" x="195.7" y="392.1"/><use href="#o" x="794.5" y="577.9"/><use href="#o" x="241.4" y="548.6"/><use href="#p" x="306.7" y="554.3"/><use href="#o" x="946.5" y="614.5"/><use href="#o" x="899.1" y="406.9"/><use href="#p" x="809.5" y="687.3"/><use href="#o" x="970.1" y="435.3"/>
<use href="#p" x="248.1" y="159.3"/><use href="#p" x="153.3" y="525.1"/><use href="#o" x="963.2" y="658.5"/><use href="#p" x="181.7" y="432.9"/><use href="#o" x="183.4" y="477.2"/><use href="#p" x="854.3" y="589.7"/><use href="#o" x="789.1" y="765.5"/><use href="#o" x="976.0" y="471.3"/>
<use href="#p" x="868.4" y="629.4"/><use href="#o" x="203.9" y="629.9"/><use href="#o" x="235.5" y="453.1"/><use href="#o" x="948.4" y="717.8"/><use href="#p" x="154.9" y="438.8"/><use href="#o" x="948.9" y="577.7"/><use href="#p" x="214.8" y="299.3"/><use href="#p" x="204.1" y="350.6"/>
<use href="#p" x="929.0" y="488.2"/><use href="#p" x="778.4" y="496.9"/><use href="#p" x="720.6" y="123.2"/><use href="#o" x="829.0" y="745.7"/><use href="#p" x="848.7" y="434.8"/><use href="#p" x="272.9" y="171.5"/><use href="#p" x="694.1" y="118.7"/><use href="#p" x="969.9" y="579.1"/>
<use href="#p" x="275.0" y="589.9"/><use href="#o" x="242.4" y="523.1"/><use href="#p" x="791.6" y="664.3"/><use href="#p" x="241.1" y="528.0"/><use href="#p" x="679.6" y="180.3"/><use href="#p" x="920.7" y="454.2"/><use href="#o" x="941.6" y="589.0"/><use href="#p" x="291.3" y="156.7"/>
<use href="#p" x="665.2" y="212.7"/><use href="#p" x="277.3" y="646.2"/><use href="#p" x="864.6" y="443.5"/><use href="#o" x="943.4" y="415.2"/><use href="#p" x="673.7" y="160.4"/><use href="#o" x="969.7" y="498.0"/><use href="#o" x="768.9" y="659.4"/><use href="#o" x="786.6" y="769.0"/>
<use href="#p" x="221.6" y="701.9"/><use href="#p" x="236.0" y="137.0"/><use href="#p" x="157.7" y="502.1"/><use href="#p" x="786.5" y="481.9"/><use href="#o" x="908.5" y="493.5"/><use href="#p" x="710.7" y="180.0"/><use href="#o" x="744.9" y="734.5"/><use href="#p" x="689.4" y="136.3"/>
<use href="#p" x="244.2" y="501.9"/><use href="#o" x="773.5" y="565.4"/><use href="#o" x="792.9" y="705.9"/><use href="#o" x="243.6" y="618.2"/><use href="#o" x="271.9" y="479.9"/><use href="#p" x="208.6" y="286.1"/><use href="#o" x="979.0" y="548.9"/><use href="#p" x="266.4" y="399.0"/>
<use href="#o" x="167.9" y="652.8"/><use href="#o" x="933.5" y="707.1"/><use href="#p" x="203.3" y="321.3"/><use href="#o" x="908.0" y="694.0"/><use href="#p" x="639.2" y="134.2"/><use href="#o" x="763.7" y="676.2"/><use href="#o" x="907.8" y="640.7"/><use href="#p" x="174.9" y="560.1"/>
<use href="#p" x="933.1" y="505.9"/><use href="#o" x="927.4" y="627.0"/><use href="#o" x="179.2" y="690.3"/><use href="#p" x="181.9" y="531.8"/><use href="#p" x="948.4" y="458.5"/><use href="#p" x="879.6" y="505.9"/><use href="#o" x="695.0" y="73.8"/><use href="#o" x="333.0" y="150.4"/>
<use href="#o" x="244.3" y="695.3"/><use href="#p" x="866.3" y="659.7"/><use href="#p" x="328.0" y="138.3"/><use href="#p" x="841.2" y="804.9"/><use href="#o" x="290.3" y="518.5"/><use href="#o" x="259.3" y="535.0"/><use href="#o" x="806.6" y="811.7"/><use href="#o" x="847.0" y="713.9"/>
<use href="#p" x="683.7" y="182.3"/><use href="#p" x="208.6" y="266.5"/><use href="#p" x="220.2" y="447.5"/><use href="#o" x="262.0" y="573.0"/><use href="#p" x="138.2" y="563.3"/><use href="#o" x="915.7" y="643.4"/><use href="#o" x="736.3" y="736.1"/><use href="#o" x="936.6" y="560.6"/>
<use href="#p" x="259.1" y="233.8"/><use href="#o" x="875.8" y="520.8"/><use href="#o" x="768.2" y="831.7"/><use href="#p" x="150.2" y="551.5"/><use href="#o" x="747.5" y="823.6"/><use href="#o" x="882.6" y="648.9"/><use href="#p" x="887.2" y="746.7"/><use href="#o" x="172.4" y="492.5"/>
<use href="#p" x="217.0" y="267.8"/><use href="#p" x="954.6" y="660.0"/><use href="#o" x="236.6" y="577.0"/><use href="#p" x="286.4" y="74.5"/><use href="#o" x="189.4" y="717.5"/><use href="#p" x="943.5" y="722.5"/><use href="#o" x="931.8" y="408.5"/><use href="#p" x="820.6" y="482.7"/>
<use href="#o" x="975.3" y="458.5"/><use href="#p" x="287.2" y="169.7"/><use href="#o" x="169.1" y="587.0"/><use href="#p" x="811.0" y="417.8"/><use href="#p" x="954.6" y="619.9"/><use href="#o" x="194.1" y="632.0"/><use href="#o" x="947.3" y="644.4"/><use href="#p" x="774.8" y="675.4"/>
</g>
<g class="tk" text-anchor="end">
<text x="69.6" y="72.82">4</text>
<text x="69.6" y="295.16">2</text>
<text x="69.6" y="517.50">0</text>
<text x="69.6" y="739.84">-2</text>
</g>
<g class="tk" text-anchor="middle">
<text x="147.10" y="905.9">-10</text>
<text x="360.85" y="905.9">-5</text>
<text x="574.60" y="905.9">0</text>
<text x="788.35" y="905.9">5</text>
<text x="1002.10" y="905.9">10</text>
</g>
<text class="tt" text-anchor="middle" x="553.3" y="939.7">UMAP1</text>
<text class="tt" text-anchor="middle" transform="translate(35.8,446.2) rotate(-90) scale(1,1.045)">UMAP2</text>
<text class="tt" x="1067.5" y="403.3">genre</text>
<use href="#p" x="1090.5" y="443.2"/>
<use href="#o" x="1090.5" y="489.3"/>
<text class="lg" x="1128" y="451.8">Dark Trap</text>
<text class="lg" x="1128" y="497.9">Underground Rap</text>
</svg></body></html>
